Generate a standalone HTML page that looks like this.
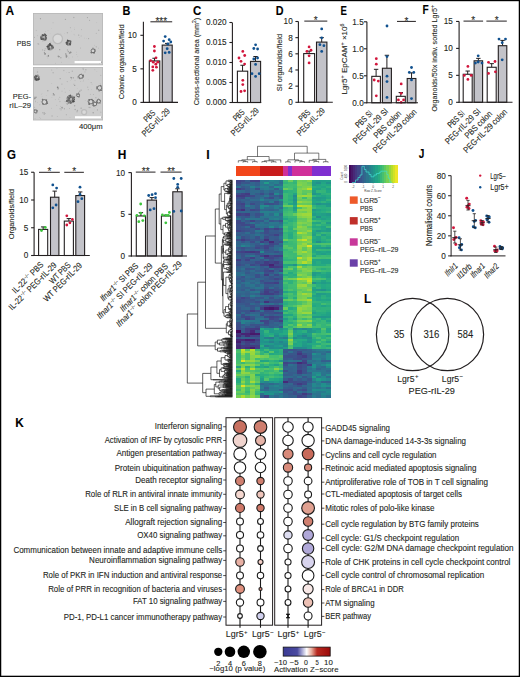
<!DOCTYPE html>
<html><head><meta charset="utf-8"><style>
html,body{margin:0;padding:0;background:#fff;width:520px;height:677px;overflow:hidden}
svg{display:block}
text{font-family:"Liberation Sans", sans-serif; stroke:#231f20; stroke-width:0.1px; paint-order:stroke}
</style></head><body>
<svg width="520" height="677" viewBox="0 0 520 677" font-family='"Liberation Sans", sans-serif'>
<rect x="0.00" y="0.00" width="520.00" height="677.00" fill="#fff"/>
<text x="5.60" y="14.60" font-size="12.3" fill="#000" font-weight="bold" textLength="8.60" lengthAdjust="spacingAndGlyphs">A</text>
<defs><filter id="bl" x="-10%" y="-10%" width="120%" height="120%"><feGaussianBlur stdDeviation="0.7"/></filter><clipPath id="ca1"><rect x="33.5" y="13.5" width="69" height="51.2"/></clipPath><clipPath id="ca2"><rect x="33.5" y="67.5" width="69" height="52.3"/></clipPath></defs>
<rect x="33.00" y="13.00" width="70.00" height="52.20" fill="#cdcdcd"/>
<g clip-path="url(#ca1)" filter="url(#bl)">
<circle cx="45.22" cy="48.63" r="0.54" fill="#b2b2b2"/>
<circle cx="48.69" cy="53.79" r="0.39" fill="#c0c0c0"/>
<circle cx="69.87" cy="53.58" r="0.49" fill="#a0a0a0"/>
<circle cx="73.80" cy="17.48" r="0.76" fill="#aeaeae"/>
<circle cx="81.19" cy="35.93" r="0.61" fill="#bababa"/>
<circle cx="36.32" cy="30.51" r="0.65" fill="#bfbfbf"/>
<circle cx="78.12" cy="61.08" r="0.38" fill="#a1a1a1"/>
<circle cx="89.59" cy="20.27" r="0.53" fill="#a1a1a1"/>
<circle cx="71.54" cy="31.21" r="0.38" fill="#bfbfbf"/>
<circle cx="79.23" cy="37.59" r="0.34" fill="#afafaf"/>
<circle cx="47.42" cy="47.82" r="0.36" fill="#a4a4a4"/>
<circle cx="66.39" cy="55.52" r="0.47" fill="#acacac"/>
<circle cx="43.94" cy="40.90" r="0.48" fill="#b2b2b2"/>
<circle cx="64.69" cy="33.37" r="0.49" fill="#bfbfbf"/>
<circle cx="35.82" cy="18.68" r="0.30" fill="#bfbfbf"/>
<circle cx="38.77" cy="44.09" r="0.59" fill="#aeaeae"/>
<circle cx="55.67" cy="63.20" r="0.39" fill="#a7a7a7"/>
<circle cx="45.57" cy="31.48" r="0.47" fill="#b5b5b5"/>
<circle cx="74.61" cy="29.39" r="0.38" fill="#a6a6a6"/>
<circle cx="96.77" cy="22.74" r="0.49" fill="#bbbbbb"/>
<circle cx="80.47" cy="47.93" r="0.50" fill="#afafaf"/>
<circle cx="101.26" cy="62.26" r="0.74" fill="#a0a0a0"/>
<circle cx="67.38" cy="32.85" r="0.77" fill="#afafaf"/>
<circle cx="50.72" cy="42.20" r="0.70" fill="#bcbcbc"/>
<circle cx="86.63" cy="38.26" r="0.33" fill="#b2b2b2"/>
<circle cx="51.54" cy="28.55" r="0.42" fill="#bababa"/>
<circle cx="60.83" cy="57.69" r="0.79" fill="#a9a9a9"/>
<circle cx="84.72" cy="38.04" r="0.37" fill="#b0b0b0"/>
<circle cx="78.22" cy="59.75" r="0.31" fill="#bebebe"/>
<circle cx="48.42" cy="56.08" r="0.74" fill="#a9a9a9"/>
<circle cx="74.89" cy="35.39" r="0.45" fill="#bebebe"/>
<circle cx="70.33" cy="27.85" r="0.49" fill="#a0a0a0"/>
<circle cx="42.56" cy="49.93" r="0.60" fill="#b0b0b0"/>
<circle cx="77.78" cy="56.75" r="0.43" fill="#bababa"/>
<circle cx="61.58" cy="62.13" r="0.37" fill="#a8a8a8"/>
<circle cx="40.45" cy="18.72" r="0.62" fill="#a1a1a1"/>
<circle cx="87.46" cy="17.61" r="0.63" fill="#a7a7a7"/>
<circle cx="42.60" cy="41.04" r="0.50" fill="#b4b4b4"/>
<circle cx="94.38" cy="45.18" r="0.39" fill="#ababab"/>
<circle cx="59.69" cy="49.64" r="0.60" fill="#a2a2a2"/>
<circle cx="68.33" cy="51.43" r="0.70" fill="#a3a3a3"/>
<circle cx="34.53" cy="37.29" r="0.50" fill="#a4a4a4"/>
<circle cx="72.55" cy="56.89" r="0.43" fill="#aeaeae"/>
<circle cx="81.38" cy="29.74" r="0.42" fill="#a2a2a2"/>
<circle cx="44.62" cy="50.45" r="0.71" fill="#b2b2b2"/>
<circle cx="88.61" cy="38.60" r="0.57" fill="#a6a6a6"/>
<circle cx="38.08" cy="43.86" r="0.78" fill="#b4b4b4"/>
<circle cx="55.09" cy="49.11" r="0.33" fill="#acacac"/>
<circle cx="89.40" cy="63.04" r="0.33" fill="#b6b6b6"/>
<circle cx="78.74" cy="35.10" r="0.63" fill="#a4a4a4"/>
<circle cx="76.61" cy="54.55" r="0.55" fill="#bcbcbc"/>
<circle cx="98.40" cy="48.13" r="0.54" fill="#bcbcbc"/>
<circle cx="68.88" cy="57.96" r="0.41" fill="#a4a4a4"/>
<circle cx="37.32" cy="35.78" r="0.44" fill="#afafaf"/>
<circle cx="74.08" cy="34.31" r="0.53" fill="#bbbbbb"/>
<circle cx="50.08" cy="33.35" r="0.41" fill="#bfbfbf"/>
<circle cx="96.20" cy="46.85" r="0.54" fill="#a2a2a2"/>
<circle cx="67.45" cy="50.00" r="0.69" fill="#adadad"/>
<circle cx="76.62" cy="52.08" r="0.42" fill="#b0b0b0"/>
<circle cx="96.33" cy="33.37" r="0.71" fill="#b8b8b8"/>
<circle cx="99.53" cy="63.66" r="0.38" fill="#a0a0a0"/>
<circle cx="47.74" cy="57.96" r="0.35" fill="#a9a9a9"/>
<circle cx="45.92" cy="40.22" r="0.67" fill="#b8b8b8"/>
<circle cx="65.44" cy="19.43" r="0.65" fill="#aaaaaa"/>
<circle cx="48.00" cy="30.83" r="0.43" fill="#acacac"/>
<circle cx="98.68" cy="30.17" r="0.77" fill="#b0b0b0"/>
<circle cx="99.77" cy="59.17" r="0.40" fill="#c0c0c0"/>
<circle cx="74.66" cy="27.93" r="0.38" fill="#b8b8b8"/>
<circle cx="60.70" cy="34.16" r="0.61" fill="#bdbdbd"/>
<circle cx="53.08" cy="22.75" r="0.61" fill="#b8b8b8"/>
<circle cx="43.60" cy="37.20" r="3.13" fill="#9a9a9a"/>
<circle cx="46.24" cy="39.09" r="0.52" fill="#555555"/>
<circle cx="44.77" cy="34.26" r="0.68" fill="#757575"/>
<circle cx="45.74" cy="38.29" r="0.80" fill="#616161"/>
<circle cx="43.09" cy="35.61" r="0.97" fill="#484848"/>
<circle cx="45.54" cy="39.80" r="0.73" fill="#545454"/>
<circle cx="45.14" cy="36.00" r="0.79" fill="#505050"/>
<circle cx="45.37" cy="36.11" r="0.65" fill="#4b4b4b"/>
<circle cx="40.96" cy="38.72" r="0.61" fill="#575757"/>
<circle cx="44.56" cy="34.39" r="0.94" fill="#656565"/>
<circle cx="45.99" cy="37.47" r="0.72" fill="#4d4d4d"/>
<circle cx="45.23" cy="34.36" r="0.59" fill="#727272"/>
<circle cx="46.30" cy="38.26" r="0.77" fill="#6e6e6e"/>
<circle cx="40.99" cy="37.34" r="0.67" fill="#737373"/>
<circle cx="43.36" cy="39.10" r="0.82" fill="#5b5b5b"/>
<circle cx="46.48" cy="37.37" r="0.53" fill="#727272"/>
<circle cx="41.00" cy="37.01" r="0.68" fill="#545454"/>
<circle cx="42.70" cy="38.40" r="0.75" fill="#6d6d6d"/>
<circle cx="42.52" cy="34.88" r="0.52" fill="#525252"/>
<circle cx="43.81" cy="39.11" r="0.70" fill="#585858"/>
<circle cx="42.61" cy="34.67" r="0.71" fill="#696969"/>
<circle cx="42.87" cy="38.65" r="0.52" fill="#686868"/>
<circle cx="42.22" cy="39.04" r="0.82" fill="#707070"/>
<circle cx="45.53" cy="37.46" r="0.58" fill="#666666"/>
<circle cx="45.31" cy="34.88" r="0.84" fill="#595959"/>
<circle cx="44.18" cy="39.96" r="0.77" fill="#6f6f6f"/>
<circle cx="46.32" cy="35.44" r="0.61" fill="#606060"/>
<circle cx="41.02" cy="37.79" r="0.51" fill="#5f5f5f"/>
<circle cx="42.12" cy="39.18" r="0.51" fill="#6e6e6e"/>
<circle cx="41.63" cy="39.14" r="0.97" fill="#535353"/>
<circle cx="44.00" cy="36.90" r="0.82" fill="#c0c0c0"/>
<circle cx="50.00" cy="47.20" r="3.23" fill="#9a9a9a"/>
<circle cx="46.94" cy="46.49" r="0.61" fill="#555555"/>
<circle cx="48.19" cy="47.03" r="0.87" fill="#646464"/>
<circle cx="51.47" cy="45.86" r="0.62" fill="#4d4d4d"/>
<circle cx="48.40" cy="46.05" r="0.91" fill="#727272"/>
<circle cx="49.04" cy="48.33" r="0.96" fill="#494949"/>
<circle cx="52.74" cy="46.40" r="0.87" fill="#727272"/>
<circle cx="49.91" cy="45.54" r="0.76" fill="#6a6a6a"/>
<circle cx="51.84" cy="45.78" r="0.58" fill="#4f4f4f"/>
<circle cx="48.67" cy="45.03" r="0.89" fill="#656565"/>
<circle cx="50.02" cy="44.57" r="0.59" fill="#585858"/>
<circle cx="50.78" cy="45.71" r="0.63" fill="#666666"/>
<circle cx="47.86" cy="46.68" r="0.89" fill="#4a4a4a"/>
<circle cx="48.89" cy="49.05" r="0.87" fill="#5b5b5b"/>
<circle cx="49.59" cy="43.84" r="0.57" fill="#606060"/>
<circle cx="52.85" cy="47.79" r="0.65" fill="#6d6d6d"/>
<circle cx="51.09" cy="45.29" r="0.61" fill="#676767"/>
<circle cx="49.70" cy="44.23" r="0.84" fill="#666666"/>
<circle cx="53.17" cy="47.74" r="0.75" fill="#505050"/>
<circle cx="48.01" cy="47.69" r="0.72" fill="#707070"/>
<circle cx="49.74" cy="45.88" r="0.88" fill="#585858"/>
<circle cx="48.77" cy="48.43" r="0.90" fill="#656565"/>
<circle cx="51.47" cy="46.49" r="0.95" fill="#5d5d5d"/>
<circle cx="51.65" cy="48.07" r="0.56" fill="#707070"/>
<circle cx="50.03" cy="43.94" r="0.84" fill="#4e4e4e"/>
<circle cx="49.53" cy="48.80" r="0.57" fill="#555555"/>
<circle cx="50.30" cy="44.94" r="0.84" fill="#4a4a4a"/>
<circle cx="48.66" cy="49.46" r="0.50" fill="#5f5f5f"/>
<circle cx="51.00" cy="45.68" r="0.85" fill="#585858"/>
<circle cx="48.75" cy="47.96" r="0.83" fill="#6e6e6e"/>
<circle cx="52.77" cy="47.57" r="0.85" fill="#6e6e6e"/>
<circle cx="50.40" cy="46.90" r="0.85" fill="#c0c0c0"/>
<circle cx="57.7" cy="38.8" r="4.8" fill="#d9d9d9" stroke="#bcbcbc" stroke-width="1.3"/>
<circle cx="68.80" cy="42.60" r="2.66" fill="#9a9a9a"/>
<circle cx="66.85" cy="42.75" r="0.69" fill="#6b6b6b"/>
<circle cx="67.40" cy="40.99" r="0.57" fill="#5f5f5f"/>
<circle cx="67.34" cy="43.63" r="0.73" fill="#717171"/>
<circle cx="67.42" cy="42.48" r="0.51" fill="#565656"/>
<circle cx="67.68" cy="41.18" r="0.89" fill="#565656"/>
<circle cx="70.71" cy="41.25" r="0.75" fill="#5e5e5e"/>
<circle cx="70.04" cy="44.70" r="0.85" fill="#5c5c5c"/>
<circle cx="67.97" cy="45.21" r="0.59" fill="#656565"/>
<circle cx="70.03" cy="44.32" r="0.61" fill="#515151"/>
<circle cx="70.29" cy="43.86" r="0.81" fill="#4f4f4f"/>
<circle cx="69.67" cy="43.44" r="0.85" fill="#747474"/>
<circle cx="67.70" cy="42.33" r="0.61" fill="#575757"/>
<circle cx="67.50" cy="42.01" r="0.79" fill="#636363"/>
<circle cx="69.60" cy="40.85" r="0.91" fill="#727272"/>
<circle cx="66.60" cy="44.21" r="0.68" fill="#737373"/>
<circle cx="69.03" cy="41.58" r="0.52" fill="#676767"/>
<circle cx="66.78" cy="43.99" r="0.59" fill="#666666"/>
<circle cx="69.81" cy="42.10" r="0.89" fill="#585858"/>
<circle cx="68.43" cy="40.69" r="0.64" fill="#525252"/>
<circle cx="67.51" cy="43.96" r="0.69" fill="#585858"/>
<circle cx="69.14" cy="41.58" r="0.79" fill="#5a5a5a"/>
<circle cx="66.34" cy="42.81" r="0.88" fill="#505050"/>
<circle cx="69.71" cy="43.84" r="0.63" fill="#4f4f4f"/>
<circle cx="67.64" cy="40.24" r="0.69" fill="#4b4b4b"/>
<circle cx="69.96" cy="41.29" r="0.55" fill="#747474"/>
<circle cx="70.16" cy="42.36" r="0.86" fill="#5f5f5f"/>
<circle cx="69.20" cy="42.30" r="0.70" fill="#c0c0c0"/>
<circle cx="93.0" cy="50.8" r="1.9" fill="#d4d4d4" stroke="#666" stroke-width="0.9"/>
<circle cx="95.27" cy="51.49" r="0.53" fill="#868686"/>
<circle cx="94.00" cy="53.18" r="0.60" fill="#7b7b7b"/>
<circle cx="94.08" cy="52.57" r="0.75" fill="#6a6a6a"/>
<circle cx="91.75" cy="52.85" r="0.74" fill="#6e6e6e"/>
<circle cx="95.05" cy="50.33" r="0.61" fill="#767676"/>
<circle cx="91.50" cy="52.30" r="0.76" fill="#868686"/>
<circle cx="93.91" cy="52.79" r="0.53" fill="#696969"/>
<circle cx="94.96" cy="49.20" r="0.52" fill="#696969"/>
<circle cx="93.00" cy="48.38" r="0.79" fill="#8f8f8f"/>
<circle cx="94.52" cy="49.35" r="0.53" fill="#737373"/>
<circle cx="91.09" cy="52.60" r="0.69" fill="#6a6a6a"/>
<circle cx="44.33" cy="52.41" r="0.53" fill="#818181"/>
<circle cx="44.69" cy="52.30" r="0.46" fill="#a7a7a7"/>
<circle cx="45.02" cy="53.84" r="0.89" fill="#818181"/>
<circle cx="44.39" cy="53.43" r="0.51" fill="#9f9f9f"/>
<circle cx="48.31" cy="55.86" r="0.73" fill="#8a8a8a"/>
<circle cx="48.54" cy="56.04" r="0.42" fill="#929292"/>
<circle cx="48.51" cy="55.33" r="0.46" fill="#808080"/>
<circle cx="47.10" cy="56.27" r="0.46" fill="#9e9e9e"/>
<circle cx="66.77" cy="55.99" r="0.84" fill="#a0a0a0"/>
<circle cx="66.22" cy="55.15" r="0.76" fill="#929292"/>
<circle cx="65.79" cy="53.92" r="0.60" fill="#878787"/>
<circle cx="66.38" cy="56.80" r="0.84" fill="#909090"/>
<circle cx="70.69" cy="52.27" r="0.57" fill="#909090"/>
<circle cx="69.70" cy="53.26" r="0.81" fill="#a8a8a8"/>
<circle cx="70.59" cy="52.32" r="0.88" fill="#919191"/>
<circle cx="69.33" cy="52.69" r="0.51" fill="#828282"/>
<circle cx="58.18" cy="56.15" r="0.56" fill="#818181"/>
<circle cx="58.52" cy="56.33" r="0.56" fill="#a3a3a3"/>
<circle cx="59.19" cy="56.46" r="0.49" fill="#8a8a8a"/>
<circle cx="58.84" cy="56.69" r="0.76" fill="#939393"/>
</g>
<rect x="33.40" y="13.40" width="69.20" height="51.40" fill="none" stroke="#b8b8b8" stroke-width="0.8"/>
<rect x="33.00" y="67.00" width="70.00" height="53.30" fill="#cdcdcd"/>
<g clip-path="url(#ca2)" filter="url(#bl)">
<circle cx="60.11" cy="108.78" r="0.67" fill="#b2b2b2"/>
<circle cx="83.59" cy="80.52" r="0.41" fill="#b4b4b4"/>
<circle cx="89.85" cy="107.49" r="0.80" fill="#acacac"/>
<circle cx="39.70" cy="117.48" r="0.53" fill="#bdbdbd"/>
<circle cx="81.11" cy="108.24" r="0.66" fill="#ababab"/>
<circle cx="63.80" cy="70.57" r="0.76" fill="#b8b8b8"/>
<circle cx="39.76" cy="104.66" r="0.75" fill="#bfbfbf"/>
<circle cx="97.43" cy="109.92" r="0.61" fill="#a7a7a7"/>
<circle cx="34.60" cy="107.32" r="0.56" fill="#b3b3b3"/>
<circle cx="83.08" cy="68.10" r="0.74" fill="#a4a4a4"/>
<circle cx="101.06" cy="117.22" r="0.59" fill="#a5a5a5"/>
<circle cx="58.71" cy="99.10" r="0.69" fill="#b9b9b9"/>
<circle cx="67.22" cy="81.61" r="0.62" fill="#b3b3b3"/>
<circle cx="100.11" cy="83.48" r="0.38" fill="#a9a9a9"/>
<circle cx="61.95" cy="84.08" r="0.68" fill="#b0b0b0"/>
<circle cx="60.68" cy="106.20" r="0.57" fill="#b7b7b7"/>
<circle cx="37.47" cy="72.05" r="0.74" fill="#acacac"/>
<circle cx="65.29" cy="92.25" r="0.72" fill="#c0c0c0"/>
<circle cx="78.74" cy="92.27" r="0.64" fill="#acacac"/>
<circle cx="55.45" cy="99.60" r="0.57" fill="#bebebe"/>
<circle cx="85.17" cy="100.46" r="0.40" fill="#b0b0b0"/>
<circle cx="46.22" cy="95.74" r="0.35" fill="#aaaaaa"/>
<circle cx="83.20" cy="81.61" r="0.51" fill="#bebebe"/>
<circle cx="70.38" cy="80.75" r="0.34" fill="#b0b0b0"/>
<circle cx="75.14" cy="109.54" r="0.72" fill="#a7a7a7"/>
<circle cx="72.29" cy="71.21" r="0.65" fill="#aaaaaa"/>
<circle cx="68.71" cy="96.43" r="0.62" fill="#afafaf"/>
<circle cx="81.50" cy="119.12" r="0.43" fill="#b9b9b9"/>
<circle cx="81.08" cy="90.12" r="0.66" fill="#a0a0a0"/>
<circle cx="99.86" cy="89.44" r="0.77" fill="#b0b0b0"/>
<circle cx="76.81" cy="111.98" r="0.44" fill="#bfbfbf"/>
<circle cx="83.81" cy="79.85" r="0.43" fill="#b7b7b7"/>
<circle cx="99.33" cy="95.17" r="0.33" fill="#c0c0c0"/>
<circle cx="80.18" cy="117.08" r="0.73" fill="#aeaeae"/>
<circle cx="41.02" cy="101.61" r="0.39" fill="#aeaeae"/>
<circle cx="73.52" cy="84.17" r="0.32" fill="#a5a5a5"/>
<circle cx="37.49" cy="102.54" r="0.38" fill="#ababab"/>
<circle cx="60.99" cy="110.10" r="0.69" fill="#bdbdbd"/>
<circle cx="100.74" cy="75.49" r="0.62" fill="#b8b8b8"/>
<circle cx="64.45" cy="88.71" r="0.47" fill="#b8b8b8"/>
<circle cx="79.70" cy="78.49" r="0.71" fill="#c0c0c0"/>
<circle cx="40.75" cy="118.29" r="0.36" fill="#a2a2a2"/>
<circle cx="59.92" cy="101.49" r="0.70" fill="#b9b9b9"/>
<circle cx="66.46" cy="72.31" r="0.33" fill="#b9b9b9"/>
<circle cx="86.09" cy="114.89" r="0.37" fill="#b0b0b0"/>
<circle cx="69.12" cy="72.55" r="0.53" fill="#a6a6a6"/>
<circle cx="62.01" cy="91.17" r="0.68" fill="#bebebe"/>
<circle cx="94.12" cy="109.11" r="0.42" fill="#bababa"/>
<circle cx="95.81" cy="107.58" r="0.42" fill="#b0b0b0"/>
<circle cx="51.93" cy="97.46" r="0.42" fill="#bbbbbb"/>
<circle cx="97.87" cy="105.81" r="0.49" fill="#bbbbbb"/>
<circle cx="57.28" cy="116.52" r="0.46" fill="#acacac"/>
<circle cx="91.19" cy="82.58" r="0.64" fill="#b2b2b2"/>
<circle cx="35.78" cy="100.35" r="0.33" fill="#b1b1b1"/>
<circle cx="41.99" cy="93.55" r="0.46" fill="#bebebe"/>
<circle cx="91.37" cy="89.72" r="0.41" fill="#b8b8b8"/>
<circle cx="51.65" cy="108.14" r="0.39" fill="#a8a8a8"/>
<circle cx="84.99" cy="71.96" r="0.61" fill="#b7b7b7"/>
<circle cx="70.03" cy="117.57" r="0.50" fill="#c0c0c0"/>
<circle cx="41.23" cy="94.48" r="0.34" fill="#a9a9a9"/>
<circle cx="76.01" cy="116.58" r="0.40" fill="#bfbfbf"/>
<circle cx="88.16" cy="79.72" r="0.31" fill="#adadad"/>
<circle cx="78.10" cy="78.40" r="0.60" fill="#b5b5b5"/>
<circle cx="74.65" cy="105.73" r="0.76" fill="#a7a7a7"/>
<circle cx="53.13" cy="72.78" r="0.74" fill="#b1b1b1"/>
<circle cx="85.84" cy="69.86" r="0.76" fill="#afafaf"/>
<circle cx="88.21" cy="89.70" r="0.49" fill="#a3a3a3"/>
<circle cx="66.49" cy="101.55" r="0.31" fill="#a1a1a1"/>
<circle cx="94.83" cy="69.69" r="0.58" fill="#bfbfbf"/>
<circle cx="74.06" cy="84.16" r="0.66" fill="#bdbdbd"/>
<circle cx="95.89" cy="97.79" r="0.71" fill="#b1b1b1"/>
<circle cx="80.68" cy="81.44" r="0.45" fill="#b4b4b4"/>
<circle cx="82.92" cy="74.77" r="0.58" fill="#aaaaaa"/>
<circle cx="90.30" cy="94.25" r="0.49" fill="#aaaaaa"/>
<circle cx="69.55" cy="108.54" r="0.43" fill="#a5a5a5"/>
<circle cx="81.20" cy="108.11" r="0.49" fill="#b6b6b6"/>
<circle cx="66.31" cy="114.72" r="0.54" fill="#a4a4a4"/>
<circle cx="77.08" cy="111.67" r="0.57" fill="#afafaf"/>
<circle cx="56.91" cy="68.03" r="0.65" fill="#bebebe"/>
<circle cx="77.17" cy="88.26" r="0.30" fill="#aaaaaa"/>
<circle cx="35.02" cy="118.26" r="0.37" fill="#a4a4a4"/>
<circle cx="51.72" cy="70.07" r="0.54" fill="#aeaeae"/>
<circle cx="77.42" cy="110.61" r="0.77" fill="#acacac"/>
<circle cx="92.03" cy="84.10" r="0.37" fill="#a9a9a9"/>
<circle cx="57.66" cy="89.49" r="0.45" fill="#b1b1b1"/>
<circle cx="60.23" cy="78.63" r="0.74" fill="#ababab"/>
<circle cx="93.18" cy="112.75" r="0.74" fill="#a2a2a2"/>
<circle cx="52.13" cy="95.12" r="0.41" fill="#bababa"/>
<circle cx="74.69" cy="85.39" r="0.67" fill="#a0a0a0"/>
<circle cx="37.29" cy="69.90" r="0.38" fill="#bdbdbd"/>
<circle cx="79.75" cy="91.26" r="0.72" fill="#a9a9a9"/>
<circle cx="69.30" cy="90.35" r="0.37" fill="#aeaeae"/>
<circle cx="93.35" cy="94.54" r="0.47" fill="#a2a2a2"/>
<circle cx="42.10" cy="96.65" r="0.51" fill="#c0c0c0"/>
<circle cx="52.05" cy="116.04" r="0.75" fill="#b2b2b2"/>
<circle cx="51.81" cy="83.66" r="0.33" fill="#ababab"/>
<circle cx="56.73" cy="105.33" r="0.52" fill="#b6b6b6"/>
<circle cx="100.85" cy="112.13" r="0.65" fill="#b6b6b6"/>
<circle cx="66.93" cy="109.68" r="0.39" fill="#c0c0c0"/>
<circle cx="75.02" cy="80.52" r="0.73" fill="#bfbfbf"/>
<circle cx="39.40" cy="76.80" r="0.74" fill="#b6b6b6"/>
<circle cx="88.90" cy="107.35" r="0.58" fill="#b2b2b2"/>
<circle cx="101.63" cy="92.28" r="0.34" fill="#b4b4b4"/>
<circle cx="59.73" cy="97.30" r="0.56" fill="#aeaeae"/>
<circle cx="87.74" cy="87.17" r="0.60" fill="#b4b4b4"/>
<circle cx="35.42" cy="101.70" r="0.49" fill="#a0a0a0"/>
<circle cx="64.38" cy="108.74" r="0.64" fill="#aaaaaa"/>
<circle cx="83.22" cy="69.60" r="0.65" fill="#afafaf"/>
<circle cx="96.87" cy="71.67" r="0.38" fill="#b9b9b9"/>
<circle cx="47.84" cy="90.74" r="0.69" fill="#a5a5a5"/>
<circle cx="37.00" cy="77.80" r="2.85" fill="#9a9a9a"/>
<circle cx="36.20" cy="76.14" r="0.57" fill="#4a4a4a"/>
<circle cx="35.90" cy="75.22" r="0.57" fill="#545454"/>
<circle cx="36.38" cy="76.95" r="0.78" fill="#4b4b4b"/>
<circle cx="35.94" cy="76.44" r="0.66" fill="#545454"/>
<circle cx="35.38" cy="76.21" r="0.55" fill="#686868"/>
<circle cx="37.77" cy="79.37" r="0.53" fill="#616161"/>
<circle cx="34.86" cy="76.42" r="0.73" fill="#6a6a6a"/>
<circle cx="36.22" cy="79.97" r="0.61" fill="#636363"/>
<circle cx="38.56" cy="78.32" r="0.82" fill="#666666"/>
<circle cx="35.84" cy="78.11" r="0.86" fill="#717171"/>
<circle cx="35.25" cy="77.40" r="0.77" fill="#707070"/>
<circle cx="39.30" cy="79.26" r="0.61" fill="#5b5b5b"/>
<circle cx="36.84" cy="79.67" r="0.93" fill="#4e4e4e"/>
<circle cx="35.18" cy="79.80" r="0.67" fill="#515151"/>
<circle cx="38.06" cy="77.57" r="0.85" fill="#767676"/>
<circle cx="38.04" cy="79.09" r="0.72" fill="#4f4f4f"/>
<circle cx="38.38" cy="78.84" r="0.57" fill="#545454"/>
<circle cx="37.78" cy="79.58" r="0.80" fill="#707070"/>
<circle cx="35.79" cy="78.23" r="0.78" fill="#646464"/>
<circle cx="37.60" cy="78.75" r="0.54" fill="#5f5f5f"/>
<circle cx="39.27" cy="79.05" r="0.64" fill="#717171"/>
<circle cx="37.72" cy="76.86" r="0.62" fill="#5f5f5f"/>
<circle cx="34.13" cy="77.79" r="0.74" fill="#535353"/>
<circle cx="38.52" cy="78.43" r="0.94" fill="#636363"/>
<circle cx="38.30" cy="79.62" r="0.83" fill="#494949"/>
<circle cx="36.65" cy="79.89" r="0.69" fill="#545454"/>
<circle cx="35.58" cy="79.06" r="0.94" fill="#525252"/>
<circle cx="37.83" cy="74.94" r="0.54" fill="#565656"/>
<circle cx="37.40" cy="77.50" r="0.75" fill="#c0c0c0"/>
<circle cx="80.8" cy="76.4" r="2.0" fill="#d4d4d4" stroke="#666" stroke-width="0.9"/>
<circle cx="81.50" cy="74.17" r="0.58" fill="#8e8e8e"/>
<circle cx="83.19" cy="75.11" r="0.65" fill="#737373"/>
<circle cx="80.55" cy="78.53" r="0.68" fill="#898989"/>
<circle cx="82.63" cy="77.20" r="0.54" fill="#878787"/>
<circle cx="83.07" cy="77.01" r="0.62" fill="#666666"/>
<circle cx="79.65" cy="78.49" r="0.77" fill="#808080"/>
<circle cx="82.33" cy="77.93" r="0.72" fill="#868686"/>
<circle cx="83.34" cy="76.46" r="0.78" fill="#888888"/>
<circle cx="83.35" cy="75.55" r="0.57" fill="#686868"/>
<circle cx="83.49" cy="76.28" r="0.61" fill="#808080"/>
<circle cx="78.12" cy="76.94" r="0.72" fill="#7c7c7c"/>
<circle cx="99.6" cy="87.9" r="2.2" fill="#d4d4d4" stroke="#666" stroke-width="0.9"/>
<circle cx="99.13" cy="90.87" r="0.73" fill="#686868"/>
<circle cx="101.55" cy="90.25" r="0.72" fill="#777777"/>
<circle cx="100.63" cy="90.25" r="0.60" fill="#808080"/>
<circle cx="102.26" cy="88.40" r="0.56" fill="#6f6f6f"/>
<circle cx="100.81" cy="85.58" r="0.47" fill="#767676"/>
<circle cx="96.70" cy="88.72" r="0.78" fill="#858585"/>
<circle cx="97.17" cy="86.34" r="0.45" fill="#6b6b6b"/>
<circle cx="101.81" cy="88.46" r="0.40" fill="#888888"/>
<circle cx="101.19" cy="86.17" r="0.72" fill="#8a8a8a"/>
<circle cx="100.72" cy="90.50" r="0.53" fill="#727272"/>
<circle cx="96.64" cy="87.10" r="0.68" fill="#696969"/>
<circle cx="100.51" cy="85.36" r="0.67" fill="#747474"/>
<circle cx="70.70" cy="99.30" r="4.08" fill="#9a9a9a"/>
<circle cx="70.43" cy="97.82" r="0.80" fill="#494949"/>
<circle cx="69.18" cy="95.63" r="0.73" fill="#626262"/>
<circle cx="73.10" cy="101.07" r="0.99" fill="#4f4f4f"/>
<circle cx="68.89" cy="102.93" r="0.73" fill="#656565"/>
<circle cx="70.24" cy="101.37" r="0.62" fill="#4c4c4c"/>
<circle cx="74.46" cy="99.54" r="0.52" fill="#4c4c4c"/>
<circle cx="70.12" cy="96.58" r="0.97" fill="#6d6d6d"/>
<circle cx="72.97" cy="97.99" r="0.70" fill="#626262"/>
<circle cx="67.00" cy="101.00" r="0.57" fill="#525252"/>
<circle cx="72.41" cy="98.72" r="0.77" fill="#545454"/>
<circle cx="69.22" cy="98.35" r="0.75" fill="#575757"/>
<circle cx="70.83" cy="102.80" r="0.86" fill="#4a4a4a"/>
<circle cx="67.55" cy="101.00" r="0.51" fill="#616161"/>
<circle cx="72.20" cy="97.41" r="0.71" fill="#737373"/>
<circle cx="71.18" cy="97.49" r="0.53" fill="#6a6a6a"/>
<circle cx="66.79" cy="101.01" r="0.77" fill="#484848"/>
<circle cx="72.48" cy="99.13" r="0.98" fill="#676767"/>
<circle cx="69.06" cy="99.85" r="0.52" fill="#676767"/>
<circle cx="68.55" cy="100.03" r="0.89" fill="#525252"/>
<circle cx="73.09" cy="101.42" r="0.96" fill="#515151"/>
<circle cx="70.33" cy="95.44" r="0.83" fill="#5b5b5b"/>
<circle cx="68.58" cy="98.94" r="0.50" fill="#4c4c4c"/>
<circle cx="71.43" cy="97.13" r="0.80" fill="#757575"/>
<circle cx="68.66" cy="99.84" r="0.93" fill="#717171"/>
<circle cx="73.76" cy="98.53" r="0.91" fill="#727272"/>
<circle cx="70.36" cy="102.11" r="0.91" fill="#707070"/>
<circle cx="66.99" cy="98.02" r="0.57" fill="#787878"/>
<circle cx="68.20" cy="97.63" r="0.65" fill="#5d5d5d"/>
<circle cx="68.26" cy="100.97" r="0.56" fill="#6a6a6a"/>
<circle cx="74.25" cy="97.28" r="0.82" fill="#575757"/>
<circle cx="68.15" cy="99.39" r="0.51" fill="#6d6d6d"/>
<circle cx="73.96" cy="101.26" r="0.87" fill="#494949"/>
<circle cx="69.36" cy="100.41" r="0.74" fill="#707070"/>
<circle cx="67.70" cy="96.95" r="0.59" fill="#626262"/>
<circle cx="72.43" cy="99.96" r="0.65" fill="#696969"/>
<circle cx="71.10" cy="99.00" r="1.07" fill="#c0c0c0"/>
<circle cx="44.4" cy="102.0" r="2.4" fill="#d4d4d4" stroke="#666" stroke-width="0.9"/>
<circle cx="46.60" cy="99.68" r="0.54" fill="#6e6e6e"/>
<circle cx="43.03" cy="104.08" r="0.73" fill="#636363"/>
<circle cx="46.83" cy="102.85" r="0.80" fill="#878787"/>
<circle cx="46.77" cy="103.13" r="0.68" fill="#717171"/>
<circle cx="45.96" cy="100.09" r="0.68" fill="#7d7d7d"/>
<circle cx="46.46" cy="100.51" r="0.51" fill="#646464"/>
<circle cx="45.56" cy="104.48" r="0.46" fill="#8f8f8f"/>
<circle cx="42.52" cy="99.56" r="0.77" fill="#7c7c7c"/>
<circle cx="46.54" cy="104.50" r="0.43" fill="#727272"/>
<circle cx="47.44" cy="103.13" r="0.68" fill="#666666"/>
<circle cx="46.92" cy="101.69" r="0.65" fill="#787878"/>
<circle cx="42.81" cy="99.36" r="0.61" fill="#747474"/>
<circle cx="47.54" cy="101.90" r="0.41" fill="#717171"/>
<circle cx="90.9" cy="101.7" r="2.2" fill="#d4d4d4" stroke="#666" stroke-width="0.9"/>
<circle cx="93.39" cy="102.65" r="0.42" fill="#606060"/>
<circle cx="88.47" cy="102.71" r="0.57" fill="#6a6a6a"/>
<circle cx="91.13" cy="99.34" r="0.47" fill="#7c7c7c"/>
<circle cx="88.06" cy="101.23" r="0.74" fill="#909090"/>
<circle cx="89.02" cy="104.04" r="0.76" fill="#747474"/>
<circle cx="89.32" cy="99.94" r="0.78" fill="#878787"/>
<circle cx="89.10" cy="99.84" r="0.79" fill="#676767"/>
<circle cx="91.96" cy="99.52" r="0.69" fill="#656565"/>
<circle cx="89.23" cy="104.03" r="0.62" fill="#898989"/>
<circle cx="93.22" cy="100.85" r="0.78" fill="#787878"/>
<circle cx="93.05" cy="100.87" r="0.74" fill="#686868"/>
<circle cx="89.28" cy="104.10" r="0.78" fill="#6b6b6b"/>
<circle cx="94.9" cy="104.0" r="1.8" fill="#d4d4d4" stroke="#666" stroke-width="0.9"/>
<circle cx="93.97" cy="105.93" r="0.65" fill="#6a6a6a"/>
<circle cx="95.60" cy="102.35" r="0.46" fill="#868686"/>
<circle cx="96.72" cy="102.63" r="0.64" fill="#777777"/>
<circle cx="93.70" cy="105.81" r="0.58" fill="#7b7b7b"/>
<circle cx="92.59" cy="103.78" r="0.48" fill="#616161"/>
<circle cx="92.88" cy="103.02" r="0.49" fill="#909090"/>
<circle cx="94.45" cy="101.81" r="0.47" fill="#6a6a6a"/>
<circle cx="92.94" cy="105.17" r="0.77" fill="#7c7c7c"/>
<circle cx="93.67" cy="105.48" r="0.58" fill="#797979"/>
<circle cx="93.54" cy="105.25" r="0.65" fill="#797979"/>
<circle cx="98.7" cy="101.3" r="1.8" fill="#d4d4d4" stroke="#666" stroke-width="0.9"/>
<circle cx="100.12" cy="102.92" r="0.54" fill="#666666"/>
<circle cx="96.45" cy="101.64" r="0.57" fill="#858585"/>
<circle cx="96.94" cy="101.85" r="0.69" fill="#828282"/>
<circle cx="97.22" cy="100.27" r="0.43" fill="#6f6f6f"/>
<circle cx="96.71" cy="101.89" r="0.67" fill="#6e6e6e"/>
<circle cx="100.35" cy="100.37" r="0.70" fill="#7c7c7c"/>
<circle cx="98.59" cy="99.15" r="0.65" fill="#888888"/>
<circle cx="100.57" cy="101.62" r="0.46" fill="#7c7c7c"/>
<circle cx="97.38" cy="99.75" r="0.50" fill="#787878"/>
<circle cx="97.71" cy="102.78" r="0.62" fill="#6e6e6e"/>
<circle cx="78.1" cy="95.3" r="1.4" fill="#d4d4d4" stroke="#666" stroke-width="0.9"/>
<circle cx="79.40" cy="96.27" r="0.51" fill="#7a7a7a"/>
<circle cx="76.79" cy="94.47" r="0.75" fill="#8e8e8e"/>
<circle cx="78.16" cy="93.78" r="0.44" fill="#7c7c7c"/>
<circle cx="78.60" cy="93.62" r="0.77" fill="#818181"/>
<circle cx="78.94" cy="96.95" r="0.68" fill="#7a7a7a"/>
<circle cx="76.82" cy="93.89" r="0.63" fill="#828282"/>
<circle cx="76.61" cy="94.78" r="0.46" fill="#8e8e8e"/>
<circle cx="76.26" cy="95.76" r="0.51" fill="#848484"/>
<circle cx="79.58" cy="94.42" r="0.48" fill="#757575"/>
<circle cx="35.4" cy="111.4" r="1.4" fill="#d4d4d4" stroke="#666" stroke-width="0.9"/>
<circle cx="34.74" cy="109.61" r="0.68" fill="#848484"/>
<circle cx="37.12" cy="110.87" r="0.66" fill="#6f6f6f"/>
<circle cx="36.33" cy="109.71" r="0.52" fill="#909090"/>
<circle cx="35.31" cy="112.84" r="0.42" fill="#7f7f7f"/>
<circle cx="36.13" cy="112.67" r="0.72" fill="#8e8e8e"/>
<circle cx="36.95" cy="110.37" r="0.71" fill="#7d7d7d"/>
<circle cx="33.78" cy="110.96" r="0.56" fill="#757575"/>
<circle cx="36.92" cy="111.93" r="0.62" fill="#818181"/>
<circle cx="36.72" cy="112.87" r="0.58" fill="#8e8e8e"/>
<circle cx="44.24" cy="114.01" r="0.76" fill="#a1a1a1"/>
<circle cx="45.29" cy="113.40" r="0.42" fill="#999999"/>
<circle cx="42.93" cy="112.63" r="0.50" fill="#8a8a8a"/>
<circle cx="44.39" cy="112.76" r="0.48" fill="#979797"/>
<circle cx="84.1" cy="112.1" r="2.5" fill="#d9d9d9" stroke="#bcbcbc" stroke-width="1.3"/>
<circle cx="54.49" cy="95.12" r="0.47" fill="#989898"/>
<circle cx="53.98" cy="94.70" r="0.72" fill="#939393"/>
<circle cx="53.14" cy="95.14" r="0.48" fill="#a7a7a7"/>
<circle cx="53.38" cy="93.80" r="0.71" fill="#949494"/>
<circle cx="71.51" cy="78.91" r="0.43" fill="#9c9c9c"/>
<circle cx="73.29" cy="77.87" r="0.64" fill="#959595"/>
<circle cx="71.36" cy="77.76" r="0.76" fill="#989898"/>
<circle cx="70.93" cy="77.51" r="0.67" fill="#9e9e9e"/>
<circle cx="65.11" cy="101.76" r="0.43" fill="#898989"/>
<circle cx="66.36" cy="103.83" r="0.44" fill="#929292"/>
<circle cx="67.37" cy="104.00" r="0.66" fill="#9d9d9d"/>
<circle cx="67.29" cy="102.72" r="0.45" fill="#8e8e8e"/>
<circle cx="34.65" cy="98.67" r="0.72" fill="#a0a0a0"/>
<circle cx="36.04" cy="97.29" r="0.76" fill="#9a9a9a"/>
<circle cx="34.98" cy="98.12" r="0.77" fill="#878787"/>
<circle cx="34.79" cy="97.10" r="0.58" fill="#a4a4a4"/>
<circle cx="57.72" cy="88.01" r="0.52" fill="#878787"/>
<circle cx="58.52" cy="88.70" r="0.53" fill="#8b8b8b"/>
<circle cx="57.79" cy="87.64" r="0.43" fill="#929292"/>
<circle cx="57.64" cy="87.28" r="0.84" fill="#818181"/>
<circle cx="62.19" cy="107.45" r="0.72" fill="#9d9d9d"/>
<circle cx="61.73" cy="107.68" r="0.47" fill="#919191"/>
<circle cx="61.22" cy="108.97" r="0.44" fill="#9e9e9e"/>
<circle cx="62.38" cy="108.48" r="0.46" fill="#a8a8a8"/>
</g>
<rect x="33.40" y="67.40" width="69.20" height="52.50" fill="none" stroke="#b8b8b8" stroke-width="0.8"/>
<rect x="74.60" y="61.00" width="26.40" height="2.20" fill="#fff"/>
<rect x="75.00" y="116.20" width="26.00" height="2.20" fill="#fff"/>
<text x="31.00" y="46.20" font-size="7.9" fill="#231f20" text-anchor="end" textLength="14.20" lengthAdjust="spacingAndGlyphs">PBS</text>
<text x="31.00" y="99.30" font-size="7.9" fill="#231f20" text-anchor="end" textLength="18.20" lengthAdjust="spacingAndGlyphs">PEG-</text>
<text x="31.00" y="108.30" font-size="7.9" fill="#231f20" text-anchor="end" textLength="21.80" lengthAdjust="spacingAndGlyphs">rIL–29</text>
<text x="79.00" y="128.50" font-size="7.9" fill="#231f20" textLength="23.60" lengthAdjust="spacingAndGlyphs">400μm</text>
<text x="122.40" y="14.70" font-size="12.3" fill="#000" font-weight="bold" textLength="7.90" lengthAdjust="spacingAndGlyphs">B</text>
<line x1="154.55" y1="60.93" x2="154.55" y2="58.25" stroke="#231f20" stroke-width="1.0"/>
<line x1="152.35" y1="58.25" x2="156.75" y2="58.25" stroke="#231f20" stroke-width="1.0"/>
<rect x="149.30" y="60.93" width="10.50" height="41.47" fill="#fff" stroke="#231f20" stroke-width="1.1"/>
<line x1="167.20" y1="45.10" x2="167.20" y2="43.42" stroke="#231f20" stroke-width="1.0"/>
<line x1="165.00" y1="43.42" x2="169.40" y2="43.42" stroke="#231f20" stroke-width="1.0"/>
<rect x="162.20" y="45.10" width="10.00" height="57.30" fill="#c3c3c9" stroke="#231f20" stroke-width="1.1"/>
<circle cx="154.40" cy="46.50" r="1.40" fill="#d2163c"/>
<circle cx="154.40" cy="51.00" r="1.40" fill="#d2163c"/>
<circle cx="156.00" cy="57.80" r="1.40" fill="#d2163c"/>
<circle cx="150.60" cy="60.60" r="1.40" fill="#d2163c"/>
<circle cx="153.30" cy="62.20" r="1.40" fill="#d2163c"/>
<circle cx="157.80" cy="62.20" r="1.40" fill="#d2163c"/>
<circle cx="155.80" cy="64.20" r="1.40" fill="#d2163c"/>
<circle cx="152.80" cy="66.90" r="1.40" fill="#d2163c"/>
<circle cx="156.40" cy="67.20" r="1.40" fill="#d2163c"/>
<circle cx="152.80" cy="70.30" r="1.40" fill="#d2163c"/>
<circle cx="165.20" cy="36.60" r="1.40" fill="#10518f"/>
<circle cx="163.60" cy="41.10" r="1.40" fill="#10518f"/>
<circle cx="169.20" cy="39.70" r="1.40" fill="#10518f"/>
<circle cx="170.80" cy="42.00" r="1.40" fill="#10518f"/>
<circle cx="167.90" cy="44.00" r="1.40" fill="#10518f"/>
<circle cx="167.20" cy="48.70" r="1.40" fill="#10518f"/>
<circle cx="165.20" cy="52.80" r="1.40" fill="#10518f"/>
<circle cx="169.20" cy="52.40" r="1.40" fill="#10518f"/>
<line x1="143.40" y1="21.80" x2="143.40" y2="102.90" stroke="#231f20" stroke-width="1.1"/>
<line x1="142.90" y1="102.40" x2="178.00" y2="102.40" stroke="#231f20" stroke-width="1.1"/>
<line x1="140.40" y1="102.40" x2="143.40" y2="102.40" stroke="#231f20" stroke-width="1.1"/>
<text x="136.90" y="105.30" font-size="8.2" fill="#231f20" text-anchor="end">0</text>
<line x1="140.40" y1="68.85" x2="143.40" y2="68.85" stroke="#231f20" stroke-width="1.1"/>
<text x="136.90" y="71.75" font-size="8.2" fill="#231f20" text-anchor="end">5</text>
<line x1="140.40" y1="35.30" x2="143.40" y2="35.30" stroke="#231f20" stroke-width="1.1"/>
<text x="136.90" y="38.20" font-size="8.2" fill="#231f20" text-anchor="end">10</text>
<line x1="150.40" y1="21.80" x2="172.20" y2="21.80" stroke="#231f20" stroke-width="1.0"/>
<text x="161.30" y="24.90" font-size="10" fill="#231f20" text-anchor="middle">***</text>
<text transform="translate(123.90,61.90) rotate(-90)" font-size="8.0" fill="#231f20" text-anchor="middle" textLength="74.8" lengthAdjust="spacingAndGlyphs">Colonic organoids/field</text>
<text transform="translate(155.80,113.70) rotate(-45)" font-size="8.7" fill="#231f20" text-anchor="end" textLength="12.3" lengthAdjust="spacingAndGlyphs">PBS</text>
<text transform="translate(170.50,111.60) rotate(-45)" font-size="8.7" fill="#231f20" text-anchor="end" textLength="35.8" lengthAdjust="spacingAndGlyphs">PEG-rIL-29</text>
<text x="192.90" y="14.60" font-size="12.3" fill="#000" font-weight="bold" textLength="8.30" lengthAdjust="spacingAndGlyphs">C</text>
<line x1="242.55" y1="71.18" x2="242.55" y2="65.28" stroke="#231f20" stroke-width="1.0"/>
<line x1="240.35" y1="65.28" x2="244.75" y2="65.28" stroke="#231f20" stroke-width="1.0"/>
<rect x="237.40" y="71.18" width="10.30" height="31.32" fill="#fff" stroke="#231f20" stroke-width="1.1"/>
<line x1="255.55" y1="61.38" x2="255.55" y2="56.50" stroke="#231f20" stroke-width="1.0"/>
<line x1="253.35" y1="56.50" x2="257.75" y2="56.50" stroke="#231f20" stroke-width="1.0"/>
<rect x="250.50" y="61.38" width="10.10" height="41.12" fill="#c3c3c9" stroke="#231f20" stroke-width="1.1"/>
<circle cx="242.80" cy="51.40" r="1.40" fill="#d2163c"/>
<circle cx="244.70" cy="55.50" r="1.40" fill="#d2163c"/>
<circle cx="239.00" cy="58.00" r="1.40" fill="#d2163c"/>
<circle cx="241.00" cy="61.30" r="1.40" fill="#d2163c"/>
<circle cx="244.60" cy="64.10" r="1.40" fill="#d2163c"/>
<circle cx="242.80" cy="80.30" r="1.40" fill="#d2163c"/>
<circle cx="242.80" cy="84.60" r="1.40" fill="#d2163c"/>
<circle cx="241.00" cy="91.50" r="1.40" fill="#d2163c"/>
<circle cx="244.60" cy="90.80" r="1.40" fill="#d2163c"/>
<circle cx="255.60" cy="44.80" r="1.40" fill="#10518f"/>
<circle cx="253.80" cy="48.50" r="1.40" fill="#10518f"/>
<circle cx="257.60" cy="49.00" r="1.40" fill="#10518f"/>
<circle cx="253.80" cy="59.00" r="1.40" fill="#10518f"/>
<circle cx="257.60" cy="58.00" r="1.40" fill="#10518f"/>
<circle cx="255.60" cy="64.40" r="1.40" fill="#10518f"/>
<circle cx="252.00" cy="73.70" r="1.40" fill="#10518f"/>
<circle cx="259.20" cy="73.70" r="1.40" fill="#10518f"/>
<circle cx="255.60" cy="76.40" r="1.40" fill="#10518f"/>
<line x1="232.40" y1="22.70" x2="232.40" y2="103.00" stroke="#231f20" stroke-width="1.1"/>
<line x1="231.90" y1="102.50" x2="261.20" y2="102.50" stroke="#231f20" stroke-width="1.1"/>
<line x1="229.40" y1="102.50" x2="232.40" y2="102.50" stroke="#231f20" stroke-width="1.1"/>
<text x="226.50" y="105.40" font-size="8.2" fill="#231f20" text-anchor="end">0.000</text>
<line x1="229.40" y1="82.50" x2="232.40" y2="82.50" stroke="#231f20" stroke-width="1.1"/>
<text x="226.50" y="85.40" font-size="8.2" fill="#231f20" text-anchor="end">0.005</text>
<line x1="229.40" y1="62.50" x2="232.40" y2="62.50" stroke="#231f20" stroke-width="1.1"/>
<text x="226.50" y="65.40" font-size="8.2" fill="#231f20" text-anchor="end">0.010</text>
<line x1="229.40" y1="42.50" x2="232.40" y2="42.50" stroke="#231f20" stroke-width="1.1"/>
<text x="226.50" y="45.40" font-size="8.2" fill="#231f20" text-anchor="end">0.015</text>
<line x1="229.40" y1="22.50" x2="232.40" y2="22.50" stroke="#231f20" stroke-width="1.1"/>
<text x="226.50" y="25.40" font-size="8.2" fill="#231f20" text-anchor="end">0.020</text>
<text transform="translate(198.90,61.50) rotate(-90)" font-size="8.0" fill="#231f20" text-anchor="middle" textLength="87.5" lengthAdjust="spacingAndGlyphs">Cross-sectional area (mm<tspan font-size="5.5" dy="-3">2</tspan><tspan dy="3">)</tspan></text>
<text transform="translate(245.10,112.90) rotate(-45)" font-size="8.7" fill="#231f20" text-anchor="end" textLength="12.3" lengthAdjust="spacingAndGlyphs">PBS</text>
<text transform="translate(259.60,111.10) rotate(-45)" font-size="8.7" fill="#231f20" text-anchor="end" textLength="35.8" lengthAdjust="spacingAndGlyphs">PEG-rIL-29</text>
<text x="275.70" y="14.60" font-size="12.3" fill="#000" font-weight="bold" textLength="7.80" lengthAdjust="spacingAndGlyphs">D</text>
<line x1="309.15" y1="53.58" x2="309.15" y2="51.15" stroke="#231f20" stroke-width="1.0"/>
<line x1="306.95" y1="51.15" x2="311.35" y2="51.15" stroke="#231f20" stroke-width="1.0"/>
<rect x="303.70" y="53.58" width="10.90" height="48.72" fill="#fff" stroke="#231f20" stroke-width="1.1"/>
<line x1="321.70" y1="42.10" x2="321.70" y2="37.66" stroke="#231f20" stroke-width="1.0"/>
<line x1="319.50" y1="37.66" x2="323.90" y2="37.66" stroke="#231f20" stroke-width="1.0"/>
<rect x="316.50" y="42.10" width="10.40" height="60.20" fill="#c3c3c9" stroke="#231f20" stroke-width="1.1"/>
<circle cx="309.10" cy="46.90" r="1.40" fill="#d2163c"/>
<circle cx="306.90" cy="51.40" r="1.40" fill="#d2163c"/>
<circle cx="311.00" cy="50.20" r="1.40" fill="#d2163c"/>
<circle cx="309.10" cy="55.80" r="1.40" fill="#d2163c"/>
<circle cx="309.10" cy="62.90" r="1.40" fill="#d2163c"/>
<circle cx="321.70" cy="28.90" r="1.40" fill="#10518f"/>
<circle cx="321.70" cy="37.80" r="1.40" fill="#10518f"/>
<circle cx="319.90" cy="44.70" r="1.40" fill="#10518f"/>
<circle cx="323.90" cy="45.70" r="1.40" fill="#10518f"/>
<circle cx="321.70" cy="51.40" r="1.40" fill="#10518f"/>
<line x1="298.40" y1="21.50" x2="298.40" y2="102.80" stroke="#231f20" stroke-width="1.1"/>
<line x1="297.90" y1="102.30" x2="332.80" y2="102.30" stroke="#231f20" stroke-width="1.1"/>
<line x1="295.40" y1="102.30" x2="298.40" y2="102.30" stroke="#231f20" stroke-width="1.1"/>
<text x="292.70" y="105.20" font-size="8.2" fill="#231f20" text-anchor="end">0</text>
<line x1="295.40" y1="86.14" x2="298.40" y2="86.14" stroke="#231f20" stroke-width="1.1"/>
<text x="292.70" y="89.04" font-size="8.2" fill="#231f20" text-anchor="end">2</text>
<line x1="295.40" y1="69.98" x2="298.40" y2="69.98" stroke="#231f20" stroke-width="1.1"/>
<text x="292.70" y="72.88" font-size="8.2" fill="#231f20" text-anchor="end">4</text>
<line x1="295.40" y1="53.82" x2="298.40" y2="53.82" stroke="#231f20" stroke-width="1.1"/>
<text x="292.70" y="56.72" font-size="8.2" fill="#231f20" text-anchor="end">6</text>
<line x1="295.40" y1="37.66" x2="298.40" y2="37.66" stroke="#231f20" stroke-width="1.1"/>
<text x="292.70" y="40.56" font-size="8.2" fill="#231f20" text-anchor="end">8</text>
<line x1="295.40" y1="21.50" x2="298.40" y2="21.50" stroke="#231f20" stroke-width="1.1"/>
<text x="292.70" y="24.40" font-size="8.2" fill="#231f20" text-anchor="end">10</text>
<line x1="304.30" y1="21.10" x2="327.30" y2="21.10" stroke="#231f20" stroke-width="1.0"/>
<text x="315.80" y="24.20" font-size="10" fill="#231f20" text-anchor="middle">*</text>
<text transform="translate(281.90,62.60) rotate(-90)" font-size="8.0" fill="#231f20" text-anchor="middle" textLength="57.3" lengthAdjust="spacingAndGlyphs">SI organoids/field</text>
<text transform="translate(310.80,113.00) rotate(-45)" font-size="8.7" fill="#231f20" text-anchor="end" textLength="12.3" lengthAdjust="spacingAndGlyphs">PBS</text>
<text transform="translate(325.50,111.10) rotate(-45)" font-size="8.7" fill="#231f20" text-anchor="end" textLength="35.8" lengthAdjust="spacingAndGlyphs">PEG-rIL-29</text>
<text x="340.60" y="14.80" font-size="12.3" fill="#000" font-weight="bold" textLength="6.40" lengthAdjust="spacingAndGlyphs">E</text>
<line x1="376.10" y1="76.34" x2="376.10" y2="69.32" stroke="#231f20" stroke-width="1.0"/>
<line x1="373.90" y1="69.32" x2="378.30" y2="69.32" stroke="#231f20" stroke-width="1.0"/>
<rect x="371.80" y="76.34" width="8.60" height="26.46" fill="#fff" stroke="#231f20" stroke-width="1.1"/>
<line x1="386.90" y1="68.24" x2="386.90" y2="55.28" stroke="#231f20" stroke-width="1.0"/>
<line x1="384.70" y1="55.28" x2="389.10" y2="55.28" stroke="#231f20" stroke-width="1.0"/>
<rect x="382.40" y="68.24" width="9.00" height="34.56" fill="#c3c3c9" stroke="#231f20" stroke-width="1.1"/>
<line x1="400.80" y1="96.32" x2="400.80" y2="92.54" stroke="#231f20" stroke-width="1.0"/>
<line x1="398.60" y1="92.54" x2="403.00" y2="92.54" stroke="#231f20" stroke-width="1.0"/>
<rect x="396.30" y="96.32" width="9.00" height="6.48" fill="#fff" stroke="#231f20" stroke-width="1.1"/>
<line x1="411.55" y1="78.50" x2="411.55" y2="72.83" stroke="#231f20" stroke-width="1.0"/>
<line x1="409.35" y1="72.83" x2="413.75" y2="72.83" stroke="#231f20" stroke-width="1.0"/>
<rect x="407.20" y="78.50" width="8.70" height="24.30" fill="#c3c3c9" stroke="#231f20" stroke-width="1.1"/>
<circle cx="376.30" cy="58.70" r="1.40" fill="#d2163c"/>
<circle cx="376.30" cy="64.20" r="1.40" fill="#d2163c"/>
<circle cx="374.20" cy="80.00" r="1.40" fill="#d2163c"/>
<circle cx="378.30" cy="81.10" r="1.40" fill="#d2163c"/>
<circle cx="376.30" cy="95.80" r="1.40" fill="#d2163c"/>
<circle cx="387.00" cy="26.00" r="1.40" fill="#10518f"/>
<circle cx="387.00" cy="56.60" r="1.40" fill="#10518f"/>
<circle cx="387.00" cy="76.20" r="1.40" fill="#10518f"/>
<circle cx="387.00" cy="81.60" r="1.40" fill="#10518f"/>
<circle cx="387.00" cy="97.40" r="1.40" fill="#10518f"/>
<circle cx="401.20" cy="83.90" r="1.40" fill="#d2163c"/>
<circle cx="401.20" cy="93.30" r="1.40" fill="#d2163c"/>
<circle cx="398.40" cy="99.90" r="1.40" fill="#d2163c"/>
<circle cx="403.60" cy="99.90" r="1.40" fill="#d2163c"/>
<circle cx="401.20" cy="102.30" r="1.40" fill="#d2163c"/>
<circle cx="411.50" cy="67.50" r="1.40" fill="#10518f"/>
<circle cx="409.30" cy="72.40" r="1.40" fill="#10518f"/>
<circle cx="413.80" cy="72.40" r="1.40" fill="#10518f"/>
<circle cx="411.50" cy="79.90" r="1.40" fill="#10518f"/>
<circle cx="411.50" cy="98.60" r="1.40" fill="#10518f"/>
<line x1="366.90" y1="21.80" x2="366.90" y2="103.30" stroke="#231f20" stroke-width="1.1"/>
<line x1="366.40" y1="102.80" x2="418.00" y2="102.80" stroke="#231f20" stroke-width="1.1"/>
<line x1="363.90" y1="102.80" x2="366.90" y2="102.80" stroke="#231f20" stroke-width="1.1"/>
<text x="363.70" y="105.70" font-size="8.2" fill="#231f20" text-anchor="end">0.0</text>
<line x1="363.90" y1="75.80" x2="366.90" y2="75.80" stroke="#231f20" stroke-width="1.1"/>
<text x="363.70" y="78.70" font-size="8.2" fill="#231f20" text-anchor="end">0.5</text>
<line x1="363.90" y1="48.80" x2="366.90" y2="48.80" stroke="#231f20" stroke-width="1.1"/>
<text x="363.70" y="51.70" font-size="8.2" fill="#231f20" text-anchor="end">1.0</text>
<line x1="363.90" y1="21.80" x2="366.90" y2="21.80" stroke="#231f20" stroke-width="1.1"/>
<text x="363.70" y="24.70" font-size="8.2" fill="#231f20" text-anchor="end">1.5</text>
<line x1="397.00" y1="21.40" x2="415.90" y2="21.40" stroke="#231f20" stroke-width="1.0"/>
<text x="406.45" y="24.50" font-size="10" fill="#231f20" text-anchor="middle">*</text>
<text transform="translate(346.90,59.00) rotate(-90)" font-size="8.0" fill="#231f20" text-anchor="middle" textLength="71.2" lengthAdjust="spacingAndGlyphs">Lgr5<tspan font-size="5.5" dy="-3">+</tspan><tspan dy="3"> EpCAM</tspan><tspan font-size="5.5" dy="-3">+</tspan><tspan dy="3"> ×10</tspan><tspan font-size="5.5" dy="-3">6</tspan></text>
<text transform="translate(373.10,114.00) rotate(-45)" font-size="8.7" fill="#231f20" text-anchor="end" textLength="20.3" lengthAdjust="spacingAndGlyphs">PBS SI</text>
<text transform="translate(388.80,111.80) rotate(-45)" font-size="8.7" fill="#231f20" text-anchor="end" textLength="46.0" lengthAdjust="spacingAndGlyphs">PEG-rIL-29 SI</text>
<text transform="translate(401.80,114.00) rotate(-45)" font-size="8.7" fill="#231f20" text-anchor="end" textLength="35.0" lengthAdjust="spacingAndGlyphs">PBS colon</text>
<text transform="translate(417.30,112.50) rotate(-45)" font-size="8.7" fill="#231f20" text-anchor="end" textLength="58.0" lengthAdjust="spacingAndGlyphs">PEG-rIL-29 colon</text>
<text x="422.40" y="13.90" font-size="12.3" fill="#000" font-weight="bold" textLength="6.20" lengthAdjust="spacingAndGlyphs">F</text>
<line x1="467.70" y1="74.27" x2="467.70" y2="71.04" stroke="#231f20" stroke-width="1.0"/>
<line x1="465.50" y1="71.04" x2="469.90" y2="71.04" stroke="#231f20" stroke-width="1.0"/>
<rect x="463.20" y="74.27" width="9.00" height="28.03" fill="#fff" stroke="#231f20" stroke-width="1.1"/>
<line x1="478.35" y1="60.80" x2="478.35" y2="58.37" stroke="#231f20" stroke-width="1.0"/>
<line x1="476.15" y1="58.37" x2="480.55" y2="58.37" stroke="#231f20" stroke-width="1.0"/>
<rect x="474.10" y="60.80" width="8.50" height="41.50" fill="#c3c3c9" stroke="#231f20" stroke-width="1.1"/>
<line x1="491.70" y1="67.27" x2="491.70" y2="63.65" stroke="#231f20" stroke-width="1.0"/>
<line x1="489.50" y1="63.65" x2="493.90" y2="63.65" stroke="#231f20" stroke-width="1.0"/>
<rect x="487.20" y="67.27" width="9.00" height="35.03" fill="#fff" stroke="#231f20" stroke-width="1.1"/>
<line x1="502.55" y1="45.70" x2="502.55" y2="40.42" stroke="#231f20" stroke-width="1.0"/>
<line x1="500.35" y1="40.42" x2="504.75" y2="40.42" stroke="#231f20" stroke-width="1.0"/>
<rect x="498.30" y="45.70" width="8.50" height="56.59" fill="#c3c3c9" stroke="#231f20" stroke-width="1.1"/>
<circle cx="467.90" cy="66.40" r="1.40" fill="#d2163c"/>
<circle cx="464.30" cy="75.40" r="1.40" fill="#d2163c"/>
<circle cx="471.20" cy="75.40" r="1.40" fill="#d2163c"/>
<circle cx="467.90" cy="79.40" r="1.40" fill="#d2163c"/>
<circle cx="478.20" cy="55.80" r="1.40" fill="#10518f"/>
<circle cx="475.40" cy="63.10" r="1.40" fill="#10518f"/>
<circle cx="482.00" cy="63.10" r="1.40" fill="#10518f"/>
<circle cx="478.20" cy="62.00" r="1.40" fill="#10518f"/>
<circle cx="488.50" cy="62.30" r="1.40" fill="#d2163c"/>
<circle cx="495.00" cy="61.50" r="1.40" fill="#d2163c"/>
<circle cx="488.50" cy="73.40" r="1.40" fill="#d2163c"/>
<circle cx="495.40" cy="71.80" r="1.40" fill="#d2163c"/>
<circle cx="499.00" cy="39.10" r="1.40" fill="#10518f"/>
<circle cx="505.50" cy="39.10" r="1.40" fill="#10518f"/>
<circle cx="502.20" cy="42.70" r="1.40" fill="#10518f"/>
<circle cx="502.20" cy="59.80" r="1.40" fill="#10518f"/>
<line x1="459.10" y1="21.40" x2="459.10" y2="102.80" stroke="#231f20" stroke-width="1.1"/>
<line x1="458.60" y1="102.30" x2="512.50" y2="102.30" stroke="#231f20" stroke-width="1.1"/>
<line x1="456.10" y1="102.30" x2="459.10" y2="102.30" stroke="#231f20" stroke-width="1.1"/>
<text x="452.90" y="105.20" font-size="8.2" fill="#231f20" text-anchor="end">0</text>
<line x1="456.10" y1="75.35" x2="459.10" y2="75.35" stroke="#231f20" stroke-width="1.1"/>
<text x="452.90" y="78.25" font-size="8.2" fill="#231f20" text-anchor="end">5</text>
<line x1="456.10" y1="48.40" x2="459.10" y2="48.40" stroke="#231f20" stroke-width="1.1"/>
<text x="452.90" y="51.30" font-size="8.2" fill="#231f20" text-anchor="end">10</text>
<line x1="456.10" y1="21.45" x2="459.10" y2="21.45" stroke="#231f20" stroke-width="1.1"/>
<text x="452.90" y="24.35" font-size="8.2" fill="#231f20" text-anchor="end">15</text>
<line x1="463.50" y1="21.10" x2="483.10" y2="21.10" stroke="#231f20" stroke-width="1.0"/>
<text x="473.30" y="24.20" font-size="10" fill="#231f20" text-anchor="middle">*</text>
<line x1="486.40" y1="21.10" x2="506.80" y2="21.10" stroke="#231f20" stroke-width="1.0"/>
<text x="496.60" y="24.20" font-size="10" fill="#231f20" text-anchor="middle">*</text>
<text transform="translate(436.80,58.30) rotate(-90)" font-size="8.0" fill="#231f20" text-anchor="middle" textLength="106.4" lengthAdjust="spacingAndGlyphs">Organoids/50x indiv. sorted Lgr5<tspan font-size="5.5" dy="-3">+</tspan></text>
<text transform="translate(465.30,114.00) rotate(-45)" font-size="8.7" fill="#231f20" text-anchor="end" textLength="20.3" lengthAdjust="spacingAndGlyphs">PBS SI</text>
<text transform="translate(481.10,112.10) rotate(-45)" font-size="8.7" fill="#231f20" text-anchor="end" textLength="46.0" lengthAdjust="spacingAndGlyphs">PEG-rIL-29 SI</text>
<text transform="translate(492.70,114.30) rotate(-45)" font-size="8.7" fill="#231f20" text-anchor="end" textLength="35.0" lengthAdjust="spacingAndGlyphs">PBS colon</text>
<text transform="translate(507.80,112.60) rotate(-45)" font-size="8.7" fill="#231f20" text-anchor="end" textLength="58.0" lengthAdjust="spacingAndGlyphs">PEG-rIL-29 colon</text>
<text x="6.90" y="158.80" font-size="12.3" fill="#000" font-weight="bold" textLength="9.00" lengthAdjust="spacingAndGlyphs">G</text>
<line x1="43.15" y1="229.41" x2="43.15" y2="226.92" stroke="#231f20" stroke-width="1.0"/>
<line x1="40.95" y1="226.92" x2="45.35" y2="226.92" stroke="#231f20" stroke-width="1.0"/>
<rect x="38.60" y="229.41" width="9.10" height="26.09" fill="#fff" stroke="#231f20" stroke-width="1.1"/>
<line x1="54.70" y1="197.22" x2="54.70" y2="191.12" stroke="#231f20" stroke-width="1.0"/>
<line x1="52.50" y1="191.12" x2="56.90" y2="191.12" stroke="#231f20" stroke-width="1.0"/>
<rect x="50.50" y="197.22" width="8.40" height="58.28" fill="#c3c3c9" stroke="#231f20" stroke-width="1.1"/>
<line x1="68.85" y1="221.09" x2="68.85" y2="218.59" stroke="#231f20" stroke-width="1.0"/>
<line x1="66.65" y1="218.59" x2="71.05" y2="218.59" stroke="#231f20" stroke-width="1.0"/>
<rect x="64.30" y="221.09" width="9.10" height="34.41" fill="#fff" stroke="#231f20" stroke-width="1.1"/>
<line x1="80.20" y1="195.56" x2="80.20" y2="191.95" stroke="#231f20" stroke-width="1.0"/>
<line x1="78.00" y1="191.95" x2="82.40" y2="191.95" stroke="#231f20" stroke-width="1.0"/>
<rect x="75.80" y="195.56" width="8.80" height="59.94" fill="#c3c3c9" stroke="#231f20" stroke-width="1.1"/>
<circle cx="41.50" cy="230.60" r="1.40" fill="#3cc43c"/>
<circle cx="45.30" cy="227.40" r="1.40" fill="#3cc43c"/>
<circle cx="52.80" cy="184.90" r="1.40" fill="#10518f"/>
<circle cx="56.60" cy="188.10" r="1.40" fill="#10518f"/>
<circle cx="52.80" cy="207.80" r="1.40" fill="#10518f"/>
<circle cx="56.10" cy="205.00" r="1.40" fill="#10518f"/>
<circle cx="66.80" cy="215.80" r="1.40" fill="#d2163c"/>
<circle cx="72.40" cy="219.40" r="1.40" fill="#d2163c"/>
<circle cx="69.90" cy="222.80" r="1.40" fill="#d2163c"/>
<circle cx="66.80" cy="225.00" r="1.40" fill="#d2163c"/>
<circle cx="80.00" cy="187.20" r="1.40" fill="#10518f"/>
<circle cx="80.00" cy="194.50" r="1.40" fill="#10518f"/>
<circle cx="78.00" cy="201.70" r="1.40" fill="#10518f"/>
<circle cx="81.80" cy="198.70" r="1.40" fill="#10518f"/>
<line x1="34.10" y1="172.30" x2="34.10" y2="256.00" stroke="#231f20" stroke-width="1.1"/>
<line x1="33.60" y1="255.50" x2="89.80" y2="255.50" stroke="#231f20" stroke-width="1.1"/>
<line x1="31.10" y1="255.50" x2="34.10" y2="255.50" stroke="#231f20" stroke-width="1.1"/>
<text x="28.30" y="258.40" font-size="8.2" fill="#231f20" text-anchor="end">0</text>
<line x1="31.10" y1="227.75" x2="34.10" y2="227.75" stroke="#231f20" stroke-width="1.1"/>
<text x="28.30" y="230.65" font-size="8.2" fill="#231f20" text-anchor="end">5</text>
<line x1="31.10" y1="200.00" x2="34.10" y2="200.00" stroke="#231f20" stroke-width="1.1"/>
<text x="28.30" y="202.90" font-size="8.2" fill="#231f20" text-anchor="end">10</text>
<line x1="31.10" y1="172.25" x2="34.10" y2="172.25" stroke="#231f20" stroke-width="1.1"/>
<text x="28.30" y="175.15" font-size="8.2" fill="#231f20" text-anchor="end">15</text>
<line x1="39.00" y1="172.30" x2="59.80" y2="172.30" stroke="#231f20" stroke-width="1.0"/>
<text x="49.40" y="175.40" font-size="10" fill="#231f20" text-anchor="middle">*</text>
<line x1="64.30" y1="172.30" x2="83.90" y2="172.30" stroke="#231f20" stroke-width="1.0"/>
<text x="74.10" y="175.40" font-size="10" fill="#231f20" text-anchor="middle">*</text>
<text transform="translate(14.20,214.20) rotate(-90)" font-size="8.0" fill="#231f20" text-anchor="middle" textLength="50.2" lengthAdjust="spacingAndGlyphs">Organoids/field</text>
<text transform="translate(44.10,265.30) rotate(-45)" font-size="8.7" fill="#231f20" text-anchor="end" textLength="40.5" lengthAdjust="spacingAndGlyphs">IL-22<tspan font-size="5" dy="-3">−/−</tspan><tspan dy="3"> PBS</tspan></text>
<text transform="translate(57.10,265.80) rotate(-45)" font-size="8.7" fill="#231f20" text-anchor="end" textLength="63.7" lengthAdjust="spacingAndGlyphs">IL-22<tspan font-size="5" dy="-3">−/−</tspan><tspan dy="3"> PEG-rIL-29</tspan></text>
<text transform="translate(71.30,265.80) rotate(-45)" font-size="8.7" fill="#231f20" text-anchor="end" textLength="26.4" lengthAdjust="spacingAndGlyphs">WT PBS</text>
<text transform="translate(82.70,266.10) rotate(-45)" font-size="8.7" fill="#231f20" text-anchor="end" textLength="51.0" lengthAdjust="spacingAndGlyphs">WT PEG-rIL-29</text>
<text x="117.80" y="158.90" font-size="12.3" fill="#000" font-weight="bold" textLength="8.60" lengthAdjust="spacingAndGlyphs">H</text>
<line x1="140.90" y1="215.97" x2="140.90" y2="212.63" stroke="#231f20" stroke-width="1.0"/>
<line x1="138.70" y1="212.63" x2="143.10" y2="212.63" stroke="#231f20" stroke-width="1.0"/>
<rect x="136.30" y="215.97" width="9.20" height="40.03" fill="#fff" stroke="#231f20" stroke-width="1.1"/>
<line x1="151.85" y1="200.12" x2="151.85" y2="197.62" stroke="#231f20" stroke-width="1.0"/>
<line x1="149.65" y1="197.62" x2="154.05" y2="197.62" stroke="#231f20" stroke-width="1.0"/>
<rect x="147.20" y="200.12" width="9.30" height="55.88" fill="#c3c3c9" stroke="#231f20" stroke-width="1.1"/>
<line x1="166.00" y1="215.97" x2="166.00" y2="215.13" stroke="#231f20" stroke-width="1.0"/>
<line x1="163.80" y1="215.13" x2="168.20" y2="215.13" stroke="#231f20" stroke-width="1.0"/>
<rect x="161.40" y="215.97" width="9.20" height="40.03" fill="#fff" stroke="#231f20" stroke-width="1.1"/>
<line x1="177.45" y1="191.78" x2="177.45" y2="188.78" stroke="#231f20" stroke-width="1.0"/>
<line x1="175.25" y1="188.78" x2="179.65" y2="188.78" stroke="#231f20" stroke-width="1.0"/>
<rect x="172.80" y="191.78" width="9.30" height="64.22" fill="#c3c3c9" stroke="#231f20" stroke-width="1.1"/>
<circle cx="140.70" cy="204.00" r="1.40" fill="#3cc43c"/>
<circle cx="136.90" cy="215.40" r="1.40" fill="#3cc43c"/>
<circle cx="140.70" cy="213.20" r="1.40" fill="#3cc43c"/>
<circle cx="144.30" cy="215.80" r="1.40" fill="#3cc43c"/>
<circle cx="138.80" cy="221.70" r="1.40" fill="#3cc43c"/>
<circle cx="142.80" cy="220.60" r="1.40" fill="#3cc43c"/>
<circle cx="148.70" cy="195.50" r="1.40" fill="#10518f"/>
<circle cx="152.10" cy="194.70" r="1.40" fill="#10518f"/>
<circle cx="155.50" cy="193.70" r="1.40" fill="#10518f"/>
<circle cx="155.50" cy="197.70" r="1.40" fill="#10518f"/>
<circle cx="150.20" cy="209.90" r="1.40" fill="#10518f"/>
<circle cx="154.00" cy="208.70" r="1.40" fill="#10518f"/>
<circle cx="162.40" cy="214.90" r="1.40" fill="#3cc43c"/>
<circle cx="165.80" cy="215.40" r="1.40" fill="#3cc43c"/>
<circle cx="169.40" cy="212.40" r="1.40" fill="#3cc43c"/>
<circle cx="168.30" cy="215.40" r="1.40" fill="#3cc43c"/>
<circle cx="165.80" cy="222.80" r="1.40" fill="#3cc43c"/>
<circle cx="173.80" cy="178.50" r="1.40" fill="#10518f"/>
<circle cx="181.20" cy="178.50" r="1.40" fill="#10518f"/>
<circle cx="177.70" cy="184.40" r="1.40" fill="#10518f"/>
<circle cx="177.70" cy="187.30" r="1.40" fill="#10518f"/>
<circle cx="173.80" cy="211.40" r="1.40" fill="#10518f"/>
<circle cx="181.20" cy="211.00" r="1.40" fill="#10518f"/>
<line x1="131.40" y1="172.60" x2="131.40" y2="256.50" stroke="#231f20" stroke-width="1.1"/>
<line x1="130.90" y1="256.00" x2="187.00" y2="256.00" stroke="#231f20" stroke-width="1.1"/>
<line x1="128.40" y1="256.00" x2="131.40" y2="256.00" stroke="#231f20" stroke-width="1.1"/>
<text x="125.10" y="258.90" font-size="8.2" fill="#231f20" text-anchor="end">0</text>
<line x1="128.40" y1="214.30" x2="131.40" y2="214.30" stroke="#231f20" stroke-width="1.1"/>
<text x="125.10" y="217.20" font-size="8.2" fill="#231f20" text-anchor="end">5</text>
<line x1="128.40" y1="172.60" x2="131.40" y2="172.60" stroke="#231f20" stroke-width="1.1"/>
<text x="125.10" y="175.50" font-size="8.2" fill="#231f20" text-anchor="end">10</text>
<line x1="135.80" y1="172.10" x2="155.50" y2="172.10" stroke="#231f20" stroke-width="1.0"/>
<text x="145.65" y="175.20" font-size="10" fill="#231f20" text-anchor="middle">**</text>
<line x1="160.50" y1="172.10" x2="181.60" y2="172.10" stroke="#231f20" stroke-width="1.0"/>
<text x="171.05" y="175.20" font-size="10" fill="#231f20" text-anchor="middle">**</text>
<text transform="translate(138.80,266.50) rotate(-45)" font-size="8.7" fill="#231f20" text-anchor="end" textLength="50.0" lengthAdjust="spacingAndGlyphs"><tspan font-style="italic">Ifnar1</tspan><tspan font-size="5" dy="-3">−/−</tspan><tspan dy="3"> SI PBS</tspan></text>
<text transform="translate(153.10,266.50) rotate(-45)" font-size="8.7" fill="#231f20" text-anchor="end" textLength="74.8" lengthAdjust="spacingAndGlyphs"><tspan font-style="italic">Ifnar1</tspan><tspan font-size="5" dy="-3">−/−</tspan><tspan dy="3"> SI PEG-rIL-29</tspan></text>
<text transform="translate(168.50,266.90) rotate(-45)" font-size="8.7" fill="#231f20" text-anchor="end" textLength="64.0" lengthAdjust="spacingAndGlyphs"><tspan font-style="italic">Ifnar1</tspan><tspan font-size="5" dy="-3">−/−</tspan><tspan dy="3"> colon PBS</tspan></text>
<text transform="translate(182.50,264.50) rotate(-45)" font-size="8.7" fill="#231f20" text-anchor="end" textLength="89.0" lengthAdjust="spacingAndGlyphs"><tspan font-style="italic">Ifnar1</tspan><tspan font-size="5" dy="-3">−/−</tspan><tspan dy="3"> colon PEG-rIL-29</tspan></text>
<text x="206.30" y="158.50" font-size="12.3" fill="#000" font-weight="bold" textLength="3.40" lengthAdjust="spacingAndGlyphs">I</text>
<path d="M243.0 161.6L243.0 162.6M247.7 161.6L247.7 162.6M243.0 161.6L247.7 161.6M238.3 160.7L238.3 162.6M245.4 160.7L245.4 161.6M238.3 160.7L245.4 160.7M252.5 161.6L252.5 162.6M257.2 161.6L257.2 162.6M252.5 161.6L257.2 161.6M241.8 159.8L241.8 160.7M254.8 159.8L254.8 161.6M241.8 159.8L254.8 159.8M261.9 161.6L261.9 162.6M266.6 161.6L266.6 162.6M261.9 161.6L266.6 161.6M271.4 161.8L271.4 162.6M276.1 161.8L276.1 162.6M271.4 161.8L276.1 161.8M264.3 160.8L264.3 161.6M273.7 160.8L273.7 161.8M264.3 160.8L273.7 160.8M269.0 159.9L269.0 160.8M280.8 159.9L280.8 162.6M269.0 159.9L280.8 159.9M299.8 161.6L299.8 162.6M304.5 161.6L304.5 162.6M299.8 161.6L304.5 161.6M295.0 160.7L295.0 162.6M302.1 160.7L302.1 161.6M295.0 160.7L302.1 160.7M285.6 161.8L285.6 162.6M290.3 161.8L290.3 162.6M285.6 161.8L290.3 161.8M287.9 159.8L287.9 161.8M298.6 159.8L298.6 160.7M287.9 159.8L298.6 159.8M313.9 161.4L313.9 162.6M318.7 161.4L318.7 162.6M313.9 161.4L318.7 161.4M323.4 161.7L323.4 162.6M328.1 161.7L328.1 162.6M323.4 161.7L328.1 161.7M309.2 160.3L309.2 162.6M316.3 160.3L316.3 161.4M309.2 160.3L316.3 160.3M312.8 159.4L312.8 160.3M325.8 159.4L325.8 161.7M312.8 159.4L325.8 159.4M247.3 156.5L247.3 159.8M269.1 156.5L269.1 159.9M247.3 156.5L269.1 156.5M294.5 153.1L294.5 159.8M318.8 153.1L318.8 159.4M294.5 153.1L318.8 153.1M257.5 146.3L257.5 156.5M307.2 146.3L307.2 153.1M257.5 146.3L307.2 146.3" fill="none" stroke="#222" stroke-width="0.6"/>
<g shape-rendering="crispEdges">
<rect x="235.90" y="165.80" width="23.90" height="9.80" fill="#f2461a"/>
<rect x="259.60" y="165.80" width="23.50" height="9.80" fill="#c81c1c"/>
<rect x="282.90" y="165.80" width="4.80" height="9.80" fill="#d0309a"/>
<rect x="287.50" y="165.80" width="5.10" height="9.80" fill="#7f30d0"/>
<rect x="292.40" y="165.80" width="19.80" height="9.80" fill="#d0309a"/>
<rect x="312.00" y="165.80" width="18.70" height="9.80" fill="#7f30d0"/>
</g>
<g shape-rendering="crispEdges">
<rect x="235.9" y="180.0" width="5.0" height="2.4" fill="#414387"/>
<rect x="240.6" y="180.0" width="5.0" height="2.4" fill="#3e4a88"/>
<rect x="245.4" y="180.0" width="5.0" height="2.4" fill="#355f8d"/>
<rect x="250.1" y="180.0" width="5.0" height="2.4" fill="#414386"/>
<rect x="254.8" y="180.0" width="5.0" height="2.4" fill="#414286"/>
<rect x="259.6" y="180.0" width="5.0" height="2.4" fill="#297a8e"/>
<rect x="264.3" y="180.0" width="5.0" height="2.4" fill="#2a778e"/>
<rect x="269.0" y="180.0" width="5.0" height="2.4" fill="#26838d"/>
<rect x="273.7" y="180.0" width="5.0" height="2.4" fill="#287d8e"/>
<rect x="278.5" y="180.0" width="5.0" height="2.4" fill="#2d718e"/>
<rect x="283.2" y="180.0" width="5.0" height="2.4" fill="#3bb976"/>
<rect x="287.9" y="180.0" width="5.0" height="2.4" fill="#6bcc5a"/>
<rect x="292.7" y="180.0" width="5.0" height="2.4" fill="#3ab876"/>
<rect x="297.4" y="180.0" width="5.0" height="2.4" fill="#72ce56"/>
<rect x="302.1" y="180.0" width="5.0" height="2.4" fill="#6bcc5a"/>
<rect x="306.9" y="180.0" width="5.0" height="2.4" fill="#84d34a"/>
<rect x="311.6" y="180.0" width="5.0" height="2.4" fill="#22a187"/>
<rect x="316.3" y="180.0" width="5.0" height="2.4" fill="#229d88"/>
<rect x="321.0" y="180.0" width="5.0" height="2.4" fill="#229f87"/>
<rect x="325.8" y="180.0" width="5.0" height="2.4" fill="#22a286"/>
<rect x="235.9" y="182.1" width="5.0" height="2.4" fill="#3f4888"/>
<rect x="240.6" y="182.1" width="5.0" height="2.4" fill="#39578b"/>
<rect x="245.4" y="182.1" width="5.0" height="2.4" fill="#3a558b"/>
<rect x="250.1" y="182.1" width="5.0" height="2.4" fill="#32668d"/>
<rect x="254.8" y="182.1" width="5.0" height="2.4" fill="#365d8d"/>
<rect x="259.6" y="182.1" width="5.0" height="2.4" fill="#297b8e"/>
<rect x="264.3" y="182.1" width="5.0" height="2.4" fill="#229d88"/>
<rect x="269.0" y="182.1" width="5.0" height="2.4" fill="#2a788e"/>
<rect x="273.7" y="182.1" width="5.0" height="2.4" fill="#26828d"/>
<rect x="278.5" y="182.1" width="5.0" height="2.4" fill="#306a8d"/>
<rect x="283.2" y="182.1" width="5.0" height="2.4" fill="#32b37b"/>
<rect x="287.9" y="182.1" width="5.0" height="2.4" fill="#3dba74"/>
<rect x="292.7" y="182.1" width="5.0" height="2.4" fill="#34b479"/>
<rect x="297.4" y="182.1" width="5.0" height="2.4" fill="#7ad151"/>
<rect x="302.1" y="182.1" width="5.0" height="2.4" fill="#75cf54"/>
<rect x="306.9" y="182.1" width="5.0" height="2.4" fill="#60c860"/>
<rect x="311.6" y="182.1" width="5.0" height="2.4" fill="#219b89"/>
<rect x="316.3" y="182.1" width="5.0" height="2.4" fill="#22908c"/>
<rect x="321.0" y="182.1" width="5.0" height="2.4" fill="#22a585"/>
<rect x="325.8" y="182.1" width="5.0" height="2.4" fill="#21928c"/>
<rect x="235.9" y="184.2" width="5.0" height="2.4" fill="#38578b"/>
<rect x="240.6" y="184.2" width="5.0" height="2.4" fill="#31688d"/>
<rect x="245.4" y="184.2" width="5.0" height="2.4" fill="#2f6d8e"/>
<rect x="250.1" y="184.2" width="5.0" height="2.4" fill="#31678d"/>
<rect x="254.8" y="184.2" width="5.0" height="2.4" fill="#365d8d"/>
<rect x="259.6" y="184.2" width="5.0" height="2.4" fill="#2b778e"/>
<rect x="264.3" y="184.2" width="5.0" height="2.4" fill="#2c738e"/>
<rect x="269.0" y="184.2" width="5.0" height="2.4" fill="#27808d"/>
<rect x="273.7" y="184.2" width="5.0" height="2.4" fill="#306a8d"/>
<rect x="278.5" y="184.2" width="5.0" height="2.4" fill="#2c748e"/>
<rect x="283.2" y="184.2" width="5.0" height="2.4" fill="#43bf70"/>
<rect x="287.9" y="184.2" width="5.0" height="2.4" fill="#41bd72"/>
<rect x="292.7" y="184.2" width="5.0" height="2.4" fill="#40bc72"/>
<rect x="297.4" y="184.2" width="5.0" height="2.4" fill="#85d34a"/>
<rect x="302.1" y="184.2" width="5.0" height="2.4" fill="#74cf54"/>
<rect x="306.9" y="184.2" width="5.0" height="2.4" fill="#6ccc59"/>
<rect x="311.6" y="184.2" width="5.0" height="2.4" fill="#219c88"/>
<rect x="316.3" y="184.2" width="5.0" height="2.4" fill="#22a485"/>
<rect x="321.0" y="184.2" width="5.0" height="2.4" fill="#27ab81"/>
<rect x="325.8" y="184.2" width="5.0" height="2.4" fill="#22a784"/>
<rect x="235.9" y="186.3" width="5.0" height="2.4" fill="#2d718e"/>
<rect x="240.6" y="186.3" width="5.0" height="2.4" fill="#38598c"/>
<rect x="245.4" y="186.3" width="5.0" height="2.4" fill="#34628d"/>
<rect x="250.1" y="186.3" width="5.0" height="2.4" fill="#27808d"/>
<rect x="254.8" y="186.3" width="5.0" height="2.4" fill="#2f6c8e"/>
<rect x="259.6" y="186.3" width="5.0" height="2.4" fill="#27818d"/>
<rect x="264.3" y="186.3" width="5.0" height="2.4" fill="#27808d"/>
<rect x="269.0" y="186.3" width="5.0" height="2.4" fill="#31698d"/>
<rect x="273.7" y="186.3" width="5.0" height="2.4" fill="#21918c"/>
<rect x="278.5" y="186.3" width="5.0" height="2.4" fill="#248a8d"/>
<rect x="283.2" y="186.3" width="5.0" height="2.4" fill="#3dba74"/>
<rect x="287.9" y="186.3" width="5.0" height="2.4" fill="#44bf70"/>
<rect x="292.7" y="186.3" width="5.0" height="2.4" fill="#3cba75"/>
<rect x="297.4" y="186.3" width="5.0" height="2.4" fill="#6bcc5a"/>
<rect x="302.1" y="186.3" width="5.0" height="2.4" fill="#79d151"/>
<rect x="306.9" y="186.3" width="5.0" height="2.4" fill="#84d34a"/>
<rect x="311.6" y="186.3" width="5.0" height="2.4" fill="#2aae7f"/>
<rect x="316.3" y="186.3" width="5.0" height="2.4" fill="#26aa82"/>
<rect x="321.0" y="186.3" width="5.0" height="2.4" fill="#22a585"/>
<rect x="325.8" y="186.3" width="5.0" height="2.4" fill="#2db07d"/>
<rect x="235.9" y="188.4" width="5.0" height="2.4" fill="#423d83"/>
<rect x="240.6" y="188.4" width="5.0" height="2.4" fill="#3d4c89"/>
<rect x="245.4" y="188.4" width="5.0" height="2.4" fill="#365d8d"/>
<rect x="250.1" y="188.4" width="5.0" height="2.4" fill="#31698d"/>
<rect x="254.8" y="188.4" width="5.0" height="2.4" fill="#3e4b88"/>
<rect x="259.6" y="188.4" width="5.0" height="2.4" fill="#2b768e"/>
<rect x="264.3" y="188.4" width="5.0" height="2.4" fill="#287d8e"/>
<rect x="269.0" y="188.4" width="5.0" height="2.4" fill="#2c748e"/>
<rect x="273.7" y="188.4" width="5.0" height="2.4" fill="#375b8c"/>
<rect x="278.5" y="188.4" width="5.0" height="2.4" fill="#277f8d"/>
<rect x="283.2" y="188.4" width="5.0" height="2.4" fill="#68cb5b"/>
<rect x="287.9" y="188.4" width="5.0" height="2.4" fill="#4fc36a"/>
<rect x="292.7" y="188.4" width="5.0" height="2.4" fill="#34b479"/>
<rect x="297.4" y="188.4" width="5.0" height="2.4" fill="#7bd151"/>
<rect x="302.1" y="188.4" width="5.0" height="2.4" fill="#8ad447"/>
<rect x="306.9" y="188.4" width="5.0" height="2.4" fill="#bfdf26"/>
<rect x="311.6" y="188.4" width="5.0" height="2.4" fill="#22a685"/>
<rect x="316.3" y="188.4" width="5.0" height="2.4" fill="#22a286"/>
<rect x="321.0" y="188.4" width="5.0" height="2.4" fill="#2bae7f"/>
<rect x="325.8" y="188.4" width="5.0" height="2.4" fill="#22a187"/>
<rect x="235.9" y="190.4" width="5.0" height="2.4" fill="#2f6c8e"/>
<rect x="240.6" y="190.4" width="5.0" height="2.4" fill="#31698d"/>
<rect x="245.4" y="190.4" width="5.0" height="2.4" fill="#365d8d"/>
<rect x="250.1" y="190.4" width="5.0" height="2.4" fill="#306a8d"/>
<rect x="254.8" y="190.4" width="5.0" height="2.4" fill="#306b8d"/>
<rect x="259.6" y="190.4" width="5.0" height="2.4" fill="#34618d"/>
<rect x="264.3" y="190.4" width="5.0" height="2.4" fill="#2f6e8e"/>
<rect x="269.0" y="190.4" width="5.0" height="2.4" fill="#33638d"/>
<rect x="273.7" y="190.4" width="5.0" height="2.4" fill="#2e708e"/>
<rect x="278.5" y="190.4" width="5.0" height="2.4" fill="#31688d"/>
<rect x="283.2" y="190.4" width="5.0" height="2.4" fill="#2aad7f"/>
<rect x="287.9" y="190.4" width="5.0" height="2.4" fill="#2fb17c"/>
<rect x="292.7" y="190.4" width="5.0" height="2.4" fill="#33b37a"/>
<rect x="297.4" y="190.4" width="5.0" height="2.4" fill="#77d053"/>
<rect x="302.1" y="190.4" width="5.0" height="2.4" fill="#5ec861"/>
<rect x="306.9" y="190.4" width="5.0" height="2.4" fill="#63c95e"/>
<rect x="311.6" y="190.4" width="5.0" height="2.4" fill="#229e88"/>
<rect x="316.3" y="190.4" width="5.0" height="2.4" fill="#36b678"/>
<rect x="321.0" y="190.4" width="5.0" height="2.4" fill="#34b479"/>
<rect x="325.8" y="190.4" width="5.0" height="2.4" fill="#22a784"/>
<rect x="235.9" y="192.5" width="5.0" height="2.4" fill="#3c4f8a"/>
<rect x="240.6" y="192.5" width="5.0" height="2.4" fill="#414386"/>
<rect x="245.4" y="192.5" width="5.0" height="2.4" fill="#433b82"/>
<rect x="250.1" y="192.5" width="5.0" height="2.4" fill="#306a8d"/>
<rect x="254.8" y="192.5" width="5.0" height="2.4" fill="#365c8c"/>
<rect x="259.6" y="192.5" width="5.0" height="2.4" fill="#3c4e89"/>
<rect x="264.3" y="192.5" width="5.0" height="2.4" fill="#33648d"/>
<rect x="269.0" y="192.5" width="5.0" height="2.4" fill="#3c4e89"/>
<rect x="273.7" y="192.5" width="5.0" height="2.4" fill="#24898d"/>
<rect x="278.5" y="192.5" width="5.0" height="2.4" fill="#2e6e8e"/>
<rect x="283.2" y="192.5" width="5.0" height="2.4" fill="#3cb975"/>
<rect x="287.9" y="192.5" width="5.0" height="2.4" fill="#33b37a"/>
<rect x="292.7" y="192.5" width="5.0" height="2.4" fill="#22a486"/>
<rect x="297.4" y="192.5" width="5.0" height="2.4" fill="#70ce57"/>
<rect x="302.1" y="192.5" width="5.0" height="2.4" fill="#55c566"/>
<rect x="306.9" y="192.5" width="5.0" height="2.4" fill="#7ed24e"/>
<rect x="311.6" y="192.5" width="5.0" height="2.4" fill="#21948b"/>
<rect x="316.3" y="192.5" width="5.0" height="2.4" fill="#229e88"/>
<rect x="321.0" y="192.5" width="5.0" height="2.4" fill="#2caf7e"/>
<rect x="325.8" y="192.5" width="5.0" height="2.4" fill="#31b27b"/>
<rect x="235.9" y="194.6" width="5.0" height="2.4" fill="#433b82"/>
<rect x="240.6" y="194.6" width="5.0" height="2.4" fill="#433b82"/>
<rect x="245.4" y="194.6" width="5.0" height="2.4" fill="#414487"/>
<rect x="250.1" y="194.6" width="5.0" height="2.4" fill="#3e4a88"/>
<rect x="254.8" y="194.6" width="5.0" height="2.4" fill="#34618d"/>
<rect x="259.6" y="194.6" width="5.0" height="2.4" fill="#32668d"/>
<rect x="264.3" y="194.6" width="5.0" height="2.4" fill="#2b768e"/>
<rect x="269.0" y="194.6" width="5.0" height="2.4" fill="#365e8d"/>
<rect x="273.7" y="194.6" width="5.0" height="2.4" fill="#365d8d"/>
<rect x="278.5" y="194.6" width="5.0" height="2.4" fill="#3a538a"/>
<rect x="283.2" y="194.6" width="5.0" height="2.4" fill="#3bb975"/>
<rect x="287.9" y="194.6" width="5.0" height="2.4" fill="#2daf7e"/>
<rect x="292.7" y="194.6" width="5.0" height="2.4" fill="#238b8c"/>
<rect x="297.4" y="194.6" width="5.0" height="2.4" fill="#90d643"/>
<rect x="302.1" y="194.6" width="5.0" height="2.4" fill="#a1d938"/>
<rect x="306.9" y="194.6" width="5.0" height="2.4" fill="#93d641"/>
<rect x="311.6" y="194.6" width="5.0" height="2.4" fill="#34b479"/>
<rect x="316.3" y="194.6" width="5.0" height="2.4" fill="#27ac81"/>
<rect x="321.0" y="194.6" width="5.0" height="2.4" fill="#22a485"/>
<rect x="325.8" y="194.6" width="5.0" height="2.4" fill="#26aa82"/>
<rect x="235.9" y="196.7" width="5.0" height="2.4" fill="#3c4f8a"/>
<rect x="240.6" y="196.7" width="5.0" height="2.4" fill="#3f4888"/>
<rect x="245.4" y="196.7" width="5.0" height="2.4" fill="#306b8d"/>
<rect x="250.1" y="196.7" width="5.0" height="2.4" fill="#365d8d"/>
<rect x="254.8" y="196.7" width="5.0" height="2.4" fill="#34628d"/>
<rect x="259.6" y="196.7" width="5.0" height="2.4" fill="#2d718e"/>
<rect x="264.3" y="196.7" width="5.0" height="2.4" fill="#38598c"/>
<rect x="269.0" y="196.7" width="5.0" height="2.4" fill="#3e4b89"/>
<rect x="273.7" y="196.7" width="5.0" height="2.4" fill="#306b8d"/>
<rect x="278.5" y="196.7" width="5.0" height="2.4" fill="#375b8c"/>
<rect x="283.2" y="196.7" width="5.0" height="2.4" fill="#3ab876"/>
<rect x="287.9" y="196.7" width="5.0" height="2.4" fill="#2fb17c"/>
<rect x="292.7" y="196.7" width="5.0" height="2.4" fill="#21968a"/>
<rect x="297.4" y="196.7" width="5.0" height="2.4" fill="#71ce56"/>
<rect x="302.1" y="196.7" width="5.0" height="2.4" fill="#3ebb73"/>
<rect x="306.9" y="196.7" width="5.0" height="2.4" fill="#70ce57"/>
<rect x="311.6" y="196.7" width="5.0" height="2.4" fill="#219a89"/>
<rect x="316.3" y="196.7" width="5.0" height="2.4" fill="#219989"/>
<rect x="321.0" y="196.7" width="5.0" height="2.4" fill="#219c88"/>
<rect x="325.8" y="196.7" width="5.0" height="2.4" fill="#22a685"/>
<rect x="235.9" y="198.8" width="5.0" height="2.4" fill="#375a8c"/>
<rect x="240.6" y="198.8" width="5.0" height="2.4" fill="#34628d"/>
<rect x="245.4" y="198.8" width="5.0" height="2.4" fill="#355f8d"/>
<rect x="250.1" y="198.8" width="5.0" height="2.4" fill="#306b8d"/>
<rect x="254.8" y="198.8" width="5.0" height="2.4" fill="#306a8d"/>
<rect x="259.6" y="198.8" width="5.0" height="2.4" fill="#26838d"/>
<rect x="264.3" y="198.8" width="5.0" height="2.4" fill="#2e6f8e"/>
<rect x="269.0" y="198.8" width="5.0" height="2.4" fill="#2e6f8e"/>
<rect x="273.7" y="198.8" width="5.0" height="2.4" fill="#2e708e"/>
<rect x="278.5" y="198.8" width="5.0" height="2.4" fill="#238c8c"/>
<rect x="283.2" y="198.8" width="5.0" height="2.4" fill="#38b777"/>
<rect x="287.9" y="198.8" width="5.0" height="2.4" fill="#2aad7f"/>
<rect x="292.7" y="198.8" width="5.0" height="2.4" fill="#21908c"/>
<rect x="297.4" y="198.8" width="5.0" height="2.4" fill="#65ca5d"/>
<rect x="302.1" y="198.8" width="5.0" height="2.4" fill="#67cb5c"/>
<rect x="306.9" y="198.8" width="5.0" height="2.4" fill="#5fc861"/>
<rect x="311.6" y="198.8" width="5.0" height="2.4" fill="#22a386"/>
<rect x="316.3" y="198.8" width="5.0" height="2.4" fill="#219c88"/>
<rect x="321.0" y="198.8" width="5.0" height="2.4" fill="#22a187"/>
<rect x="325.8" y="198.8" width="5.0" height="2.4" fill="#33b37a"/>
<rect x="235.9" y="200.9" width="5.0" height="2.4" fill="#3c4f8a"/>
<rect x="240.6" y="200.9" width="5.0" height="2.4" fill="#375a8c"/>
<rect x="245.4" y="200.9" width="5.0" height="2.4" fill="#31678d"/>
<rect x="250.1" y="200.9" width="5.0" height="2.4" fill="#365c8c"/>
<rect x="254.8" y="200.9" width="5.0" height="2.4" fill="#375b8c"/>
<rect x="259.6" y="200.9" width="5.0" height="2.4" fill="#33638d"/>
<rect x="264.3" y="200.9" width="5.0" height="2.4" fill="#33638d"/>
<rect x="269.0" y="200.9" width="5.0" height="2.4" fill="#2a798e"/>
<rect x="273.7" y="200.9" width="5.0" height="2.4" fill="#3a538a"/>
<rect x="278.5" y="200.9" width="5.0" height="2.4" fill="#2f6c8e"/>
<rect x="283.2" y="200.9" width="5.0" height="2.4" fill="#34b47a"/>
<rect x="287.9" y="200.9" width="5.0" height="2.4" fill="#33b47a"/>
<rect x="292.7" y="200.9" width="5.0" height="2.4" fill="#219989"/>
<rect x="297.4" y="200.9" width="5.0" height="2.4" fill="#97d73f"/>
<rect x="302.1" y="200.9" width="5.0" height="2.4" fill="#7ed24f"/>
<rect x="306.9" y="200.9" width="5.0" height="2.4" fill="#79d152"/>
<rect x="311.6" y="200.9" width="5.0" height="2.4" fill="#22a685"/>
<rect x="316.3" y="200.9" width="5.0" height="2.4" fill="#25aa83"/>
<rect x="321.0" y="200.9" width="5.0" height="2.4" fill="#31b27b"/>
<rect x="325.8" y="200.9" width="5.0" height="2.4" fill="#22a884"/>
<rect x="235.9" y="203.0" width="5.0" height="2.4" fill="#3f4988"/>
<rect x="240.6" y="203.0" width="5.0" height="2.4" fill="#414286"/>
<rect x="245.4" y="203.0" width="5.0" height="2.4" fill="#33648d"/>
<rect x="250.1" y="203.0" width="5.0" height="2.4" fill="#3e4b88"/>
<rect x="254.8" y="203.0" width="5.0" height="2.4" fill="#365c8c"/>
<rect x="259.6" y="203.0" width="5.0" height="2.4" fill="#306a8d"/>
<rect x="264.3" y="203.0" width="5.0" height="2.4" fill="#3c4f89"/>
<rect x="269.0" y="203.0" width="5.0" height="2.4" fill="#3c4f89"/>
<rect x="273.7" y="203.0" width="5.0" height="2.4" fill="#39568b"/>
<rect x="278.5" y="203.0" width="5.0" height="2.4" fill="#2f6c8e"/>
<rect x="283.2" y="203.0" width="5.0" height="2.4" fill="#41bd72"/>
<rect x="287.9" y="203.0" width="5.0" height="2.4" fill="#23a884"/>
<rect x="292.7" y="203.0" width="5.0" height="2.4" fill="#219a89"/>
<rect x="297.4" y="203.0" width="5.0" height="2.4" fill="#65ca5d"/>
<rect x="302.1" y="203.0" width="5.0" height="2.4" fill="#65ca5d"/>
<rect x="306.9" y="203.0" width="5.0" height="2.4" fill="#62c95f"/>
<rect x="311.6" y="203.0" width="5.0" height="2.4" fill="#229d88"/>
<rect x="316.3" y="203.0" width="5.0" height="2.4" fill="#21918c"/>
<rect x="321.0" y="203.0" width="5.0" height="2.4" fill="#21988a"/>
<rect x="325.8" y="203.0" width="5.0" height="2.4" fill="#21968a"/>
<rect x="235.9" y="205.1" width="5.0" height="2.4" fill="#3b528a"/>
<rect x="240.6" y="205.1" width="5.0" height="2.4" fill="#3e4b89"/>
<rect x="245.4" y="205.1" width="5.0" height="2.4" fill="#297a8e"/>
<rect x="250.1" y="205.1" width="5.0" height="2.4" fill="#306a8d"/>
<rect x="254.8" y="205.1" width="5.0" height="2.4" fill="#375b8c"/>
<rect x="259.6" y="205.1" width="5.0" height="2.4" fill="#228d8c"/>
<rect x="264.3" y="205.1" width="5.0" height="2.4" fill="#24898d"/>
<rect x="269.0" y="205.1" width="5.0" height="2.4" fill="#2d718e"/>
<rect x="273.7" y="205.1" width="5.0" height="2.4" fill="#287d8e"/>
<rect x="278.5" y="205.1" width="5.0" height="2.4" fill="#27808d"/>
<rect x="283.2" y="205.1" width="5.0" height="2.4" fill="#69cb5b"/>
<rect x="287.9" y="205.1" width="5.0" height="2.4" fill="#6bcc5a"/>
<rect x="292.7" y="205.1" width="5.0" height="2.4" fill="#27ac81"/>
<rect x="297.4" y="205.1" width="5.0" height="2.4" fill="#c0df26"/>
<rect x="302.1" y="205.1" width="5.0" height="2.4" fill="#aedc30"/>
<rect x="306.9" y="205.1" width="5.0" height="2.4" fill="#a6da35"/>
<rect x="311.6" y="205.1" width="5.0" height="2.4" fill="#34b47a"/>
<rect x="316.3" y="205.1" width="5.0" height="2.4" fill="#26ab82"/>
<rect x="321.0" y="205.1" width="5.0" height="2.4" fill="#27ab81"/>
<rect x="325.8" y="205.1" width="5.0" height="2.4" fill="#219b89"/>
<rect x="235.9" y="207.2" width="5.0" height="2.4" fill="#3a558b"/>
<rect x="240.6" y="207.2" width="5.0" height="2.4" fill="#3d4e89"/>
<rect x="245.4" y="207.2" width="5.0" height="2.4" fill="#35608d"/>
<rect x="250.1" y="207.2" width="5.0" height="2.4" fill="#306b8d"/>
<rect x="254.8" y="207.2" width="5.0" height="2.4" fill="#38588c"/>
<rect x="259.6" y="207.2" width="5.0" height="2.4" fill="#24888d"/>
<rect x="264.3" y="207.2" width="5.0" height="2.4" fill="#2f6d8e"/>
<rect x="269.0" y="207.2" width="5.0" height="2.4" fill="#2f6c8e"/>
<rect x="273.7" y="207.2" width="5.0" height="2.4" fill="#287e8e"/>
<rect x="278.5" y="207.2" width="5.0" height="2.4" fill="#306a8d"/>
<rect x="283.2" y="207.2" width="5.0" height="2.4" fill="#2bae7f"/>
<rect x="287.9" y="207.2" width="5.0" height="2.4" fill="#3ab876"/>
<rect x="292.7" y="207.2" width="5.0" height="2.4" fill="#219a89"/>
<rect x="297.4" y="207.2" width="5.0" height="2.4" fill="#48c06e"/>
<rect x="302.1" y="207.2" width="5.0" height="2.4" fill="#73cf55"/>
<rect x="306.9" y="207.2" width="5.0" height="2.4" fill="#91d642"/>
<rect x="311.6" y="207.2" width="5.0" height="2.4" fill="#40bc73"/>
<rect x="316.3" y="207.2" width="5.0" height="2.4" fill="#2eb07d"/>
<rect x="321.0" y="207.2" width="5.0" height="2.4" fill="#2aae7f"/>
<rect x="325.8" y="207.2" width="5.0" height="2.4" fill="#2eb07d"/>
<rect x="235.9" y="209.2" width="5.0" height="2.4" fill="#414286"/>
<rect x="240.6" y="209.2" width="5.0" height="2.4" fill="#45307c"/>
<rect x="245.4" y="209.2" width="5.0" height="2.4" fill="#355f8d"/>
<rect x="250.1" y="209.2" width="5.0" height="2.4" fill="#404687"/>
<rect x="254.8" y="209.2" width="5.0" height="2.4" fill="#3d4d89"/>
<rect x="259.6" y="209.2" width="5.0" height="2.4" fill="#306a8d"/>
<rect x="264.3" y="209.2" width="5.0" height="2.4" fill="#31678d"/>
<rect x="269.0" y="209.2" width="5.0" height="2.4" fill="#35608d"/>
<rect x="273.7" y="209.2" width="5.0" height="2.4" fill="#31698d"/>
<rect x="278.5" y="209.2" width="5.0" height="2.4" fill="#26848d"/>
<rect x="283.2" y="209.2" width="5.0" height="2.4" fill="#34b479"/>
<rect x="287.9" y="209.2" width="5.0" height="2.4" fill="#3ab876"/>
<rect x="292.7" y="209.2" width="5.0" height="2.4" fill="#22a286"/>
<rect x="297.4" y="209.2" width="5.0" height="2.4" fill="#8ed544"/>
<rect x="302.1" y="209.2" width="5.0" height="2.4" fill="#8fd544"/>
<rect x="306.9" y="209.2" width="5.0" height="2.4" fill="#91d642"/>
<rect x="311.6" y="209.2" width="5.0" height="2.4" fill="#219989"/>
<rect x="316.3" y="209.2" width="5.0" height="2.4" fill="#22a286"/>
<rect x="321.0" y="209.2" width="5.0" height="2.4" fill="#25aa82"/>
<rect x="325.8" y="209.2" width="5.0" height="2.4" fill="#2aad7f"/>
<rect x="235.9" y="211.3" width="5.0" height="2.4" fill="#34628d"/>
<rect x="240.6" y="211.3" width="5.0" height="2.4" fill="#31678d"/>
<rect x="245.4" y="211.3" width="5.0" height="2.4" fill="#31688d"/>
<rect x="250.1" y="211.3" width="5.0" height="2.4" fill="#33638d"/>
<rect x="254.8" y="211.3" width="5.0" height="2.4" fill="#34628d"/>
<rect x="259.6" y="211.3" width="5.0" height="2.4" fill="#277f8d"/>
<rect x="264.3" y="211.3" width="5.0" height="2.4" fill="#27818d"/>
<rect x="269.0" y="211.3" width="5.0" height="2.4" fill="#287e8e"/>
<rect x="273.7" y="211.3" width="5.0" height="2.4" fill="#287c8e"/>
<rect x="278.5" y="211.3" width="5.0" height="2.4" fill="#297c8e"/>
<rect x="283.2" y="211.3" width="5.0" height="2.4" fill="#3bb976"/>
<rect x="287.9" y="211.3" width="5.0" height="2.4" fill="#43be71"/>
<rect x="292.7" y="211.3" width="5.0" height="2.4" fill="#2eb07d"/>
<rect x="297.4" y="211.3" width="5.0" height="2.4" fill="#77d052"/>
<rect x="302.1" y="211.3" width="5.0" height="2.4" fill="#6dcd58"/>
<rect x="306.9" y="211.3" width="5.0" height="2.4" fill="#8dd545"/>
<rect x="311.6" y="211.3" width="5.0" height="2.4" fill="#22a685"/>
<rect x="316.3" y="211.3" width="5.0" height="2.4" fill="#25aa83"/>
<rect x="321.0" y="211.3" width="5.0" height="2.4" fill="#2bae7f"/>
<rect x="325.8" y="211.3" width="5.0" height="2.4" fill="#36b578"/>
<rect x="235.9" y="213.4" width="5.0" height="2.4" fill="#424286"/>
<rect x="240.6" y="213.4" width="5.0" height="2.4" fill="#3f4888"/>
<rect x="245.4" y="213.4" width="5.0" height="2.4" fill="#424085"/>
<rect x="250.1" y="213.4" width="5.0" height="2.4" fill="#355f8d"/>
<rect x="254.8" y="213.4" width="5.0" height="2.4" fill="#3c508a"/>
<rect x="259.6" y="213.4" width="5.0" height="2.4" fill="#375a8c"/>
<rect x="264.3" y="213.4" width="5.0" height="2.4" fill="#297c8e"/>
<rect x="269.0" y="213.4" width="5.0" height="2.4" fill="#2f6d8e"/>
<rect x="273.7" y="213.4" width="5.0" height="2.4" fill="#238c8c"/>
<rect x="278.5" y="213.4" width="5.0" height="2.4" fill="#31698d"/>
<rect x="283.2" y="213.4" width="5.0" height="2.4" fill="#42be71"/>
<rect x="287.9" y="213.4" width="5.0" height="2.4" fill="#49c16d"/>
<rect x="292.7" y="213.4" width="5.0" height="2.4" fill="#66ca5d"/>
<rect x="297.4" y="213.4" width="5.0" height="2.4" fill="#92d642"/>
<rect x="302.1" y="213.4" width="5.0" height="2.4" fill="#9dd83b"/>
<rect x="306.9" y="213.4" width="5.0" height="2.4" fill="#9ed93a"/>
<rect x="311.6" y="213.4" width="5.0" height="2.4" fill="#219b89"/>
<rect x="316.3" y="213.4" width="5.0" height="2.4" fill="#22a386"/>
<rect x="321.0" y="213.4" width="5.0" height="2.4" fill="#229e87"/>
<rect x="325.8" y="213.4" width="5.0" height="2.4" fill="#21988a"/>
<rect x="235.9" y="215.5" width="5.0" height="2.4" fill="#34618d"/>
<rect x="240.6" y="215.5" width="5.0" height="2.4" fill="#375a8c"/>
<rect x="245.4" y="215.5" width="5.0" height="2.4" fill="#3a548b"/>
<rect x="250.1" y="215.5" width="5.0" height="2.4" fill="#31678d"/>
<rect x="254.8" y="215.5" width="5.0" height="2.4" fill="#39568b"/>
<rect x="259.6" y="215.5" width="5.0" height="2.4" fill="#2c748e"/>
<rect x="264.3" y="215.5" width="5.0" height="2.4" fill="#2b768e"/>
<rect x="269.0" y="215.5" width="5.0" height="2.4" fill="#2a798e"/>
<rect x="273.7" y="215.5" width="5.0" height="2.4" fill="#2a778e"/>
<rect x="278.5" y="215.5" width="5.0" height="2.4" fill="#2b778e"/>
<rect x="283.2" y="215.5" width="5.0" height="2.4" fill="#30b27c"/>
<rect x="287.9" y="215.5" width="5.0" height="2.4" fill="#39b876"/>
<rect x="292.7" y="215.5" width="5.0" height="2.4" fill="#38b777"/>
<rect x="297.4" y="215.5" width="5.0" height="2.4" fill="#7dd24f"/>
<rect x="302.1" y="215.5" width="5.0" height="2.4" fill="#89d448"/>
<rect x="306.9" y="215.5" width="5.0" height="2.4" fill="#91d642"/>
<rect x="311.6" y="215.5" width="5.0" height="2.4" fill="#2fb17c"/>
<rect x="316.3" y="215.5" width="5.0" height="2.4" fill="#228f8c"/>
<rect x="321.0" y="215.5" width="5.0" height="2.4" fill="#22a784"/>
<rect x="325.8" y="215.5" width="5.0" height="2.4" fill="#22a286"/>
<rect x="235.9" y="217.6" width="5.0" height="2.4" fill="#2c748e"/>
<rect x="240.6" y="217.6" width="5.0" height="2.4" fill="#365d8d"/>
<rect x="245.4" y="217.6" width="5.0" height="2.4" fill="#2b758e"/>
<rect x="250.1" y="217.6" width="5.0" height="2.4" fill="#2c748e"/>
<rect x="254.8" y="217.6" width="5.0" height="2.4" fill="#2b758e"/>
<rect x="259.6" y="217.6" width="5.0" height="2.4" fill="#2d718e"/>
<rect x="264.3" y="217.6" width="5.0" height="2.4" fill="#33638d"/>
<rect x="269.0" y="217.6" width="5.0" height="2.4" fill="#287d8e"/>
<rect x="273.7" y="217.6" width="5.0" height="2.4" fill="#26838d"/>
<rect x="278.5" y="217.6" width="5.0" height="2.4" fill="#2b778e"/>
<rect x="283.2" y="217.6" width="5.0" height="2.4" fill="#22a685"/>
<rect x="287.9" y="217.6" width="5.0" height="2.4" fill="#2eb07d"/>
<rect x="292.7" y="217.6" width="5.0" height="2.4" fill="#32b37b"/>
<rect x="297.4" y="217.6" width="5.0" height="2.4" fill="#60c860"/>
<rect x="302.1" y="217.6" width="5.0" height="2.4" fill="#63c95e"/>
<rect x="306.9" y="217.6" width="5.0" height="2.4" fill="#7ed24e"/>
<rect x="311.6" y="217.6" width="5.0" height="2.4" fill="#22a485"/>
<rect x="316.3" y="217.6" width="5.0" height="2.4" fill="#23a983"/>
<rect x="321.0" y="217.6" width="5.0" height="2.4" fill="#229e88"/>
<rect x="325.8" y="217.6" width="5.0" height="2.4" fill="#22a884"/>
<rect x="235.9" y="219.7" width="5.0" height="2.4" fill="#3f4888"/>
<rect x="240.6" y="219.7" width="5.0" height="2.4" fill="#33648d"/>
<rect x="245.4" y="219.7" width="5.0" height="2.4" fill="#39568b"/>
<rect x="250.1" y="219.7" width="5.0" height="2.4" fill="#424286"/>
<rect x="254.8" y="219.7" width="5.0" height="2.4" fill="#365c8c"/>
<rect x="259.6" y="219.7" width="5.0" height="2.4" fill="#37598c"/>
<rect x="264.3" y="219.7" width="5.0" height="2.4" fill="#2b778e"/>
<rect x="269.0" y="219.7" width="5.0" height="2.4" fill="#39568b"/>
<rect x="273.7" y="219.7" width="5.0" height="2.4" fill="#365e8d"/>
<rect x="278.5" y="219.7" width="5.0" height="2.4" fill="#3b518a"/>
<rect x="283.2" y="219.7" width="5.0" height="2.4" fill="#37b678"/>
<rect x="287.9" y="219.7" width="5.0" height="2.4" fill="#2aad80"/>
<rect x="292.7" y="219.7" width="5.0" height="2.4" fill="#35b579"/>
<rect x="297.4" y="219.7" width="5.0" height="2.4" fill="#6ccc59"/>
<rect x="302.1" y="219.7" width="5.0" height="2.4" fill="#68cb5b"/>
<rect x="306.9" y="219.7" width="5.0" height="2.4" fill="#88d448"/>
<rect x="311.6" y="219.7" width="5.0" height="2.4" fill="#44bf70"/>
<rect x="316.3" y="219.7" width="5.0" height="2.4" fill="#3ab876"/>
<rect x="321.0" y="219.7" width="5.0" height="2.4" fill="#2eb07d"/>
<rect x="325.8" y="219.7" width="5.0" height="2.4" fill="#2caf7e"/>
<rect x="235.9" y="221.8" width="5.0" height="2.4" fill="#404788"/>
<rect x="240.6" y="221.8" width="5.0" height="2.4" fill="#3f4988"/>
<rect x="245.4" y="221.8" width="5.0" height="2.4" fill="#355f8d"/>
<rect x="250.1" y="221.8" width="5.0" height="2.4" fill="#2d728e"/>
<rect x="254.8" y="221.8" width="5.0" height="2.4" fill="#34628d"/>
<rect x="259.6" y="221.8" width="5.0" height="2.4" fill="#2d718e"/>
<rect x="264.3" y="221.8" width="5.0" height="2.4" fill="#32658d"/>
<rect x="269.0" y="221.8" width="5.0" height="2.4" fill="#2a798e"/>
<rect x="273.7" y="221.8" width="5.0" height="2.4" fill="#2b778e"/>
<rect x="278.5" y="221.8" width="5.0" height="2.4" fill="#31698d"/>
<rect x="283.2" y="221.8" width="5.0" height="2.4" fill="#2bae7f"/>
<rect x="287.9" y="221.8" width="5.0" height="2.4" fill="#38b777"/>
<rect x="292.7" y="221.8" width="5.0" height="2.4" fill="#44bf70"/>
<rect x="297.4" y="221.8" width="5.0" height="2.4" fill="#86d34a"/>
<rect x="302.1" y="221.8" width="5.0" height="2.4" fill="#7cd150"/>
<rect x="306.9" y="221.8" width="5.0" height="2.4" fill="#71ce56"/>
<rect x="311.6" y="221.8" width="5.0" height="2.4" fill="#22a784"/>
<rect x="316.3" y="221.8" width="5.0" height="2.4" fill="#22a485"/>
<rect x="321.0" y="221.8" width="5.0" height="2.4" fill="#37b678"/>
<rect x="325.8" y="221.8" width="5.0" height="2.4" fill="#219b88"/>
<rect x="235.9" y="223.9" width="5.0" height="2.4" fill="#3c4f8a"/>
<rect x="240.6" y="223.9" width="5.0" height="2.4" fill="#3f4988"/>
<rect x="245.4" y="223.9" width="5.0" height="2.4" fill="#3e4a88"/>
<rect x="250.1" y="223.9" width="5.0" height="2.4" fill="#3c4f89"/>
<rect x="254.8" y="223.9" width="5.0" height="2.4" fill="#2c748e"/>
<rect x="259.6" y="223.9" width="5.0" height="2.4" fill="#2c738e"/>
<rect x="264.3" y="223.9" width="5.0" height="2.4" fill="#2c728e"/>
<rect x="269.0" y="223.9" width="5.0" height="2.4" fill="#2b768e"/>
<rect x="273.7" y="223.9" width="5.0" height="2.4" fill="#2d728e"/>
<rect x="278.5" y="223.9" width="5.0" height="2.4" fill="#2a778e"/>
<rect x="283.2" y="223.9" width="5.0" height="2.4" fill="#37b678"/>
<rect x="287.9" y="223.9" width="5.0" height="2.4" fill="#38b777"/>
<rect x="292.7" y="223.9" width="5.0" height="2.4" fill="#47c06e"/>
<rect x="297.4" y="223.9" width="5.0" height="2.4" fill="#74cf54"/>
<rect x="302.1" y="223.9" width="5.0" height="2.4" fill="#62c95f"/>
<rect x="306.9" y="223.9" width="5.0" height="2.4" fill="#77d053"/>
<rect x="311.6" y="223.9" width="5.0" height="2.4" fill="#2eb07d"/>
<rect x="316.3" y="223.9" width="5.0" height="2.4" fill="#3cba75"/>
<rect x="321.0" y="223.9" width="5.0" height="2.4" fill="#2caf7e"/>
<rect x="325.8" y="223.9" width="5.0" height="2.4" fill="#28ac80"/>
<rect x="235.9" y="225.9" width="5.0" height="2.4" fill="#3b528a"/>
<rect x="240.6" y="225.9" width="5.0" height="2.4" fill="#38598c"/>
<rect x="245.4" y="225.9" width="5.0" height="2.4" fill="#306b8d"/>
<rect x="250.1" y="225.9" width="5.0" height="2.4" fill="#3f4788"/>
<rect x="254.8" y="225.9" width="5.0" height="2.4" fill="#306b8d"/>
<rect x="259.6" y="225.9" width="5.0" height="2.4" fill="#2e6e8e"/>
<rect x="264.3" y="225.9" width="5.0" height="2.4" fill="#306b8d"/>
<rect x="269.0" y="225.9" width="5.0" height="2.4" fill="#248a8d"/>
<rect x="273.7" y="225.9" width="5.0" height="2.4" fill="#2f6d8e"/>
<rect x="278.5" y="225.9" width="5.0" height="2.4" fill="#26848d"/>
<rect x="283.2" y="225.9" width="5.0" height="2.4" fill="#4bc16c"/>
<rect x="287.9" y="225.9" width="5.0" height="2.4" fill="#30b27c"/>
<rect x="292.7" y="225.9" width="5.0" height="2.4" fill="#42be71"/>
<rect x="297.4" y="225.9" width="5.0" height="2.4" fill="#91d642"/>
<rect x="302.1" y="225.9" width="5.0" height="2.4" fill="#7dd24f"/>
<rect x="306.9" y="225.9" width="5.0" height="2.4" fill="#53c468"/>
<rect x="311.6" y="225.9" width="5.0" height="2.4" fill="#23a983"/>
<rect x="316.3" y="225.9" width="5.0" height="2.4" fill="#25aa82"/>
<rect x="321.0" y="225.9" width="5.0" height="2.4" fill="#22a386"/>
<rect x="325.8" y="225.9" width="5.0" height="2.4" fill="#3dba74"/>
<rect x="235.9" y="228.0" width="5.0" height="2.4" fill="#3c508a"/>
<rect x="240.6" y="228.0" width="5.0" height="2.4" fill="#3a538a"/>
<rect x="245.4" y="228.0" width="5.0" height="2.4" fill="#39568b"/>
<rect x="250.1" y="228.0" width="5.0" height="2.4" fill="#375b8c"/>
<rect x="254.8" y="228.0" width="5.0" height="2.4" fill="#3e4b89"/>
<rect x="259.6" y="228.0" width="5.0" height="2.4" fill="#34618d"/>
<rect x="264.3" y="228.0" width="5.0" height="2.4" fill="#414487"/>
<rect x="269.0" y="228.0" width="5.0" height="2.4" fill="#3c508a"/>
<rect x="273.7" y="228.0" width="5.0" height="2.4" fill="#414286"/>
<rect x="278.5" y="228.0" width="5.0" height="2.4" fill="#3a548b"/>
<rect x="283.2" y="228.0" width="5.0" height="2.4" fill="#3cba74"/>
<rect x="287.9" y="228.0" width="5.0" height="2.4" fill="#2cae7e"/>
<rect x="292.7" y="228.0" width="5.0" height="2.4" fill="#63c95e"/>
<rect x="297.4" y="228.0" width="5.0" height="2.4" fill="#7ad151"/>
<rect x="302.1" y="228.0" width="5.0" height="2.4" fill="#79d152"/>
<rect x="306.9" y="228.0" width="5.0" height="2.4" fill="#6ccc59"/>
<rect x="311.6" y="228.0" width="5.0" height="2.4" fill="#30b17c"/>
<rect x="316.3" y="228.0" width="5.0" height="2.4" fill="#2db07d"/>
<rect x="321.0" y="228.0" width="5.0" height="2.4" fill="#22a784"/>
<rect x="325.8" y="228.0" width="5.0" height="2.4" fill="#219a89"/>
<rect x="235.9" y="230.1" width="5.0" height="2.4" fill="#414286"/>
<rect x="240.6" y="230.1" width="5.0" height="2.4" fill="#3d4c89"/>
<rect x="245.4" y="230.1" width="5.0" height="2.4" fill="#3b528a"/>
<rect x="250.1" y="230.1" width="5.0" height="2.4" fill="#375a8c"/>
<rect x="254.8" y="230.1" width="5.0" height="2.4" fill="#2a798e"/>
<rect x="259.6" y="230.1" width="5.0" height="2.4" fill="#2a798e"/>
<rect x="264.3" y="230.1" width="5.0" height="2.4" fill="#3e4c89"/>
<rect x="269.0" y="230.1" width="5.0" height="2.4" fill="#365c8c"/>
<rect x="273.7" y="230.1" width="5.0" height="2.4" fill="#38598c"/>
<rect x="278.5" y="230.1" width="5.0" height="2.4" fill="#33648d"/>
<rect x="283.2" y="230.1" width="5.0" height="2.4" fill="#44bf70"/>
<rect x="287.9" y="230.1" width="5.0" height="2.4" fill="#34b47a"/>
<rect x="292.7" y="230.1" width="5.0" height="2.4" fill="#34b47a"/>
<rect x="297.4" y="230.1" width="5.0" height="2.4" fill="#6fcd57"/>
<rect x="302.1" y="230.1" width="5.0" height="2.4" fill="#75cf54"/>
<rect x="306.9" y="230.1" width="5.0" height="2.4" fill="#94d640"/>
<rect x="311.6" y="230.1" width="5.0" height="2.4" fill="#22a884"/>
<rect x="316.3" y="230.1" width="5.0" height="2.4" fill="#21978a"/>
<rect x="321.0" y="230.1" width="5.0" height="2.4" fill="#229e87"/>
<rect x="325.8" y="230.1" width="5.0" height="2.4" fill="#219b88"/>
<rect x="235.9" y="232.2" width="5.0" height="2.4" fill="#35608d"/>
<rect x="240.6" y="232.2" width="5.0" height="2.4" fill="#365d8d"/>
<rect x="245.4" y="232.2" width="5.0" height="2.4" fill="#2f6d8e"/>
<rect x="250.1" y="232.2" width="5.0" height="2.4" fill="#38588b"/>
<rect x="254.8" y="232.2" width="5.0" height="2.4" fill="#31688d"/>
<rect x="259.6" y="232.2" width="5.0" height="2.4" fill="#38598c"/>
<rect x="264.3" y="232.2" width="5.0" height="2.4" fill="#3e4c89"/>
<rect x="269.0" y="232.2" width="5.0" height="2.4" fill="#38588b"/>
<rect x="273.7" y="232.2" width="5.0" height="2.4" fill="#38588b"/>
<rect x="278.5" y="232.2" width="5.0" height="2.4" fill="#39578b"/>
<rect x="283.2" y="232.2" width="5.0" height="2.4" fill="#33b37a"/>
<rect x="287.9" y="232.2" width="5.0" height="2.4" fill="#29ad80"/>
<rect x="292.7" y="232.2" width="5.0" height="2.4" fill="#40bc72"/>
<rect x="297.4" y="232.2" width="5.0" height="2.4" fill="#aedc30"/>
<rect x="302.1" y="232.2" width="5.0" height="2.4" fill="#92d641"/>
<rect x="306.9" y="232.2" width="5.0" height="2.4" fill="#64ca5e"/>
<rect x="311.6" y="232.2" width="5.0" height="2.4" fill="#22a386"/>
<rect x="316.3" y="232.2" width="5.0" height="2.4" fill="#2aad7f"/>
<rect x="321.0" y="232.2" width="5.0" height="2.4" fill="#39b777"/>
<rect x="325.8" y="232.2" width="5.0" height="2.4" fill="#33b37a"/>
<rect x="235.9" y="234.3" width="5.0" height="2.4" fill="#375a8c"/>
<rect x="240.6" y="234.3" width="5.0" height="2.4" fill="#33638d"/>
<rect x="245.4" y="234.3" width="5.0" height="2.4" fill="#355e8d"/>
<rect x="250.1" y="234.3" width="5.0" height="2.4" fill="#32668d"/>
<rect x="254.8" y="234.3" width="5.0" height="2.4" fill="#2c738e"/>
<rect x="259.6" y="234.3" width="5.0" height="2.4" fill="#30698d"/>
<rect x="264.3" y="234.3" width="5.0" height="2.4" fill="#38598c"/>
<rect x="269.0" y="234.3" width="5.0" height="2.4" fill="#3b518a"/>
<rect x="273.7" y="234.3" width="5.0" height="2.4" fill="#424185"/>
<rect x="278.5" y="234.3" width="5.0" height="2.4" fill="#35608d"/>
<rect x="283.2" y="234.3" width="5.0" height="2.4" fill="#38b777"/>
<rect x="287.9" y="234.3" width="5.0" height="2.4" fill="#26aa82"/>
<rect x="292.7" y="234.3" width="5.0" height="2.4" fill="#41bd72"/>
<rect x="297.4" y="234.3" width="5.0" height="2.4" fill="#67cb5c"/>
<rect x="302.1" y="234.3" width="5.0" height="2.4" fill="#74cf54"/>
<rect x="306.9" y="234.3" width="5.0" height="2.4" fill="#67cb5c"/>
<rect x="311.6" y="234.3" width="5.0" height="2.4" fill="#229d88"/>
<rect x="316.3" y="234.3" width="5.0" height="2.4" fill="#39b876"/>
<rect x="321.0" y="234.3" width="5.0" height="2.4" fill="#229e88"/>
<rect x="325.8" y="234.3" width="5.0" height="2.4" fill="#2bae7e"/>
<rect x="235.9" y="236.4" width="5.0" height="2.4" fill="#2e6f8e"/>
<rect x="240.6" y="236.4" width="5.0" height="2.4" fill="#3c4f89"/>
<rect x="245.4" y="236.4" width="5.0" height="2.4" fill="#38598c"/>
<rect x="250.1" y="236.4" width="5.0" height="2.4" fill="#33648d"/>
<rect x="254.8" y="236.4" width="5.0" height="2.4" fill="#3b518a"/>
<rect x="259.6" y="236.4" width="5.0" height="2.4" fill="#306a8d"/>
<rect x="264.3" y="236.4" width="5.0" height="2.4" fill="#3e4b89"/>
<rect x="269.0" y="236.4" width="5.0" height="2.4" fill="#365c8c"/>
<rect x="273.7" y="236.4" width="5.0" height="2.4" fill="#375a8c"/>
<rect x="278.5" y="236.4" width="5.0" height="2.4" fill="#2e6f8e"/>
<rect x="283.2" y="236.4" width="5.0" height="2.4" fill="#39b777"/>
<rect x="287.9" y="236.4" width="5.0" height="2.4" fill="#26ab82"/>
<rect x="292.7" y="236.4" width="5.0" height="2.4" fill="#3cba75"/>
<rect x="297.4" y="236.4" width="5.0" height="2.4" fill="#5dc762"/>
<rect x="302.1" y="236.4" width="5.0" height="2.4" fill="#81d24c"/>
<rect x="306.9" y="236.4" width="5.0" height="2.4" fill="#93d641"/>
<rect x="311.6" y="236.4" width="5.0" height="2.4" fill="#28ac80"/>
<rect x="316.3" y="236.4" width="5.0" height="2.4" fill="#22a386"/>
<rect x="321.0" y="236.4" width="5.0" height="2.4" fill="#2fb17c"/>
<rect x="325.8" y="236.4" width="5.0" height="2.4" fill="#23a983"/>
<rect x="235.9" y="238.5" width="5.0" height="2.4" fill="#3d4d89"/>
<rect x="240.6" y="238.5" width="5.0" height="2.4" fill="#433c82"/>
<rect x="245.4" y="238.5" width="5.0" height="2.4" fill="#3e4b89"/>
<rect x="250.1" y="238.5" width="5.0" height="2.4" fill="#39568b"/>
<rect x="254.8" y="238.5" width="5.0" height="2.4" fill="#3a548b"/>
<rect x="259.6" y="238.5" width="5.0" height="2.4" fill="#38598c"/>
<rect x="264.3" y="238.5" width="5.0" height="2.4" fill="#45317c"/>
<rect x="269.0" y="238.5" width="5.0" height="2.4" fill="#365d8c"/>
<rect x="273.7" y="238.5" width="5.0" height="2.4" fill="#39568b"/>
<rect x="278.5" y="238.5" width="5.0" height="2.4" fill="#31678d"/>
<rect x="283.2" y="238.5" width="5.0" height="2.4" fill="#6acc5a"/>
<rect x="287.9" y="238.5" width="5.0" height="2.4" fill="#49c16d"/>
<rect x="292.7" y="238.5" width="5.0" height="2.4" fill="#46c06f"/>
<rect x="297.4" y="238.5" width="5.0" height="2.4" fill="#a6da34"/>
<rect x="302.1" y="238.5" width="5.0" height="2.4" fill="#c6e026"/>
<rect x="306.9" y="238.5" width="5.0" height="2.4" fill="#78d052"/>
<rect x="311.6" y="238.5" width="5.0" height="2.4" fill="#22a685"/>
<rect x="316.3" y="238.5" width="5.0" height="2.4" fill="#22a286"/>
<rect x="321.0" y="238.5" width="5.0" height="2.4" fill="#29ad80"/>
<rect x="325.8" y="238.5" width="5.0" height="2.4" fill="#34b47a"/>
<rect x="235.9" y="240.6" width="5.0" height="2.4" fill="#32668d"/>
<rect x="240.6" y="240.6" width="5.0" height="2.4" fill="#39558b"/>
<rect x="245.4" y="240.6" width="5.0" height="2.4" fill="#33648d"/>
<rect x="250.1" y="240.6" width="5.0" height="2.4" fill="#3e4c89"/>
<rect x="254.8" y="240.6" width="5.0" height="2.4" fill="#31688d"/>
<rect x="259.6" y="240.6" width="5.0" height="2.4" fill="#423f84"/>
<rect x="264.3" y="240.6" width="5.0" height="2.4" fill="#3b518a"/>
<rect x="269.0" y="240.6" width="5.0" height="2.4" fill="#472a78"/>
<rect x="273.7" y="240.6" width="5.0" height="2.4" fill="#3a558b"/>
<rect x="278.5" y="240.6" width="5.0" height="2.4" fill="#3d4d89"/>
<rect x="283.2" y="240.6" width="5.0" height="2.4" fill="#2bae7f"/>
<rect x="287.9" y="240.6" width="5.0" height="2.4" fill="#3bb975"/>
<rect x="292.7" y="240.6" width="5.0" height="2.4" fill="#42bd71"/>
<rect x="297.4" y="240.6" width="5.0" height="2.4" fill="#6ecd58"/>
<rect x="302.1" y="240.6" width="5.0" height="2.4" fill="#77d053"/>
<rect x="306.9" y="240.6" width="5.0" height="2.4" fill="#88d448"/>
<rect x="311.6" y="240.6" width="5.0" height="2.4" fill="#22a784"/>
<rect x="316.3" y="240.6" width="5.0" height="2.4" fill="#228f8c"/>
<rect x="321.0" y="240.6" width="5.0" height="2.4" fill="#22a585"/>
<rect x="325.8" y="240.6" width="5.0" height="2.4" fill="#27ac81"/>
<rect x="235.9" y="242.7" width="5.0" height="2.4" fill="#32658d"/>
<rect x="240.6" y="242.7" width="5.0" height="2.4" fill="#2e6e8e"/>
<rect x="245.4" y="242.7" width="5.0" height="2.4" fill="#2f6d8e"/>
<rect x="250.1" y="242.7" width="5.0" height="2.4" fill="#33638d"/>
<rect x="254.8" y="242.7" width="5.0" height="2.4" fill="#375b8c"/>
<rect x="259.6" y="242.7" width="5.0" height="2.4" fill="#2b758e"/>
<rect x="264.3" y="242.7" width="5.0" height="2.4" fill="#34618d"/>
<rect x="269.0" y="242.7" width="5.0" height="2.4" fill="#404587"/>
<rect x="273.7" y="242.7" width="5.0" height="2.4" fill="#3c4f89"/>
<rect x="278.5" y="242.7" width="5.0" height="2.4" fill="#2e6e8e"/>
<rect x="283.2" y="242.7" width="5.0" height="2.4" fill="#37b678"/>
<rect x="287.9" y="242.7" width="5.0" height="2.4" fill="#39b876"/>
<rect x="292.7" y="242.7" width="5.0" height="2.4" fill="#3dba74"/>
<rect x="297.4" y="242.7" width="5.0" height="2.4" fill="#76d053"/>
<rect x="302.1" y="242.7" width="5.0" height="2.4" fill="#97d73e"/>
<rect x="306.9" y="242.7" width="5.0" height="2.4" fill="#68cb5b"/>
<rect x="311.6" y="242.7" width="5.0" height="2.4" fill="#3cba74"/>
<rect x="316.3" y="242.7" width="5.0" height="2.4" fill="#46c06f"/>
<rect x="321.0" y="242.7" width="5.0" height="2.4" fill="#4ec26a"/>
<rect x="325.8" y="242.7" width="5.0" height="2.4" fill="#4ec26a"/>
<rect x="235.9" y="244.7" width="5.0" height="2.4" fill="#2f6c8e"/>
<rect x="240.6" y="244.7" width="5.0" height="2.4" fill="#25858d"/>
<rect x="245.4" y="244.7" width="5.0" height="2.4" fill="#2b778e"/>
<rect x="250.1" y="244.7" width="5.0" height="2.4" fill="#31698d"/>
<rect x="254.8" y="244.7" width="5.0" height="2.4" fill="#3b528a"/>
<rect x="259.6" y="244.7" width="5.0" height="2.4" fill="#3b518a"/>
<rect x="264.3" y="244.7" width="5.0" height="2.4" fill="#414487"/>
<rect x="269.0" y="244.7" width="5.0" height="2.4" fill="#3d4d89"/>
<rect x="273.7" y="244.7" width="5.0" height="2.4" fill="#31688d"/>
<rect x="278.5" y="244.7" width="5.0" height="2.4" fill="#33638d"/>
<rect x="283.2" y="244.7" width="5.0" height="2.4" fill="#53c467"/>
<rect x="287.9" y="244.7" width="5.0" height="2.4" fill="#3fbb73"/>
<rect x="292.7" y="244.7" width="5.0" height="2.4" fill="#3cb975"/>
<rect x="297.4" y="244.7" width="5.0" height="2.4" fill="#95d740"/>
<rect x="302.1" y="244.7" width="5.0" height="2.4" fill="#8fd544"/>
<rect x="306.9" y="244.7" width="5.0" height="2.4" fill="#dfe325"/>
<rect x="311.6" y="244.7" width="5.0" height="2.4" fill="#26aa82"/>
<rect x="316.3" y="244.7" width="5.0" height="2.4" fill="#23a983"/>
<rect x="321.0" y="244.7" width="5.0" height="2.4" fill="#38b777"/>
<rect x="325.8" y="244.7" width="5.0" height="2.4" fill="#2bae7e"/>
<rect x="235.9" y="246.8" width="5.0" height="2.4" fill="#38588b"/>
<rect x="240.6" y="246.8" width="5.0" height="2.4" fill="#3d4e89"/>
<rect x="245.4" y="246.8" width="5.0" height="2.4" fill="#375a8c"/>
<rect x="250.1" y="246.8" width="5.0" height="2.4" fill="#365c8c"/>
<rect x="254.8" y="246.8" width="5.0" height="2.4" fill="#404788"/>
<rect x="259.6" y="246.8" width="5.0" height="2.4" fill="#3a548b"/>
<rect x="264.3" y="246.8" width="5.0" height="2.4" fill="#414286"/>
<rect x="269.0" y="246.8" width="5.0" height="2.4" fill="#365e8d"/>
<rect x="273.7" y="246.8" width="5.0" height="2.4" fill="#2f6d8e"/>
<rect x="278.5" y="246.8" width="5.0" height="2.4" fill="#2a778e"/>
<rect x="283.2" y="246.8" width="5.0" height="2.4" fill="#4ec26a"/>
<rect x="287.9" y="246.8" width="5.0" height="2.4" fill="#57c565"/>
<rect x="292.7" y="246.8" width="5.0" height="2.4" fill="#3ab876"/>
<rect x="297.4" y="246.8" width="5.0" height="2.4" fill="#93d641"/>
<rect x="302.1" y="246.8" width="5.0" height="2.4" fill="#5dc762"/>
<rect x="306.9" y="246.8" width="5.0" height="2.4" fill="#8ad447"/>
<rect x="311.6" y="246.8" width="5.0" height="2.4" fill="#22a486"/>
<rect x="316.3" y="246.8" width="5.0" height="2.4" fill="#22a087"/>
<rect x="321.0" y="246.8" width="5.0" height="2.4" fill="#229d88"/>
<rect x="325.8" y="246.8" width="5.0" height="2.4" fill="#21988a"/>
<rect x="235.9" y="248.9" width="5.0" height="2.4" fill="#33638d"/>
<rect x="240.6" y="248.9" width="5.0" height="2.4" fill="#3a548b"/>
<rect x="245.4" y="248.9" width="5.0" height="2.4" fill="#33658d"/>
<rect x="250.1" y="248.9" width="5.0" height="2.4" fill="#365e8d"/>
<rect x="254.8" y="248.9" width="5.0" height="2.4" fill="#33648d"/>
<rect x="259.6" y="248.9" width="5.0" height="2.4" fill="#32658d"/>
<rect x="264.3" y="248.9" width="5.0" height="2.4" fill="#3b518a"/>
<rect x="269.0" y="248.9" width="5.0" height="2.4" fill="#375b8c"/>
<rect x="273.7" y="248.9" width="5.0" height="2.4" fill="#306b8d"/>
<rect x="278.5" y="248.9" width="5.0" height="2.4" fill="#287e8e"/>
<rect x="283.2" y="248.9" width="5.0" height="2.4" fill="#35b579"/>
<rect x="287.9" y="248.9" width="5.0" height="2.4" fill="#43be71"/>
<rect x="292.7" y="248.9" width="5.0" height="2.4" fill="#42be71"/>
<rect x="297.4" y="248.9" width="5.0" height="2.4" fill="#82d34c"/>
<rect x="302.1" y="248.9" width="5.0" height="2.4" fill="#5cc762"/>
<rect x="306.9" y="248.9" width="5.0" height="2.4" fill="#80d24d"/>
<rect x="311.6" y="248.9" width="5.0" height="2.4" fill="#22a685"/>
<rect x="316.3" y="248.9" width="5.0" height="2.4" fill="#39b876"/>
<rect x="321.0" y="248.9" width="5.0" height="2.4" fill="#35b579"/>
<rect x="325.8" y="248.9" width="5.0" height="2.4" fill="#33b37a"/>
<rect x="235.9" y="251.0" width="5.0" height="2.4" fill="#414587"/>
<rect x="240.6" y="251.0" width="5.0" height="2.4" fill="#424185"/>
<rect x="245.4" y="251.0" width="5.0" height="2.4" fill="#433981"/>
<rect x="250.1" y="251.0" width="5.0" height="2.4" fill="#44357e"/>
<rect x="254.8" y="251.0" width="5.0" height="2.4" fill="#423d83"/>
<rect x="259.6" y="251.0" width="5.0" height="2.4" fill="#24888d"/>
<rect x="264.3" y="251.0" width="5.0" height="2.4" fill="#375b8c"/>
<rect x="269.0" y="251.0" width="5.0" height="2.4" fill="#375b8c"/>
<rect x="273.7" y="251.0" width="5.0" height="2.4" fill="#3c508a"/>
<rect x="278.5" y="251.0" width="5.0" height="2.4" fill="#355e8d"/>
<rect x="283.2" y="251.0" width="5.0" height="2.4" fill="#3ebb73"/>
<rect x="287.9" y="251.0" width="5.0" height="2.4" fill="#3ab876"/>
<rect x="292.7" y="251.0" width="5.0" height="2.4" fill="#56c566"/>
<rect x="297.4" y="251.0" width="5.0" height="2.4" fill="#89d447"/>
<rect x="302.1" y="251.0" width="5.0" height="2.4" fill="#a4da36"/>
<rect x="306.9" y="251.0" width="5.0" height="2.4" fill="#76d053"/>
<rect x="311.6" y="251.0" width="5.0" height="2.4" fill="#23a884"/>
<rect x="316.3" y="251.0" width="5.0" height="2.4" fill="#22a187"/>
<rect x="321.0" y="251.0" width="5.0" height="2.4" fill="#22a685"/>
<rect x="325.8" y="251.0" width="5.0" height="2.4" fill="#22a087"/>
<rect x="235.9" y="253.1" width="5.0" height="2.4" fill="#38588b"/>
<rect x="240.6" y="253.1" width="5.0" height="2.4" fill="#3b518a"/>
<rect x="245.4" y="253.1" width="5.0" height="2.4" fill="#38598c"/>
<rect x="250.1" y="253.1" width="5.0" height="2.4" fill="#375a8c"/>
<rect x="254.8" y="253.1" width="5.0" height="2.4" fill="#3d4d89"/>
<rect x="259.6" y="253.1" width="5.0" height="2.4" fill="#375b8c"/>
<rect x="264.3" y="253.1" width="5.0" height="2.4" fill="#33638d"/>
<rect x="269.0" y="253.1" width="5.0" height="2.4" fill="#31698d"/>
<rect x="273.7" y="253.1" width="5.0" height="2.4" fill="#32668d"/>
<rect x="278.5" y="253.1" width="5.0" height="2.4" fill="#355e8d"/>
<rect x="283.2" y="253.1" width="5.0" height="2.4" fill="#40bc73"/>
<rect x="287.9" y="253.1" width="5.0" height="2.4" fill="#3dba74"/>
<rect x="292.7" y="253.1" width="5.0" height="2.4" fill="#3cb975"/>
<rect x="297.4" y="253.1" width="5.0" height="2.4" fill="#81d34c"/>
<rect x="302.1" y="253.1" width="5.0" height="2.4" fill="#72ce56"/>
<rect x="306.9" y="253.1" width="5.0" height="2.4" fill="#7cd24f"/>
<rect x="311.6" y="253.1" width="5.0" height="2.4" fill="#2fb17c"/>
<rect x="316.3" y="253.1" width="5.0" height="2.4" fill="#22a585"/>
<rect x="321.0" y="253.1" width="5.0" height="2.4" fill="#229e88"/>
<rect x="325.8" y="253.1" width="5.0" height="2.4" fill="#23a884"/>
<rect x="235.9" y="255.2" width="5.0" height="2.4" fill="#34628d"/>
<rect x="240.6" y="255.2" width="5.0" height="2.4" fill="#3b528a"/>
<rect x="245.4" y="255.2" width="5.0" height="2.4" fill="#306b8d"/>
<rect x="250.1" y="255.2" width="5.0" height="2.4" fill="#2b758e"/>
<rect x="254.8" y="255.2" width="5.0" height="2.4" fill="#355f8d"/>
<rect x="259.6" y="255.2" width="5.0" height="2.4" fill="#414286"/>
<rect x="264.3" y="255.2" width="5.0" height="2.4" fill="#462c79"/>
<rect x="269.0" y="255.2" width="5.0" height="2.4" fill="#3f4888"/>
<rect x="273.7" y="255.2" width="5.0" height="2.4" fill="#423e84"/>
<rect x="278.5" y="255.2" width="5.0" height="2.4" fill="#424185"/>
<rect x="283.2" y="255.2" width="5.0" height="2.4" fill="#44bf70"/>
<rect x="287.9" y="255.2" width="5.0" height="2.4" fill="#3fbc73"/>
<rect x="292.7" y="255.2" width="5.0" height="2.4" fill="#3dba74"/>
<rect x="297.4" y="255.2" width="5.0" height="2.4" fill="#52c468"/>
<rect x="302.1" y="255.2" width="5.0" height="2.4" fill="#72ce56"/>
<rect x="306.9" y="255.2" width="5.0" height="2.4" fill="#81d24d"/>
<rect x="311.6" y="255.2" width="5.0" height="2.4" fill="#22a585"/>
<rect x="316.3" y="255.2" width="5.0" height="2.4" fill="#37b678"/>
<rect x="321.0" y="255.2" width="5.0" height="2.4" fill="#3dba74"/>
<rect x="325.8" y="255.2" width="5.0" height="2.4" fill="#38b777"/>
<rect x="235.9" y="257.3" width="5.0" height="2.4" fill="#32658d"/>
<rect x="240.6" y="257.3" width="5.0" height="2.4" fill="#39568b"/>
<rect x="245.4" y="257.3" width="5.0" height="2.4" fill="#3b528a"/>
<rect x="250.1" y="257.3" width="5.0" height="2.4" fill="#424085"/>
<rect x="254.8" y="257.3" width="5.0" height="2.4" fill="#34618d"/>
<rect x="259.6" y="257.3" width="5.0" height="2.4" fill="#2d728e"/>
<rect x="264.3" y="257.3" width="5.0" height="2.4" fill="#414487"/>
<rect x="269.0" y="257.3" width="5.0" height="2.4" fill="#414487"/>
<rect x="273.7" y="257.3" width="5.0" height="2.4" fill="#3b528a"/>
<rect x="278.5" y="257.3" width="5.0" height="2.4" fill="#365c8c"/>
<rect x="283.2" y="257.3" width="5.0" height="2.4" fill="#37b678"/>
<rect x="287.9" y="257.3" width="5.0" height="2.4" fill="#3fbc73"/>
<rect x="292.7" y="257.3" width="5.0" height="2.4" fill="#3ab876"/>
<rect x="297.4" y="257.3" width="5.0" height="2.4" fill="#c4e026"/>
<rect x="302.1" y="257.3" width="5.0" height="2.4" fill="#84d34b"/>
<rect x="306.9" y="257.3" width="5.0" height="2.4" fill="#a9db33"/>
<rect x="311.6" y="257.3" width="5.0" height="2.4" fill="#49c16d"/>
<rect x="316.3" y="257.3" width="5.0" height="2.4" fill="#48c06d"/>
<rect x="321.0" y="257.3" width="5.0" height="2.4" fill="#41bd72"/>
<rect x="325.8" y="257.3" width="5.0" height="2.4" fill="#44bf70"/>
<rect x="235.9" y="259.4" width="5.0" height="2.4" fill="#433c83"/>
<rect x="240.6" y="259.4" width="5.0" height="2.4" fill="#38588c"/>
<rect x="245.4" y="259.4" width="5.0" height="2.4" fill="#414286"/>
<rect x="250.1" y="259.4" width="5.0" height="2.4" fill="#34628d"/>
<rect x="254.8" y="259.4" width="5.0" height="2.4" fill="#34618d"/>
<rect x="259.6" y="259.4" width="5.0" height="2.4" fill="#39558b"/>
<rect x="264.3" y="259.4" width="5.0" height="2.4" fill="#32668d"/>
<rect x="269.0" y="259.4" width="5.0" height="2.4" fill="#3c4f89"/>
<rect x="273.7" y="259.4" width="5.0" height="2.4" fill="#365e8d"/>
<rect x="278.5" y="259.4" width="5.0" height="2.4" fill="#355f8d"/>
<rect x="283.2" y="259.4" width="5.0" height="2.4" fill="#2fb17d"/>
<rect x="287.9" y="259.4" width="5.0" height="2.4" fill="#31b27b"/>
<rect x="292.7" y="259.4" width="5.0" height="2.4" fill="#34b479"/>
<rect x="297.4" y="259.4" width="5.0" height="2.4" fill="#80d24d"/>
<rect x="302.1" y="259.4" width="5.0" height="2.4" fill="#75cf54"/>
<rect x="306.9" y="259.4" width="5.0" height="2.4" fill="#a8db33"/>
<rect x="311.6" y="259.4" width="5.0" height="2.4" fill="#22a784"/>
<rect x="316.3" y="259.4" width="5.0" height="2.4" fill="#22a485"/>
<rect x="321.0" y="259.4" width="5.0" height="2.4" fill="#22a286"/>
<rect x="325.8" y="259.4" width="5.0" height="2.4" fill="#22a286"/>
<rect x="235.9" y="261.4" width="5.0" height="2.4" fill="#3a548a"/>
<rect x="240.6" y="261.4" width="5.0" height="2.4" fill="#365c8c"/>
<rect x="245.4" y="261.4" width="5.0" height="2.4" fill="#39578b"/>
<rect x="250.1" y="261.4" width="5.0" height="2.4" fill="#38598c"/>
<rect x="254.8" y="261.4" width="5.0" height="2.4" fill="#3f4988"/>
<rect x="259.6" y="261.4" width="5.0" height="2.4" fill="#3b518a"/>
<rect x="264.3" y="261.4" width="5.0" height="2.4" fill="#433c83"/>
<rect x="269.0" y="261.4" width="5.0" height="2.4" fill="#404687"/>
<rect x="273.7" y="261.4" width="5.0" height="2.4" fill="#433c82"/>
<rect x="278.5" y="261.4" width="5.0" height="2.4" fill="#3c508a"/>
<rect x="283.2" y="261.4" width="5.0" height="2.4" fill="#46c06f"/>
<rect x="287.9" y="261.4" width="5.0" height="2.4" fill="#45bf70"/>
<rect x="292.7" y="261.4" width="5.0" height="2.4" fill="#44bf70"/>
<rect x="297.4" y="261.4" width="5.0" height="2.4" fill="#89d448"/>
<rect x="302.1" y="261.4" width="5.0" height="2.4" fill="#b3dd2d"/>
<rect x="306.9" y="261.4" width="5.0" height="2.4" fill="#8cd545"/>
<rect x="311.6" y="261.4" width="5.0" height="2.4" fill="#22a386"/>
<rect x="316.3" y="261.4" width="5.0" height="2.4" fill="#28ac80"/>
<rect x="321.0" y="261.4" width="5.0" height="2.4" fill="#22a286"/>
<rect x="325.8" y="261.4" width="5.0" height="2.4" fill="#22a286"/>
<rect x="235.9" y="263.5" width="5.0" height="2.4" fill="#3e4c89"/>
<rect x="240.6" y="263.5" width="5.0" height="2.4" fill="#39558b"/>
<rect x="245.4" y="263.5" width="5.0" height="2.4" fill="#32668d"/>
<rect x="250.1" y="263.5" width="5.0" height="2.4" fill="#3f4888"/>
<rect x="254.8" y="263.5" width="5.0" height="2.4" fill="#39558b"/>
<rect x="259.6" y="263.5" width="5.0" height="2.4" fill="#423d83"/>
<rect x="264.3" y="263.5" width="5.0" height="2.4" fill="#433c82"/>
<rect x="269.0" y="263.5" width="5.0" height="2.4" fill="#482273"/>
<rect x="273.7" y="263.5" width="5.0" height="2.4" fill="#3e4a88"/>
<rect x="278.5" y="263.5" width="5.0" height="2.4" fill="#3e4b89"/>
<rect x="283.2" y="263.5" width="5.0" height="2.4" fill="#22a585"/>
<rect x="287.9" y="263.5" width="5.0" height="2.4" fill="#22a087"/>
<rect x="292.7" y="263.5" width="5.0" height="2.4" fill="#21928c"/>
<rect x="297.4" y="263.5" width="5.0" height="2.4" fill="#45bf6f"/>
<rect x="302.1" y="263.5" width="5.0" height="2.4" fill="#36b678"/>
<rect x="306.9" y="263.5" width="5.0" height="2.4" fill="#48c06e"/>
<rect x="311.6" y="263.5" width="5.0" height="2.4" fill="#22a685"/>
<rect x="316.3" y="263.5" width="5.0" height="2.4" fill="#25aa82"/>
<rect x="321.0" y="263.5" width="5.0" height="2.4" fill="#26ab82"/>
<rect x="325.8" y="263.5" width="5.0" height="2.4" fill="#32b37b"/>
<rect x="235.9" y="265.6" width="5.0" height="2.4" fill="#355e8d"/>
<rect x="240.6" y="265.6" width="5.0" height="2.4" fill="#32658d"/>
<rect x="245.4" y="265.6" width="5.0" height="2.4" fill="#33638d"/>
<rect x="250.1" y="265.6" width="5.0" height="2.4" fill="#2d718e"/>
<rect x="254.8" y="265.6" width="5.0" height="2.4" fill="#31678d"/>
<rect x="259.6" y="265.6" width="5.0" height="2.4" fill="#38598c"/>
<rect x="264.3" y="265.6" width="5.0" height="2.4" fill="#34618d"/>
<rect x="269.0" y="265.6" width="5.0" height="2.4" fill="#45337e"/>
<rect x="273.7" y="265.6" width="5.0" height="2.4" fill="#443981"/>
<rect x="278.5" y="265.6" width="5.0" height="2.4" fill="#423e84"/>
<rect x="283.2" y="265.6" width="5.0" height="2.4" fill="#2aad7f"/>
<rect x="287.9" y="265.6" width="5.0" height="2.4" fill="#49c16d"/>
<rect x="292.7" y="265.6" width="5.0" height="2.4" fill="#40bd72"/>
<rect x="297.4" y="265.6" width="5.0" height="2.4" fill="#a7da34"/>
<rect x="302.1" y="265.6" width="5.0" height="2.4" fill="#5ac663"/>
<rect x="306.9" y="265.6" width="5.0" height="2.4" fill="#6ecd58"/>
<rect x="311.6" y="265.6" width="5.0" height="2.4" fill="#48c06e"/>
<rect x="316.3" y="265.6" width="5.0" height="2.4" fill="#42bd71"/>
<rect x="321.0" y="265.6" width="5.0" height="2.4" fill="#40bc72"/>
<rect x="325.8" y="265.6" width="5.0" height="2.4" fill="#40bc73"/>
<rect x="235.9" y="267.7" width="5.0" height="2.4" fill="#33638d"/>
<rect x="240.6" y="267.7" width="5.0" height="2.4" fill="#2e708e"/>
<rect x="245.4" y="267.7" width="5.0" height="2.4" fill="#3b528a"/>
<rect x="250.1" y="267.7" width="5.0" height="2.4" fill="#39568b"/>
<rect x="254.8" y="267.7" width="5.0" height="2.4" fill="#32668d"/>
<rect x="259.6" y="267.7" width="5.0" height="2.4" fill="#365c8c"/>
<rect x="264.3" y="267.7" width="5.0" height="2.4" fill="#3c4f8a"/>
<rect x="269.0" y="267.7" width="5.0" height="2.4" fill="#306a8d"/>
<rect x="273.7" y="267.7" width="5.0" height="2.4" fill="#39568b"/>
<rect x="278.5" y="267.7" width="5.0" height="2.4" fill="#375a8c"/>
<rect x="283.2" y="267.7" width="5.0" height="2.4" fill="#4fc36a"/>
<rect x="287.9" y="267.7" width="5.0" height="2.4" fill="#69cb5b"/>
<rect x="292.7" y="267.7" width="5.0" height="2.4" fill="#30b27c"/>
<rect x="297.4" y="267.7" width="5.0" height="2.4" fill="#73cf55"/>
<rect x="302.1" y="267.7" width="5.0" height="2.4" fill="#84d34b"/>
<rect x="306.9" y="267.7" width="5.0" height="2.4" fill="#74cf54"/>
<rect x="311.6" y="267.7" width="5.0" height="2.4" fill="#4bc16c"/>
<rect x="316.3" y="267.7" width="5.0" height="2.4" fill="#35b579"/>
<rect x="321.0" y="267.7" width="5.0" height="2.4" fill="#2aad7f"/>
<rect x="325.8" y="267.7" width="5.0" height="2.4" fill="#34b479"/>
<rect x="235.9" y="269.8" width="5.0" height="2.4" fill="#375c8c"/>
<rect x="240.6" y="269.8" width="5.0" height="2.4" fill="#32668d"/>
<rect x="245.4" y="269.8" width="5.0" height="2.4" fill="#355f8d"/>
<rect x="250.1" y="269.8" width="5.0" height="2.4" fill="#2f6d8e"/>
<rect x="254.8" y="269.8" width="5.0" height="2.4" fill="#365c8c"/>
<rect x="259.6" y="269.8" width="5.0" height="2.4" fill="#375a8c"/>
<rect x="264.3" y="269.8" width="5.0" height="2.4" fill="#3f4988"/>
<rect x="269.0" y="269.8" width="5.0" height="2.4" fill="#424085"/>
<rect x="273.7" y="269.8" width="5.0" height="2.4" fill="#355f8d"/>
<rect x="278.5" y="269.8" width="5.0" height="2.4" fill="#3e4a88"/>
<rect x="283.2" y="269.8" width="5.0" height="2.4" fill="#3dba74"/>
<rect x="287.9" y="269.8" width="5.0" height="2.4" fill="#38b777"/>
<rect x="292.7" y="269.8" width="5.0" height="2.4" fill="#35b579"/>
<rect x="297.4" y="269.8" width="5.0" height="2.4" fill="#57c565"/>
<rect x="302.1" y="269.8" width="5.0" height="2.4" fill="#7ad151"/>
<rect x="306.9" y="269.8" width="5.0" height="2.4" fill="#86d449"/>
<rect x="311.6" y="269.8" width="5.0" height="2.4" fill="#41bd72"/>
<rect x="316.3" y="269.8" width="5.0" height="2.4" fill="#4dc26b"/>
<rect x="321.0" y="269.8" width="5.0" height="2.4" fill="#3dbb74"/>
<rect x="325.8" y="269.8" width="5.0" height="2.4" fill="#38b777"/>
<rect x="235.9" y="271.9" width="5.0" height="2.4" fill="#2e6e8e"/>
<rect x="240.6" y="271.9" width="5.0" height="2.4" fill="#2f6d8e"/>
<rect x="245.4" y="271.9" width="5.0" height="2.4" fill="#38588b"/>
<rect x="250.1" y="271.9" width="5.0" height="2.4" fill="#33638d"/>
<rect x="254.8" y="271.9" width="5.0" height="2.4" fill="#2f6c8e"/>
<rect x="259.6" y="271.9" width="5.0" height="2.4" fill="#2b758e"/>
<rect x="264.3" y="271.9" width="5.0" height="2.4" fill="#3b518a"/>
<rect x="269.0" y="271.9" width="5.0" height="2.4" fill="#39568b"/>
<rect x="273.7" y="271.9" width="5.0" height="2.4" fill="#31698d"/>
<rect x="278.5" y="271.9" width="5.0" height="2.4" fill="#27818d"/>
<rect x="283.2" y="271.9" width="5.0" height="2.4" fill="#46c06f"/>
<rect x="287.9" y="271.9" width="5.0" height="2.4" fill="#26ab82"/>
<rect x="292.7" y="271.9" width="5.0" height="2.4" fill="#39b777"/>
<rect x="297.4" y="271.9" width="5.0" height="2.4" fill="#6acc5a"/>
<rect x="302.1" y="271.9" width="5.0" height="2.4" fill="#6fcd58"/>
<rect x="306.9" y="271.9" width="5.0" height="2.4" fill="#63c95e"/>
<rect x="311.6" y="271.9" width="5.0" height="2.4" fill="#219b88"/>
<rect x="316.3" y="271.9" width="5.0" height="2.4" fill="#229f87"/>
<rect x="321.0" y="271.9" width="5.0" height="2.4" fill="#2aae7f"/>
<rect x="325.8" y="271.9" width="5.0" height="2.4" fill="#22a585"/>
<rect x="235.9" y="274.0" width="5.0" height="2.4" fill="#2f6d8e"/>
<rect x="240.6" y="274.0" width="5.0" height="2.4" fill="#2a798e"/>
<rect x="245.4" y="274.0" width="5.0" height="2.4" fill="#32668d"/>
<rect x="250.1" y="274.0" width="5.0" height="2.4" fill="#33638d"/>
<rect x="254.8" y="274.0" width="5.0" height="2.4" fill="#3c508a"/>
<rect x="259.6" y="274.0" width="5.0" height="2.4" fill="#33648d"/>
<rect x="264.3" y="274.0" width="5.0" height="2.4" fill="#433c82"/>
<rect x="269.0" y="274.0" width="5.0" height="2.4" fill="#33648d"/>
<rect x="273.7" y="274.0" width="5.0" height="2.4" fill="#3e4a88"/>
<rect x="278.5" y="274.0" width="5.0" height="2.4" fill="#355f8d"/>
<rect x="283.2" y="274.0" width="5.0" height="2.4" fill="#25aa82"/>
<rect x="287.9" y="274.0" width="5.0" height="2.4" fill="#2fb17c"/>
<rect x="292.7" y="274.0" width="5.0" height="2.4" fill="#2aad7f"/>
<rect x="297.4" y="274.0" width="5.0" height="2.4" fill="#8bd546"/>
<rect x="302.1" y="274.0" width="5.0" height="2.4" fill="#77d053"/>
<rect x="306.9" y="274.0" width="5.0" height="2.4" fill="#5cc762"/>
<rect x="311.6" y="274.0" width="5.0" height="2.4" fill="#219989"/>
<rect x="316.3" y="274.0" width="5.0" height="2.4" fill="#22a884"/>
<rect x="321.0" y="274.0" width="5.0" height="2.4" fill="#22a585"/>
<rect x="325.8" y="274.0" width="5.0" height="2.4" fill="#22a087"/>
<rect x="235.9" y="276.1" width="5.0" height="2.4" fill="#35608d"/>
<rect x="240.6" y="276.1" width="5.0" height="2.4" fill="#3b528a"/>
<rect x="245.4" y="276.1" width="5.0" height="2.4" fill="#2f6c8e"/>
<rect x="250.1" y="276.1" width="5.0" height="2.4" fill="#30698d"/>
<rect x="254.8" y="276.1" width="5.0" height="2.4" fill="#3b508a"/>
<rect x="259.6" y="276.1" width="5.0" height="2.4" fill="#355e8d"/>
<rect x="264.3" y="276.1" width="5.0" height="2.4" fill="#365e8d"/>
<rect x="269.0" y="276.1" width="5.0" height="2.4" fill="#3b528a"/>
<rect x="273.7" y="276.1" width="5.0" height="2.4" fill="#355f8d"/>
<rect x="278.5" y="276.1" width="5.0" height="2.4" fill="#375a8c"/>
<rect x="283.2" y="276.1" width="5.0" height="2.4" fill="#3ebb73"/>
<rect x="287.9" y="276.1" width="5.0" height="2.4" fill="#2fb17c"/>
<rect x="292.7" y="276.1" width="5.0" height="2.4" fill="#34b47a"/>
<rect x="297.4" y="276.1" width="5.0" height="2.4" fill="#5fc861"/>
<rect x="302.1" y="276.1" width="5.0" height="2.4" fill="#70ce57"/>
<rect x="306.9" y="276.1" width="5.0" height="2.4" fill="#89d447"/>
<rect x="311.6" y="276.1" width="5.0" height="2.4" fill="#25aa82"/>
<rect x="316.3" y="276.1" width="5.0" height="2.4" fill="#2daf7e"/>
<rect x="321.0" y="276.1" width="5.0" height="2.4" fill="#22a784"/>
<rect x="325.8" y="276.1" width="5.0" height="2.4" fill="#229e87"/>
<rect x="235.9" y="278.2" width="5.0" height="2.4" fill="#39568b"/>
<rect x="240.6" y="278.2" width="5.0" height="2.4" fill="#365d8d"/>
<rect x="245.4" y="278.2" width="5.0" height="2.4" fill="#32658d"/>
<rect x="250.1" y="278.2" width="5.0" height="2.4" fill="#375b8c"/>
<rect x="254.8" y="278.2" width="5.0" height="2.4" fill="#31698d"/>
<rect x="259.6" y="278.2" width="5.0" height="2.4" fill="#32658d"/>
<rect x="264.3" y="278.2" width="5.0" height="2.4" fill="#375a8c"/>
<rect x="269.0" y="278.2" width="5.0" height="2.4" fill="#3a538a"/>
<rect x="273.7" y="278.2" width="5.0" height="2.4" fill="#404587"/>
<rect x="278.5" y="278.2" width="5.0" height="2.4" fill="#3a538a"/>
<rect x="283.2" y="278.2" width="5.0" height="2.4" fill="#56c566"/>
<rect x="287.9" y="278.2" width="5.0" height="2.4" fill="#71ce56"/>
<rect x="292.7" y="278.2" width="5.0" height="2.4" fill="#76d053"/>
<rect x="297.4" y="278.2" width="5.0" height="2.4" fill="#bedf26"/>
<rect x="302.1" y="278.2" width="5.0" height="2.4" fill="#afdc2f"/>
<rect x="306.9" y="278.2" width="5.0" height="2.4" fill="#b7de2a"/>
<rect x="311.6" y="278.2" width="5.0" height="2.4" fill="#45bf70"/>
<rect x="316.3" y="278.2" width="5.0" height="2.4" fill="#4ec26a"/>
<rect x="321.0" y="278.2" width="5.0" height="2.4" fill="#45bf6f"/>
<rect x="325.8" y="278.2" width="5.0" height="2.4" fill="#28ac80"/>
<rect x="235.9" y="280.2" width="5.0" height="2.4" fill="#31688d"/>
<rect x="240.6" y="280.2" width="5.0" height="2.4" fill="#3a558b"/>
<rect x="245.4" y="280.2" width="5.0" height="2.4" fill="#306a8d"/>
<rect x="250.1" y="280.2" width="5.0" height="2.4" fill="#2e6f8e"/>
<rect x="254.8" y="280.2" width="5.0" height="2.4" fill="#31688d"/>
<rect x="259.6" y="280.2" width="5.0" height="2.4" fill="#3c508a"/>
<rect x="264.3" y="280.2" width="5.0" height="2.4" fill="#375b8c"/>
<rect x="269.0" y="280.2" width="5.0" height="2.4" fill="#355e8d"/>
<rect x="273.7" y="280.2" width="5.0" height="2.4" fill="#38588b"/>
<rect x="278.5" y="280.2" width="5.0" height="2.4" fill="#31688d"/>
<rect x="283.2" y="280.2" width="5.0" height="2.4" fill="#34b479"/>
<rect x="287.9" y="280.2" width="5.0" height="2.4" fill="#30b27c"/>
<rect x="292.7" y="280.2" width="5.0" height="2.4" fill="#3ebb73"/>
<rect x="297.4" y="280.2" width="5.0" height="2.4" fill="#71ce56"/>
<rect x="302.1" y="280.2" width="5.0" height="2.4" fill="#7bd150"/>
<rect x="306.9" y="280.2" width="5.0" height="2.4" fill="#c3e026"/>
<rect x="311.6" y="280.2" width="5.0" height="2.4" fill="#34b47a"/>
<rect x="316.3" y="280.2" width="5.0" height="2.4" fill="#2daf7e"/>
<rect x="321.0" y="280.2" width="5.0" height="2.4" fill="#22a186"/>
<rect x="325.8" y="280.2" width="5.0" height="2.4" fill="#2caf7e"/>
<rect x="235.9" y="282.3" width="5.0" height="2.4" fill="#35608d"/>
<rect x="240.6" y="282.3" width="5.0" height="2.4" fill="#2e6e8e"/>
<rect x="245.4" y="282.3" width="5.0" height="2.4" fill="#2b768e"/>
<rect x="250.1" y="282.3" width="5.0" height="2.4" fill="#32658d"/>
<rect x="254.8" y="282.3" width="5.0" height="2.4" fill="#2d728e"/>
<rect x="259.6" y="282.3" width="5.0" height="2.4" fill="#375a8c"/>
<rect x="264.3" y="282.3" width="5.0" height="2.4" fill="#3f4788"/>
<rect x="269.0" y="282.3" width="5.0" height="2.4" fill="#404688"/>
<rect x="273.7" y="282.3" width="5.0" height="2.4" fill="#423f84"/>
<rect x="278.5" y="282.3" width="5.0" height="2.4" fill="#32668d"/>
<rect x="283.2" y="282.3" width="5.0" height="2.4" fill="#46c06f"/>
<rect x="287.9" y="282.3" width="5.0" height="2.4" fill="#2fb17d"/>
<rect x="292.7" y="282.3" width="5.0" height="2.4" fill="#45bf6f"/>
<rect x="297.4" y="282.3" width="5.0" height="2.4" fill="#6dcd58"/>
<rect x="302.1" y="282.3" width="5.0" height="2.4" fill="#5fc861"/>
<rect x="306.9" y="282.3" width="5.0" height="2.4" fill="#98d73e"/>
<rect x="311.6" y="282.3" width="5.0" height="2.4" fill="#228f8c"/>
<rect x="316.3" y="282.3" width="5.0" height="2.4" fill="#22a386"/>
<rect x="321.0" y="282.3" width="5.0" height="2.4" fill="#219b88"/>
<rect x="325.8" y="282.3" width="5.0" height="2.4" fill="#22a186"/>
<rect x="235.9" y="284.4" width="5.0" height="2.4" fill="#2d708e"/>
<rect x="240.6" y="284.4" width="5.0" height="2.4" fill="#35608d"/>
<rect x="245.4" y="284.4" width="5.0" height="2.4" fill="#2e708e"/>
<rect x="250.1" y="284.4" width="5.0" height="2.4" fill="#2b758e"/>
<rect x="254.8" y="284.4" width="5.0" height="2.4" fill="#33638d"/>
<rect x="259.6" y="284.4" width="5.0" height="2.4" fill="#2e6f8e"/>
<rect x="264.3" y="284.4" width="5.0" height="2.4" fill="#38588b"/>
<rect x="269.0" y="284.4" width="5.0" height="2.4" fill="#375a8c"/>
<rect x="273.7" y="284.4" width="5.0" height="2.4" fill="#34618d"/>
<rect x="278.5" y="284.4" width="5.0" height="2.4" fill="#32678d"/>
<rect x="283.2" y="284.4" width="5.0" height="2.4" fill="#36b678"/>
<rect x="287.9" y="284.4" width="5.0" height="2.4" fill="#41bd72"/>
<rect x="292.7" y="284.4" width="5.0" height="2.4" fill="#43be70"/>
<rect x="297.4" y="284.4" width="5.0" height="2.4" fill="#90d643"/>
<rect x="302.1" y="284.4" width="5.0" height="2.4" fill="#99d73d"/>
<rect x="306.9" y="284.4" width="5.0" height="2.4" fill="#64ca5e"/>
<rect x="311.6" y="284.4" width="5.0" height="2.4" fill="#3dba74"/>
<rect x="316.3" y="284.4" width="5.0" height="2.4" fill="#2aad7f"/>
<rect x="321.0" y="284.4" width="5.0" height="2.4" fill="#23a884"/>
<rect x="325.8" y="284.4" width="5.0" height="2.4" fill="#27ac81"/>
<rect x="235.9" y="286.5" width="5.0" height="2.4" fill="#32658d"/>
<rect x="240.6" y="286.5" width="5.0" height="2.4" fill="#34628d"/>
<rect x="245.4" y="286.5" width="5.0" height="2.4" fill="#355f8d"/>
<rect x="250.1" y="286.5" width="5.0" height="2.4" fill="#2f6d8e"/>
<rect x="254.8" y="286.5" width="5.0" height="2.4" fill="#2a788e"/>
<rect x="259.6" y="286.5" width="5.0" height="2.4" fill="#2c738e"/>
<rect x="264.3" y="286.5" width="5.0" height="2.4" fill="#3b518a"/>
<rect x="269.0" y="286.5" width="5.0" height="2.4" fill="#2f6c8e"/>
<rect x="273.7" y="286.5" width="5.0" height="2.4" fill="#39578b"/>
<rect x="278.5" y="286.5" width="5.0" height="2.4" fill="#31678d"/>
<rect x="283.2" y="286.5" width="5.0" height="2.4" fill="#32b37a"/>
<rect x="287.9" y="286.5" width="5.0" height="2.4" fill="#3fbb73"/>
<rect x="292.7" y="286.5" width="5.0" height="2.4" fill="#40bc72"/>
<rect x="297.4" y="286.5" width="5.0" height="2.4" fill="#7cd150"/>
<rect x="302.1" y="286.5" width="5.0" height="2.4" fill="#75cf54"/>
<rect x="306.9" y="286.5" width="5.0" height="2.4" fill="#76d053"/>
<rect x="311.6" y="286.5" width="5.0" height="2.4" fill="#22a884"/>
<rect x="316.3" y="286.5" width="5.0" height="2.4" fill="#33b37a"/>
<rect x="321.0" y="286.5" width="5.0" height="2.4" fill="#22a784"/>
<rect x="325.8" y="286.5" width="5.0" height="2.4" fill="#25aa82"/>
<rect x="235.9" y="288.6" width="5.0" height="2.4" fill="#33638d"/>
<rect x="240.6" y="288.6" width="5.0" height="2.4" fill="#38598c"/>
<rect x="245.4" y="288.6" width="5.0" height="2.4" fill="#2e6e8e"/>
<rect x="250.1" y="288.6" width="5.0" height="2.4" fill="#3a538a"/>
<rect x="254.8" y="288.6" width="5.0" height="2.4" fill="#33638d"/>
<rect x="259.6" y="288.6" width="5.0" height="2.4" fill="#365d8c"/>
<rect x="264.3" y="288.6" width="5.0" height="2.4" fill="#414386"/>
<rect x="269.0" y="288.6" width="5.0" height="2.4" fill="#404788"/>
<rect x="273.7" y="288.6" width="5.0" height="2.4" fill="#3a548b"/>
<rect x="278.5" y="288.6" width="5.0" height="2.4" fill="#38588b"/>
<rect x="283.2" y="288.6" width="5.0" height="2.4" fill="#3ebb73"/>
<rect x="287.9" y="288.6" width="5.0" height="2.4" fill="#50c369"/>
<rect x="292.7" y="288.6" width="5.0" height="2.4" fill="#3dba74"/>
<rect x="297.4" y="288.6" width="5.0" height="2.4" fill="#5cc762"/>
<rect x="302.1" y="288.6" width="5.0" height="2.4" fill="#6ecd58"/>
<rect x="306.9" y="288.6" width="5.0" height="2.4" fill="#8fd543"/>
<rect x="311.6" y="288.6" width="5.0" height="2.4" fill="#229e87"/>
<rect x="316.3" y="288.6" width="5.0" height="2.4" fill="#21978a"/>
<rect x="321.0" y="288.6" width="5.0" height="2.4" fill="#22908c"/>
<rect x="325.8" y="288.6" width="5.0" height="2.4" fill="#22a286"/>
<rect x="235.9" y="290.7" width="5.0" height="2.4" fill="#306b8d"/>
<rect x="240.6" y="290.7" width="5.0" height="2.4" fill="#306a8d"/>
<rect x="245.4" y="290.7" width="5.0" height="2.4" fill="#33648d"/>
<rect x="250.1" y="290.7" width="5.0" height="2.4" fill="#2c738e"/>
<rect x="254.8" y="290.7" width="5.0" height="2.4" fill="#2a788e"/>
<rect x="259.6" y="290.7" width="5.0" height="2.4" fill="#39568b"/>
<rect x="264.3" y="290.7" width="5.0" height="2.4" fill="#433c83"/>
<rect x="269.0" y="290.7" width="5.0" height="2.4" fill="#3b518a"/>
<rect x="273.7" y="290.7" width="5.0" height="2.4" fill="#414286"/>
<rect x="278.5" y="290.7" width="5.0" height="2.4" fill="#38598c"/>
<rect x="283.2" y="290.7" width="5.0" height="2.4" fill="#22a386"/>
<rect x="287.9" y="290.7" width="5.0" height="2.4" fill="#2eb07d"/>
<rect x="292.7" y="290.7" width="5.0" height="2.4" fill="#2fb07d"/>
<rect x="297.4" y="290.7" width="5.0" height="2.4" fill="#72ce55"/>
<rect x="302.1" y="290.7" width="5.0" height="2.4" fill="#5bc763"/>
<rect x="306.9" y="290.7" width="5.0" height="2.4" fill="#62c95f"/>
<rect x="311.6" y="290.7" width="5.0" height="2.4" fill="#24a983"/>
<rect x="316.3" y="290.7" width="5.0" height="2.4" fill="#35b579"/>
<rect x="321.0" y="290.7" width="5.0" height="2.4" fill="#34b479"/>
<rect x="325.8" y="290.7" width="5.0" height="2.4" fill="#38b777"/>
<rect x="235.9" y="292.8" width="5.0" height="2.4" fill="#34628d"/>
<rect x="240.6" y="292.8" width="5.0" height="2.4" fill="#32668d"/>
<rect x="245.4" y="292.8" width="5.0" height="2.4" fill="#35608d"/>
<rect x="250.1" y="292.8" width="5.0" height="2.4" fill="#31688d"/>
<rect x="254.8" y="292.8" width="5.0" height="2.4" fill="#35608d"/>
<rect x="259.6" y="292.8" width="5.0" height="2.4" fill="#404687"/>
<rect x="264.3" y="292.8" width="5.0" height="2.4" fill="#433c83"/>
<rect x="269.0" y="292.8" width="5.0" height="2.4" fill="#423f84"/>
<rect x="273.7" y="292.8" width="5.0" height="2.4" fill="#3d4d89"/>
<rect x="278.5" y="292.8" width="5.0" height="2.4" fill="#365d8d"/>
<rect x="283.2" y="292.8" width="5.0" height="2.4" fill="#3ebb73"/>
<rect x="287.9" y="292.8" width="5.0" height="2.4" fill="#4bc16c"/>
<rect x="292.7" y="292.8" width="5.0" height="2.4" fill="#33b37a"/>
<rect x="297.4" y="292.8" width="5.0" height="2.4" fill="#7dd24f"/>
<rect x="302.1" y="292.8" width="5.0" height="2.4" fill="#a2d937"/>
<rect x="306.9" y="292.8" width="5.0" height="2.4" fill="#8ad447"/>
<rect x="311.6" y="292.8" width="5.0" height="2.4" fill="#2fb17c"/>
<rect x="316.3" y="292.8" width="5.0" height="2.4" fill="#219a89"/>
<rect x="321.0" y="292.8" width="5.0" height="2.4" fill="#219c88"/>
<rect x="325.8" y="292.8" width="5.0" height="2.4" fill="#22a286"/>
<rect x="235.9" y="294.9" width="5.0" height="2.4" fill="#355f8d"/>
<rect x="240.6" y="294.9" width="5.0" height="2.4" fill="#2e6f8e"/>
<rect x="245.4" y="294.9" width="5.0" height="2.4" fill="#32658d"/>
<rect x="250.1" y="294.9" width="5.0" height="2.4" fill="#287e8e"/>
<rect x="254.8" y="294.9" width="5.0" height="2.4" fill="#2d718e"/>
<rect x="259.6" y="294.9" width="5.0" height="2.4" fill="#31688d"/>
<rect x="264.3" y="294.9" width="5.0" height="2.4" fill="#32658d"/>
<rect x="269.0" y="294.9" width="5.0" height="2.4" fill="#34618d"/>
<rect x="273.7" y="294.9" width="5.0" height="2.4" fill="#306b8d"/>
<rect x="278.5" y="294.9" width="5.0" height="2.4" fill="#2a798e"/>
<rect x="283.2" y="294.9" width="5.0" height="2.4" fill="#33b37a"/>
<rect x="287.9" y="294.9" width="5.0" height="2.4" fill="#41bd72"/>
<rect x="292.7" y="294.9" width="5.0" height="2.4" fill="#3dba74"/>
<rect x="297.4" y="294.9" width="5.0" height="2.4" fill="#73cf55"/>
<rect x="302.1" y="294.9" width="5.0" height="2.4" fill="#7ad151"/>
<rect x="306.9" y="294.9" width="5.0" height="2.4" fill="#83d34b"/>
<rect x="311.6" y="294.9" width="5.0" height="2.4" fill="#22a187"/>
<rect x="316.3" y="294.9" width="5.0" height="2.4" fill="#229e88"/>
<rect x="321.0" y="294.9" width="5.0" height="2.4" fill="#2aad7f"/>
<rect x="325.8" y="294.9" width="5.0" height="2.4" fill="#22a386"/>
<rect x="235.9" y="297.0" width="5.0" height="2.4" fill="#3a548a"/>
<rect x="240.6" y="297.0" width="5.0" height="2.4" fill="#414387"/>
<rect x="245.4" y="297.0" width="5.0" height="2.4" fill="#3c508a"/>
<rect x="250.1" y="297.0" width="5.0" height="2.4" fill="#33638d"/>
<rect x="254.8" y="297.0" width="5.0" height="2.4" fill="#39578b"/>
<rect x="259.6" y="297.0" width="5.0" height="2.4" fill="#39558b"/>
<rect x="264.3" y="297.0" width="5.0" height="2.4" fill="#306a8d"/>
<rect x="269.0" y="297.0" width="5.0" height="2.4" fill="#3c4f89"/>
<rect x="273.7" y="297.0" width="5.0" height="2.4" fill="#31688d"/>
<rect x="278.5" y="297.0" width="5.0" height="2.4" fill="#365e8d"/>
<rect x="283.2" y="297.0" width="5.0" height="2.4" fill="#22a485"/>
<rect x="287.9" y="297.0" width="5.0" height="2.4" fill="#43be71"/>
<rect x="292.7" y="297.0" width="5.0" height="2.4" fill="#28ac80"/>
<rect x="297.4" y="297.0" width="5.0" height="2.4" fill="#75cf54"/>
<rect x="302.1" y="297.0" width="5.0" height="2.4" fill="#7dd24f"/>
<rect x="306.9" y="297.0" width="5.0" height="2.4" fill="#4ec26a"/>
<rect x="311.6" y="297.0" width="5.0" height="2.4" fill="#27ab81"/>
<rect x="316.3" y="297.0" width="5.0" height="2.4" fill="#22a685"/>
<rect x="321.0" y="297.0" width="5.0" height="2.4" fill="#2db07d"/>
<rect x="325.8" y="297.0" width="5.0" height="2.4" fill="#26ab82"/>
<rect x="235.9" y="299.0" width="5.0" height="2.4" fill="#3e4b89"/>
<rect x="240.6" y="299.0" width="5.0" height="2.4" fill="#3b518a"/>
<rect x="245.4" y="299.0" width="5.0" height="2.4" fill="#39568b"/>
<rect x="250.1" y="299.0" width="5.0" height="2.4" fill="#3a538a"/>
<rect x="254.8" y="299.0" width="5.0" height="2.4" fill="#34618d"/>
<rect x="259.6" y="299.0" width="5.0" height="2.4" fill="#306a8d"/>
<rect x="264.3" y="299.0" width="5.0" height="2.4" fill="#365c8c"/>
<rect x="269.0" y="299.0" width="5.0" height="2.4" fill="#375b8c"/>
<rect x="273.7" y="299.0" width="5.0" height="2.4" fill="#3a548b"/>
<rect x="278.5" y="299.0" width="5.0" height="2.4" fill="#3b528a"/>
<rect x="283.2" y="299.0" width="5.0" height="2.4" fill="#5ac663"/>
<rect x="287.9" y="299.0" width="5.0" height="2.4" fill="#67cb5c"/>
<rect x="292.7" y="299.0" width="5.0" height="2.4" fill="#4bc16c"/>
<rect x="297.4" y="299.0" width="5.0" height="2.4" fill="#8bd546"/>
<rect x="302.1" y="299.0" width="5.0" height="2.4" fill="#90d643"/>
<rect x="306.9" y="299.0" width="5.0" height="2.4" fill="#addc30"/>
<rect x="311.6" y="299.0" width="5.0" height="2.4" fill="#26ab82"/>
<rect x="316.3" y="299.0" width="5.0" height="2.4" fill="#22a187"/>
<rect x="321.0" y="299.0" width="5.0" height="2.4" fill="#22a784"/>
<rect x="325.8" y="299.0" width="5.0" height="2.4" fill="#22a286"/>
<rect x="235.9" y="301.1" width="5.0" height="2.4" fill="#3e4a88"/>
<rect x="240.6" y="301.1" width="5.0" height="2.4" fill="#3b518a"/>
<rect x="245.4" y="301.1" width="5.0" height="2.4" fill="#38588b"/>
<rect x="250.1" y="301.1" width="5.0" height="2.4" fill="#38588c"/>
<rect x="254.8" y="301.1" width="5.0" height="2.4" fill="#3d4d89"/>
<rect x="259.6" y="301.1" width="5.0" height="2.4" fill="#34608d"/>
<rect x="264.3" y="301.1" width="5.0" height="2.4" fill="#45327d"/>
<rect x="269.0" y="301.1" width="5.0" height="2.4" fill="#3b508a"/>
<rect x="273.7" y="301.1" width="5.0" height="2.4" fill="#3b508a"/>
<rect x="278.5" y="301.1" width="5.0" height="2.4" fill="#3b518a"/>
<rect x="283.2" y="301.1" width="5.0" height="2.4" fill="#2caf7e"/>
<rect x="287.9" y="301.1" width="5.0" height="2.4" fill="#35b579"/>
<rect x="292.7" y="301.1" width="5.0" height="2.4" fill="#36b578"/>
<rect x="297.4" y="301.1" width="5.0" height="2.4" fill="#4ac16c"/>
<rect x="302.1" y="301.1" width="5.0" height="2.4" fill="#5ac664"/>
<rect x="306.9" y="301.1" width="5.0" height="2.4" fill="#7bd150"/>
<rect x="311.6" y="301.1" width="5.0" height="2.4" fill="#34b479"/>
<rect x="316.3" y="301.1" width="5.0" height="2.4" fill="#31b27b"/>
<rect x="321.0" y="301.1" width="5.0" height="2.4" fill="#2aad7f"/>
<rect x="325.8" y="301.1" width="5.0" height="2.4" fill="#2db07d"/>
<rect x="235.9" y="303.2" width="5.0" height="2.4" fill="#375a8c"/>
<rect x="240.6" y="303.2" width="5.0" height="2.4" fill="#37598c"/>
<rect x="245.4" y="303.2" width="5.0" height="2.4" fill="#3b538a"/>
<rect x="250.1" y="303.2" width="5.0" height="2.4" fill="#30698d"/>
<rect x="254.8" y="303.2" width="5.0" height="2.4" fill="#365d8d"/>
<rect x="259.6" y="303.2" width="5.0" height="2.4" fill="#297a8e"/>
<rect x="264.3" y="303.2" width="5.0" height="2.4" fill="#2f6d8e"/>
<rect x="269.0" y="303.2" width="5.0" height="2.4" fill="#2d708e"/>
<rect x="273.7" y="303.2" width="5.0" height="2.4" fill="#34618d"/>
<rect x="278.5" y="303.2" width="5.0" height="2.4" fill="#2a778e"/>
<rect x="283.2" y="303.2" width="5.0" height="2.4" fill="#29ad80"/>
<rect x="287.9" y="303.2" width="5.0" height="2.4" fill="#37b677"/>
<rect x="292.7" y="303.2" width="5.0" height="2.4" fill="#37b678"/>
<rect x="297.4" y="303.2" width="5.0" height="2.4" fill="#48c06e"/>
<rect x="302.1" y="303.2" width="5.0" height="2.4" fill="#66ca5c"/>
<rect x="306.9" y="303.2" width="5.0" height="2.4" fill="#7dd24f"/>
<rect x="311.6" y="303.2" width="5.0" height="2.4" fill="#27ab81"/>
<rect x="316.3" y="303.2" width="5.0" height="2.4" fill="#28ac80"/>
<rect x="321.0" y="303.2" width="5.0" height="2.4" fill="#42bd71"/>
<rect x="325.8" y="303.2" width="5.0" height="2.4" fill="#34b479"/>
<rect x="235.9" y="305.3" width="5.0" height="2.4" fill="#355f8d"/>
<rect x="240.6" y="305.3" width="5.0" height="2.4" fill="#33628d"/>
<rect x="245.4" y="305.3" width="5.0" height="2.4" fill="#39578b"/>
<rect x="250.1" y="305.3" width="5.0" height="2.4" fill="#3a548b"/>
<rect x="254.8" y="305.3" width="5.0" height="2.4" fill="#375b8c"/>
<rect x="259.6" y="305.3" width="5.0" height="2.4" fill="#3b518a"/>
<rect x="264.3" y="305.3" width="5.0" height="2.4" fill="#404788"/>
<rect x="269.0" y="305.3" width="5.0" height="2.4" fill="#423e83"/>
<rect x="273.7" y="305.3" width="5.0" height="2.4" fill="#424286"/>
<rect x="278.5" y="305.3" width="5.0" height="2.4" fill="#3e4b89"/>
<rect x="283.2" y="305.3" width="5.0" height="2.4" fill="#38b777"/>
<rect x="287.9" y="305.3" width="5.0" height="2.4" fill="#41bd72"/>
<rect x="292.7" y="305.3" width="5.0" height="2.4" fill="#52c468"/>
<rect x="297.4" y="305.3" width="5.0" height="2.4" fill="#79d152"/>
<rect x="302.1" y="305.3" width="5.0" height="2.4" fill="#92d642"/>
<rect x="306.9" y="305.3" width="5.0" height="2.4" fill="#8dd545"/>
<rect x="311.6" y="305.3" width="5.0" height="2.4" fill="#22a784"/>
<rect x="316.3" y="305.3" width="5.0" height="2.4" fill="#28ac81"/>
<rect x="321.0" y="305.3" width="5.0" height="2.4" fill="#22a286"/>
<rect x="325.8" y="305.3" width="5.0" height="2.4" fill="#26ab82"/>
<rect x="235.9" y="307.4" width="5.0" height="2.4" fill="#39568b"/>
<rect x="240.6" y="307.4" width="5.0" height="2.4" fill="#33638d"/>
<rect x="245.4" y="307.4" width="5.0" height="2.4" fill="#32668d"/>
<rect x="250.1" y="307.4" width="5.0" height="2.4" fill="#39578b"/>
<rect x="254.8" y="307.4" width="5.0" height="2.4" fill="#2e6f8e"/>
<rect x="259.6" y="307.4" width="5.0" height="2.4" fill="#423f84"/>
<rect x="264.3" y="307.4" width="5.0" height="2.4" fill="#471d6e"/>
<rect x="269.0" y="307.4" width="5.0" height="2.4" fill="#461668"/>
<rect x="273.7" y="307.4" width="5.0" height="2.4" fill="#482374"/>
<rect x="278.5" y="307.4" width="5.0" height="2.4" fill="#39578b"/>
<rect x="283.2" y="307.4" width="5.0" height="2.4" fill="#67cb5c"/>
<rect x="287.9" y="307.4" width="5.0" height="2.4" fill="#24aa83"/>
<rect x="292.7" y="307.4" width="5.0" height="2.4" fill="#2caf7e"/>
<rect x="297.4" y="307.4" width="5.0" height="2.4" fill="#98d73e"/>
<rect x="302.1" y="307.4" width="5.0" height="2.4" fill="#86d449"/>
<rect x="306.9" y="307.4" width="5.0" height="2.4" fill="#7ad151"/>
<rect x="311.6" y="307.4" width="5.0" height="2.4" fill="#33b47a"/>
<rect x="316.3" y="307.4" width="5.0" height="2.4" fill="#2daf7d"/>
<rect x="321.0" y="307.4" width="5.0" height="2.4" fill="#2fb17c"/>
<rect x="325.8" y="307.4" width="5.0" height="2.4" fill="#2fb17c"/>
<rect x="235.9" y="309.5" width="5.0" height="2.4" fill="#3a548b"/>
<rect x="240.6" y="309.5" width="5.0" height="2.4" fill="#39558b"/>
<rect x="245.4" y="309.5" width="5.0" height="2.4" fill="#3a538a"/>
<rect x="250.1" y="309.5" width="5.0" height="2.4" fill="#433d83"/>
<rect x="254.8" y="309.5" width="5.0" height="2.4" fill="#3c508a"/>
<rect x="259.6" y="309.5" width="5.0" height="2.4" fill="#2d718e"/>
<rect x="264.3" y="309.5" width="5.0" height="2.4" fill="#3d4c89"/>
<rect x="269.0" y="309.5" width="5.0" height="2.4" fill="#3d4e89"/>
<rect x="273.7" y="309.5" width="5.0" height="2.4" fill="#306b8d"/>
<rect x="278.5" y="309.5" width="5.0" height="2.4" fill="#2b758e"/>
<rect x="283.2" y="309.5" width="5.0" height="2.4" fill="#26ab81"/>
<rect x="287.9" y="309.5" width="5.0" height="2.4" fill="#3ebb74"/>
<rect x="292.7" y="309.5" width="5.0" height="2.4" fill="#38b777"/>
<rect x="297.4" y="309.5" width="5.0" height="2.4" fill="#8ed544"/>
<rect x="302.1" y="309.5" width="5.0" height="2.4" fill="#72ce56"/>
<rect x="306.9" y="309.5" width="5.0" height="2.4" fill="#74cf55"/>
<rect x="311.6" y="309.5" width="5.0" height="2.4" fill="#29ad80"/>
<rect x="316.3" y="309.5" width="5.0" height="2.4" fill="#34b47a"/>
<rect x="321.0" y="309.5" width="5.0" height="2.4" fill="#30b27c"/>
<rect x="325.8" y="309.5" width="5.0" height="2.4" fill="#2aad7f"/>
<rect x="235.9" y="311.6" width="5.0" height="2.4" fill="#3c508a"/>
<rect x="240.6" y="311.6" width="5.0" height="2.4" fill="#31688d"/>
<rect x="245.4" y="311.6" width="5.0" height="2.4" fill="#39558b"/>
<rect x="250.1" y="311.6" width="5.0" height="2.4" fill="#33638d"/>
<rect x="254.8" y="311.6" width="5.0" height="2.4" fill="#33648d"/>
<rect x="259.6" y="311.6" width="5.0" height="2.4" fill="#3b518a"/>
<rect x="264.3" y="311.6" width="5.0" height="2.4" fill="#3a538a"/>
<rect x="269.0" y="311.6" width="5.0" height="2.4" fill="#3c508a"/>
<rect x="273.7" y="311.6" width="5.0" height="2.4" fill="#3f4988"/>
<rect x="278.5" y="311.6" width="5.0" height="2.4" fill="#3c4f89"/>
<rect x="283.2" y="311.6" width="5.0" height="2.4" fill="#43bf70"/>
<rect x="287.9" y="311.6" width="5.0" height="2.4" fill="#35b579"/>
<rect x="292.7" y="311.6" width="5.0" height="2.4" fill="#41bd72"/>
<rect x="297.4" y="311.6" width="5.0" height="2.4" fill="#81d24d"/>
<rect x="302.1" y="311.6" width="5.0" height="2.4" fill="#98d73e"/>
<rect x="306.9" y="311.6" width="5.0" height="2.4" fill="#96d73f"/>
<rect x="311.6" y="311.6" width="5.0" height="2.4" fill="#229e88"/>
<rect x="316.3" y="311.6" width="5.0" height="2.4" fill="#25aa82"/>
<rect x="321.0" y="311.6" width="5.0" height="2.4" fill="#28ac80"/>
<rect x="325.8" y="311.6" width="5.0" height="2.4" fill="#22a386"/>
<rect x="235.9" y="313.7" width="5.0" height="2.4" fill="#2e6e8e"/>
<rect x="240.6" y="313.7" width="5.0" height="2.4" fill="#3c4e89"/>
<rect x="245.4" y="313.7" width="5.0" height="2.4" fill="#31698d"/>
<rect x="250.1" y="313.7" width="5.0" height="2.4" fill="#2d728e"/>
<rect x="254.8" y="313.7" width="5.0" height="2.4" fill="#2f6d8e"/>
<rect x="259.6" y="313.7" width="5.0" height="2.4" fill="#3f4888"/>
<rect x="264.3" y="313.7" width="5.0" height="2.4" fill="#33648d"/>
<rect x="269.0" y="313.7" width="5.0" height="2.4" fill="#38598c"/>
<rect x="273.7" y="313.7" width="5.0" height="2.4" fill="#33638d"/>
<rect x="278.5" y="313.7" width="5.0" height="2.4" fill="#34628d"/>
<rect x="283.2" y="313.7" width="5.0" height="2.4" fill="#22a485"/>
<rect x="287.9" y="313.7" width="5.0" height="2.4" fill="#22a784"/>
<rect x="292.7" y="313.7" width="5.0" height="2.4" fill="#35b579"/>
<rect x="297.4" y="313.7" width="5.0" height="2.4" fill="#66ca5d"/>
<rect x="302.1" y="313.7" width="5.0" height="2.4" fill="#51c369"/>
<rect x="306.9" y="313.7" width="5.0" height="2.4" fill="#5dc762"/>
<rect x="311.6" y="313.7" width="5.0" height="2.4" fill="#29ad80"/>
<rect x="316.3" y="313.7" width="5.0" height="2.4" fill="#26ab82"/>
<rect x="321.0" y="313.7" width="5.0" height="2.4" fill="#22a685"/>
<rect x="325.8" y="313.7" width="5.0" height="2.4" fill="#22a186"/>
<rect x="235.9" y="315.8" width="5.0" height="2.4" fill="#34628d"/>
<rect x="240.6" y="315.8" width="5.0" height="2.4" fill="#3e4a88"/>
<rect x="245.4" y="315.8" width="5.0" height="2.4" fill="#3f4788"/>
<rect x="250.1" y="315.8" width="5.0" height="2.4" fill="#39578b"/>
<rect x="254.8" y="315.8" width="5.0" height="2.4" fill="#31688d"/>
<rect x="259.6" y="315.8" width="5.0" height="2.4" fill="#31698d"/>
<rect x="264.3" y="315.8" width="5.0" height="2.4" fill="#3f4888"/>
<rect x="269.0" y="315.8" width="5.0" height="2.4" fill="#424085"/>
<rect x="273.7" y="315.8" width="5.0" height="2.4" fill="#404688"/>
<rect x="278.5" y="315.8" width="5.0" height="2.4" fill="#3c4f8a"/>
<rect x="283.2" y="315.8" width="5.0" height="2.4" fill="#31b27b"/>
<rect x="287.9" y="315.8" width="5.0" height="2.4" fill="#3dba74"/>
<rect x="292.7" y="315.8" width="5.0" height="2.4" fill="#2bae7f"/>
<rect x="297.4" y="315.8" width="5.0" height="2.4" fill="#67cb5c"/>
<rect x="302.1" y="315.8" width="5.0" height="2.4" fill="#71ce56"/>
<rect x="306.9" y="315.8" width="5.0" height="2.4" fill="#76d054"/>
<rect x="311.6" y="315.8" width="5.0" height="2.4" fill="#219989"/>
<rect x="316.3" y="315.8" width="5.0" height="2.4" fill="#219989"/>
<rect x="321.0" y="315.8" width="5.0" height="2.4" fill="#21968a"/>
<rect x="325.8" y="315.8" width="5.0" height="2.4" fill="#219989"/>
<rect x="235.9" y="317.8" width="5.0" height="2.4" fill="#375a8c"/>
<rect x="240.6" y="317.8" width="5.0" height="2.4" fill="#34618d"/>
<rect x="245.4" y="317.8" width="5.0" height="2.4" fill="#423f84"/>
<rect x="250.1" y="317.8" width="5.0" height="2.4" fill="#3b518a"/>
<rect x="254.8" y="317.8" width="5.0" height="2.4" fill="#2d718e"/>
<rect x="259.6" y="317.8" width="5.0" height="2.4" fill="#2c758e"/>
<rect x="264.3" y="317.8" width="5.0" height="2.4" fill="#31698d"/>
<rect x="269.0" y="317.8" width="5.0" height="2.4" fill="#404687"/>
<rect x="273.7" y="317.8" width="5.0" height="2.4" fill="#3c4f8a"/>
<rect x="278.5" y="317.8" width="5.0" height="2.4" fill="#32658d"/>
<rect x="283.2" y="317.8" width="5.0" height="2.4" fill="#219a89"/>
<rect x="287.9" y="317.8" width="5.0" height="2.4" fill="#30b27c"/>
<rect x="292.7" y="317.8" width="5.0" height="2.4" fill="#229e88"/>
<rect x="297.4" y="317.8" width="5.0" height="2.4" fill="#51c369"/>
<rect x="302.1" y="317.8" width="5.0" height="2.4" fill="#3ab876"/>
<rect x="306.9" y="317.8" width="5.0" height="2.4" fill="#51c369"/>
<rect x="311.6" y="317.8" width="5.0" height="2.4" fill="#2caf7e"/>
<rect x="316.3" y="317.8" width="5.0" height="2.4" fill="#39b877"/>
<rect x="321.0" y="317.8" width="5.0" height="2.4" fill="#22a685"/>
<rect x="325.8" y="317.8" width="5.0" height="2.4" fill="#2caf7e"/>
<rect x="235.9" y="319.9" width="5.0" height="2.4" fill="#2e6e8e"/>
<rect x="240.6" y="319.9" width="5.0" height="2.4" fill="#27818d"/>
<rect x="245.4" y="319.9" width="5.0" height="2.4" fill="#287e8e"/>
<rect x="250.1" y="319.9" width="5.0" height="2.4" fill="#2a788e"/>
<rect x="254.8" y="319.9" width="5.0" height="2.4" fill="#2c748e"/>
<rect x="259.6" y="319.9" width="5.0" height="2.4" fill="#414487"/>
<rect x="264.3" y="319.9" width="5.0" height="2.4" fill="#404687"/>
<rect x="269.0" y="319.9" width="5.0" height="2.4" fill="#375a8c"/>
<rect x="273.7" y="319.9" width="5.0" height="2.4" fill="#3b518a"/>
<rect x="278.5" y="319.9" width="5.0" height="2.4" fill="#424185"/>
<rect x="283.2" y="319.9" width="5.0" height="2.4" fill="#28ac80"/>
<rect x="287.9" y="319.9" width="5.0" height="2.4" fill="#39b876"/>
<rect x="292.7" y="319.9" width="5.0" height="2.4" fill="#43be71"/>
<rect x="297.4" y="319.9" width="5.0" height="2.4" fill="#7bd150"/>
<rect x="302.1" y="319.9" width="5.0" height="2.4" fill="#81d24c"/>
<rect x="306.9" y="319.9" width="5.0" height="2.4" fill="#90d643"/>
<rect x="311.6" y="319.9" width="5.0" height="2.4" fill="#35b579"/>
<rect x="316.3" y="319.9" width="5.0" height="2.4" fill="#2daf7e"/>
<rect x="321.0" y="319.9" width="5.0" height="2.4" fill="#39b876"/>
<rect x="325.8" y="319.9" width="5.0" height="2.4" fill="#22a286"/>
<rect x="235.9" y="322.0" width="5.0" height="2.4" fill="#3b528a"/>
<rect x="240.6" y="322.0" width="5.0" height="2.4" fill="#26828d"/>
<rect x="245.4" y="322.0" width="5.0" height="2.4" fill="#2d728e"/>
<rect x="250.1" y="322.0" width="5.0" height="2.4" fill="#31688d"/>
<rect x="254.8" y="322.0" width="5.0" height="2.4" fill="#2c738e"/>
<rect x="259.6" y="322.0" width="5.0" height="2.4" fill="#2d708e"/>
<rect x="264.3" y="322.0" width="5.0" height="2.4" fill="#3f4888"/>
<rect x="269.0" y="322.0" width="5.0" height="2.4" fill="#365c8c"/>
<rect x="273.7" y="322.0" width="5.0" height="2.4" fill="#32678d"/>
<rect x="278.5" y="322.0" width="5.0" height="2.4" fill="#34618d"/>
<rect x="283.2" y="322.0" width="5.0" height="2.4" fill="#2eb07d"/>
<rect x="287.9" y="322.0" width="5.0" height="2.4" fill="#27ac81"/>
<rect x="292.7" y="322.0" width="5.0" height="2.4" fill="#36b578"/>
<rect x="297.4" y="322.0" width="5.0" height="2.4" fill="#5bc763"/>
<rect x="302.1" y="322.0" width="5.0" height="2.4" fill="#5bc763"/>
<rect x="306.9" y="322.0" width="5.0" height="2.4" fill="#4ec26a"/>
<rect x="311.6" y="322.0" width="5.0" height="2.4" fill="#28ac80"/>
<rect x="316.3" y="322.0" width="5.0" height="2.4" fill="#36b578"/>
<rect x="321.0" y="322.0" width="5.0" height="2.4" fill="#39b777"/>
<rect x="325.8" y="322.0" width="5.0" height="2.4" fill="#2eb07d"/>
<rect x="235.9" y="324.1" width="5.0" height="2.4" fill="#3c4f89"/>
<rect x="240.6" y="324.1" width="5.0" height="2.4" fill="#375a8c"/>
<rect x="245.4" y="324.1" width="5.0" height="2.4" fill="#32668d"/>
<rect x="250.1" y="324.1" width="5.0" height="2.4" fill="#3a538a"/>
<rect x="254.8" y="324.1" width="5.0" height="2.4" fill="#3a538a"/>
<rect x="259.6" y="324.1" width="5.0" height="2.4" fill="#38578b"/>
<rect x="264.3" y="324.1" width="5.0" height="2.4" fill="#3b518a"/>
<rect x="269.0" y="324.1" width="5.0" height="2.4" fill="#34618d"/>
<rect x="273.7" y="324.1" width="5.0" height="2.4" fill="#35608d"/>
<rect x="278.5" y="324.1" width="5.0" height="2.4" fill="#2e6f8e"/>
<rect x="283.2" y="324.1" width="5.0" height="2.4" fill="#2db07d"/>
<rect x="287.9" y="324.1" width="5.0" height="2.4" fill="#4fc369"/>
<rect x="292.7" y="324.1" width="5.0" height="2.4" fill="#36b678"/>
<rect x="297.4" y="324.1" width="5.0" height="2.4" fill="#96d73f"/>
<rect x="302.1" y="324.1" width="5.0" height="2.4" fill="#59c664"/>
<rect x="306.9" y="324.1" width="5.0" height="2.4" fill="#86d449"/>
<rect x="311.6" y="324.1" width="5.0" height="2.4" fill="#29ad80"/>
<rect x="316.3" y="324.1" width="5.0" height="2.4" fill="#43be71"/>
<rect x="321.0" y="324.1" width="5.0" height="2.4" fill="#35b579"/>
<rect x="325.8" y="324.1" width="5.0" height="2.4" fill="#43be71"/>
<rect x="235.9" y="326.2" width="5.0" height="2.4" fill="#3c4e89"/>
<rect x="240.6" y="326.2" width="5.0" height="2.4" fill="#32658d"/>
<rect x="245.4" y="326.2" width="5.0" height="2.4" fill="#39558b"/>
<rect x="250.1" y="326.2" width="5.0" height="2.4" fill="#375a8c"/>
<rect x="254.8" y="326.2" width="5.0" height="2.4" fill="#3e4a88"/>
<rect x="259.6" y="326.2" width="5.0" height="2.4" fill="#2e6f8e"/>
<rect x="264.3" y="326.2" width="5.0" height="2.4" fill="#31688d"/>
<rect x="269.0" y="326.2" width="5.0" height="2.4" fill="#355e8d"/>
<rect x="273.7" y="326.2" width="5.0" height="2.4" fill="#306b8d"/>
<rect x="278.5" y="326.2" width="5.0" height="2.4" fill="#38588c"/>
<rect x="283.2" y="326.2" width="5.0" height="2.4" fill="#43be71"/>
<rect x="287.9" y="326.2" width="5.0" height="2.4" fill="#33b47a"/>
<rect x="292.7" y="326.2" width="5.0" height="2.4" fill="#4ec26b"/>
<rect x="297.4" y="326.2" width="5.0" height="2.4" fill="#71ce56"/>
<rect x="302.1" y="326.2" width="5.0" height="2.4" fill="#6bcc5a"/>
<rect x="306.9" y="326.2" width="5.0" height="2.4" fill="#6fcd57"/>
<rect x="311.6" y="326.2" width="5.0" height="2.4" fill="#3ebb74"/>
<rect x="316.3" y="326.2" width="5.0" height="2.4" fill="#41bd72"/>
<rect x="321.0" y="326.2" width="5.0" height="2.4" fill="#35b579"/>
<rect x="325.8" y="326.2" width="5.0" height="2.4" fill="#31b27b"/>
<rect x="235.9" y="328.3" width="5.0" height="2.4" fill="#3e4b89"/>
<rect x="240.6" y="328.3" width="5.0" height="2.4" fill="#38588b"/>
<rect x="245.4" y="328.3" width="5.0" height="2.4" fill="#423f84"/>
<rect x="250.1" y="328.3" width="5.0" height="2.4" fill="#433a82"/>
<rect x="254.8" y="328.3" width="5.0" height="2.4" fill="#433981"/>
<rect x="259.6" y="328.3" width="5.0" height="2.4" fill="#24a983"/>
<rect x="264.3" y="328.3" width="5.0" height="2.4" fill="#219989"/>
<rect x="269.0" y="328.3" width="5.0" height="2.4" fill="#21958b"/>
<rect x="273.7" y="328.3" width="5.0" height="2.4" fill="#30b27c"/>
<rect x="278.5" y="328.3" width="5.0" height="2.4" fill="#228e8c"/>
<rect x="283.2" y="328.3" width="5.0" height="2.4" fill="#229e87"/>
<rect x="287.9" y="328.3" width="5.0" height="2.4" fill="#42bd71"/>
<rect x="292.7" y="328.3" width="5.0" height="2.4" fill="#25858d"/>
<rect x="297.4" y="328.3" width="5.0" height="2.4" fill="#21918c"/>
<rect x="302.1" y="328.3" width="5.0" height="2.4" fill="#25868d"/>
<rect x="306.9" y="328.3" width="5.0" height="2.4" fill="#21928c"/>
<rect x="311.6" y="328.3" width="5.0" height="2.4" fill="#22a386"/>
<rect x="316.3" y="328.3" width="5.0" height="2.4" fill="#229d88"/>
<rect x="321.0" y="328.3" width="5.0" height="2.4" fill="#53c468"/>
<rect x="325.8" y="328.3" width="5.0" height="2.4" fill="#22a485"/>
<rect x="235.9" y="330.4" width="5.0" height="2.4" fill="#45085b"/>
<rect x="240.6" y="330.4" width="5.0" height="2.4" fill="#375b8c"/>
<rect x="245.4" y="330.4" width="5.0" height="2.4" fill="#424185"/>
<rect x="250.1" y="330.4" width="5.0" height="2.4" fill="#472978"/>
<rect x="254.8" y="330.4" width="5.0" height="2.4" fill="#38598c"/>
<rect x="259.6" y="330.4" width="5.0" height="2.4" fill="#219b88"/>
<rect x="264.3" y="330.4" width="5.0" height="2.4" fill="#34b47a"/>
<rect x="269.0" y="330.4" width="5.0" height="2.4" fill="#21988a"/>
<rect x="273.7" y="330.4" width="5.0" height="2.4" fill="#229f87"/>
<rect x="278.5" y="330.4" width="5.0" height="2.4" fill="#219c88"/>
<rect x="283.2" y="330.4" width="5.0" height="2.4" fill="#24aa83"/>
<rect x="287.9" y="330.4" width="5.0" height="2.4" fill="#65ca5d"/>
<rect x="292.7" y="330.4" width="5.0" height="2.4" fill="#229d88"/>
<rect x="297.4" y="330.4" width="5.0" height="2.4" fill="#24a983"/>
<rect x="302.1" y="330.4" width="5.0" height="2.4" fill="#2caf7e"/>
<rect x="306.9" y="330.4" width="5.0" height="2.4" fill="#21958a"/>
<rect x="311.6" y="330.4" width="5.0" height="2.4" fill="#219c88"/>
<rect x="316.3" y="330.4" width="5.0" height="2.4" fill="#22a784"/>
<rect x="321.0" y="330.4" width="5.0" height="2.4" fill="#3ebb74"/>
<rect x="325.8" y="330.4" width="5.0" height="2.4" fill="#22a685"/>
<rect x="235.9" y="332.5" width="5.0" height="2.4" fill="#44347e"/>
<rect x="240.6" y="332.5" width="5.0" height="2.4" fill="#482475"/>
<rect x="245.4" y="332.5" width="5.0" height="2.4" fill="#482575"/>
<rect x="250.1" y="332.5" width="5.0" height="2.4" fill="#47196a"/>
<rect x="254.8" y="332.5" width="5.0" height="2.4" fill="#471c6d"/>
<rect x="259.6" y="332.5" width="5.0" height="2.4" fill="#219a89"/>
<rect x="264.3" y="332.5" width="5.0" height="2.4" fill="#27ab81"/>
<rect x="269.0" y="332.5" width="5.0" height="2.4" fill="#23a983"/>
<rect x="273.7" y="332.5" width="5.0" height="2.4" fill="#219989"/>
<rect x="278.5" y="332.5" width="5.0" height="2.4" fill="#23a983"/>
<rect x="283.2" y="332.5" width="5.0" height="2.4" fill="#27ac81"/>
<rect x="287.9" y="332.5" width="5.0" height="2.4" fill="#7ed24f"/>
<rect x="292.7" y="332.5" width="5.0" height="2.4" fill="#22a585"/>
<rect x="297.4" y="332.5" width="5.0" height="2.4" fill="#22a585"/>
<rect x="302.1" y="332.5" width="5.0" height="2.4" fill="#219a89"/>
<rect x="306.9" y="332.5" width="5.0" height="2.4" fill="#22a186"/>
<rect x="311.6" y="332.5" width="5.0" height="2.4" fill="#49c16d"/>
<rect x="316.3" y="332.5" width="5.0" height="2.4" fill="#3ab876"/>
<rect x="321.0" y="332.5" width="5.0" height="2.4" fill="#41bd72"/>
<rect x="325.8" y="332.5" width="5.0" height="2.4" fill="#4ac16d"/>
<rect x="235.9" y="334.5" width="5.0" height="2.4" fill="#462b79"/>
<rect x="240.6" y="334.5" width="5.0" height="2.4" fill="#3e4b88"/>
<rect x="245.4" y="334.5" width="5.0" height="2.4" fill="#472a78"/>
<rect x="250.1" y="334.5" width="5.0" height="2.4" fill="#424286"/>
<rect x="254.8" y="334.5" width="5.0" height="2.4" fill="#414487"/>
<rect x="259.6" y="334.5" width="5.0" height="2.4" fill="#21948b"/>
<rect x="264.3" y="334.5" width="5.0" height="2.4" fill="#22a784"/>
<rect x="269.0" y="334.5" width="5.0" height="2.4" fill="#2fb17c"/>
<rect x="273.7" y="334.5" width="5.0" height="2.4" fill="#238b8c"/>
<rect x="278.5" y="334.5" width="5.0" height="2.4" fill="#229e87"/>
<rect x="283.2" y="334.5" width="5.0" height="2.4" fill="#21968a"/>
<rect x="287.9" y="334.5" width="5.0" height="2.4" fill="#61c95f"/>
<rect x="292.7" y="334.5" width="5.0" height="2.4" fill="#22a585"/>
<rect x="297.4" y="334.5" width="5.0" height="2.4" fill="#21938b"/>
<rect x="302.1" y="334.5" width="5.0" height="2.4" fill="#26848d"/>
<rect x="306.9" y="334.5" width="5.0" height="2.4" fill="#219c88"/>
<rect x="311.6" y="334.5" width="5.0" height="2.4" fill="#3bb975"/>
<rect x="316.3" y="334.5" width="5.0" height="2.4" fill="#33b37a"/>
<rect x="321.0" y="334.5" width="5.0" height="2.4" fill="#2daf7e"/>
<rect x="325.8" y="334.5" width="5.0" height="2.4" fill="#22a685"/>
<rect x="235.9" y="336.6" width="5.0" height="2.4" fill="#3a548b"/>
<rect x="240.6" y="336.6" width="5.0" height="2.4" fill="#33638d"/>
<rect x="245.4" y="336.6" width="5.0" height="2.4" fill="#34608d"/>
<rect x="250.1" y="336.6" width="5.0" height="2.4" fill="#365d8d"/>
<rect x="254.8" y="336.6" width="5.0" height="2.4" fill="#38588b"/>
<rect x="259.6" y="336.6" width="5.0" height="2.4" fill="#21958b"/>
<rect x="264.3" y="336.6" width="5.0" height="2.4" fill="#287d8e"/>
<rect x="269.0" y="336.6" width="5.0" height="2.4" fill="#2b778e"/>
<rect x="273.7" y="336.6" width="5.0" height="2.4" fill="#21978a"/>
<rect x="278.5" y="336.6" width="5.0" height="2.4" fill="#25858d"/>
<rect x="283.2" y="336.6" width="5.0" height="2.4" fill="#2a798e"/>
<rect x="287.9" y="336.6" width="5.0" height="2.4" fill="#41bd72"/>
<rect x="292.7" y="336.6" width="5.0" height="2.4" fill="#248a8d"/>
<rect x="297.4" y="336.6" width="5.0" height="2.4" fill="#21978a"/>
<rect x="302.1" y="336.6" width="5.0" height="2.4" fill="#21918c"/>
<rect x="306.9" y="336.6" width="5.0" height="2.4" fill="#24898d"/>
<rect x="311.6" y="336.6" width="5.0" height="2.4" fill="#2fb17c"/>
<rect x="316.3" y="336.6" width="5.0" height="2.4" fill="#48c06e"/>
<rect x="321.0" y="336.6" width="5.0" height="2.4" fill="#2caf7e"/>
<rect x="325.8" y="336.6" width="5.0" height="2.4" fill="#3dba74"/>
<rect x="235.9" y="338.7" width="5.0" height="2.4" fill="#472877"/>
<rect x="240.6" y="338.7" width="5.0" height="2.4" fill="#472978"/>
<rect x="245.4" y="338.7" width="5.0" height="2.4" fill="#471c6d"/>
<rect x="250.1" y="338.7" width="5.0" height="2.4" fill="#482273"/>
<rect x="254.8" y="338.7" width="5.0" height="2.4" fill="#423e84"/>
<rect x="259.6" y="338.7" width="5.0" height="2.4" fill="#21948b"/>
<rect x="264.3" y="338.7" width="5.0" height="2.4" fill="#22a087"/>
<rect x="269.0" y="338.7" width="5.0" height="2.4" fill="#21928c"/>
<rect x="273.7" y="338.7" width="5.0" height="2.4" fill="#219b89"/>
<rect x="278.5" y="338.7" width="5.0" height="2.4" fill="#219a89"/>
<rect x="283.2" y="338.7" width="5.0" height="2.4" fill="#229e88"/>
<rect x="287.9" y="338.7" width="5.0" height="2.4" fill="#97d73e"/>
<rect x="292.7" y="338.7" width="5.0" height="2.4" fill="#26aa82"/>
<rect x="297.4" y="338.7" width="5.0" height="2.4" fill="#26ab81"/>
<rect x="302.1" y="338.7" width="5.0" height="2.4" fill="#24aa83"/>
<rect x="306.9" y="338.7" width="5.0" height="2.4" fill="#21948b"/>
<rect x="311.6" y="338.7" width="5.0" height="2.4" fill="#22a784"/>
<rect x="316.3" y="338.7" width="5.0" height="2.4" fill="#28ac80"/>
<rect x="321.0" y="338.7" width="5.0" height="2.4" fill="#46c06f"/>
<rect x="325.8" y="338.7" width="5.0" height="2.4" fill="#2db07d"/>
<rect x="235.9" y="340.8" width="5.0" height="2.4" fill="#471d6e"/>
<rect x="240.6" y="340.8" width="5.0" height="2.4" fill="#3f4988"/>
<rect x="245.4" y="340.8" width="5.0" height="2.4" fill="#433c82"/>
<rect x="250.1" y="340.8" width="5.0" height="2.4" fill="#443880"/>
<rect x="254.8" y="340.8" width="5.0" height="2.4" fill="#3e4b88"/>
<rect x="259.6" y="340.8" width="5.0" height="2.4" fill="#21948b"/>
<rect x="264.3" y="340.8" width="5.0" height="2.4" fill="#228f8c"/>
<rect x="269.0" y="340.8" width="5.0" height="2.4" fill="#27808d"/>
<rect x="273.7" y="340.8" width="5.0" height="2.4" fill="#21938b"/>
<rect x="278.5" y="340.8" width="5.0" height="2.4" fill="#26838d"/>
<rect x="283.2" y="340.8" width="5.0" height="2.4" fill="#21938b"/>
<rect x="287.9" y="340.8" width="5.0" height="2.4" fill="#6fcd57"/>
<rect x="292.7" y="340.8" width="5.0" height="2.4" fill="#2eb07d"/>
<rect x="297.4" y="340.8" width="5.0" height="2.4" fill="#22a685"/>
<rect x="302.1" y="340.8" width="5.0" height="2.4" fill="#219b89"/>
<rect x="306.9" y="340.8" width="5.0" height="2.4" fill="#228e8c"/>
<rect x="311.6" y="340.8" width="5.0" height="2.4" fill="#22a685"/>
<rect x="316.3" y="340.8" width="5.0" height="2.4" fill="#45bf70"/>
<rect x="321.0" y="340.8" width="5.0" height="2.4" fill="#30b17c"/>
<rect x="325.8" y="340.8" width="5.0" height="2.4" fill="#229f87"/>
<rect x="235.9" y="342.9" width="5.0" height="2.4" fill="#443780"/>
<rect x="240.6" y="342.9" width="5.0" height="2.4" fill="#3a548a"/>
<rect x="245.4" y="342.9" width="5.0" height="2.4" fill="#424085"/>
<rect x="250.1" y="342.9" width="5.0" height="2.4" fill="#39558b"/>
<rect x="254.8" y="342.9" width="5.0" height="2.4" fill="#3d4d89"/>
<rect x="259.6" y="342.9" width="5.0" height="2.4" fill="#219a89"/>
<rect x="264.3" y="342.9" width="5.0" height="2.4" fill="#219b89"/>
<rect x="269.0" y="342.9" width="5.0" height="2.4" fill="#219a89"/>
<rect x="273.7" y="342.9" width="5.0" height="2.4" fill="#21908c"/>
<rect x="278.5" y="342.9" width="5.0" height="2.4" fill="#228e8c"/>
<rect x="283.2" y="342.9" width="5.0" height="2.4" fill="#238b8c"/>
<rect x="287.9" y="342.9" width="5.0" height="2.4" fill="#79d152"/>
<rect x="292.7" y="342.9" width="5.0" height="2.4" fill="#22a485"/>
<rect x="297.4" y="342.9" width="5.0" height="2.4" fill="#23a984"/>
<rect x="302.1" y="342.9" width="5.0" height="2.4" fill="#219b88"/>
<rect x="306.9" y="342.9" width="5.0" height="2.4" fill="#22a685"/>
<rect x="311.6" y="342.9" width="5.0" height="2.4" fill="#25aa82"/>
<rect x="316.3" y="342.9" width="5.0" height="2.4" fill="#25aa82"/>
<rect x="321.0" y="342.9" width="5.0" height="2.4" fill="#39b876"/>
<rect x="325.8" y="342.9" width="5.0" height="2.4" fill="#3ebb74"/>
<rect x="235.9" y="345.0" width="5.0" height="2.4" fill="#462c7a"/>
<rect x="240.6" y="345.0" width="5.0" height="2.4" fill="#433c82"/>
<rect x="245.4" y="345.0" width="5.0" height="2.4" fill="#433b82"/>
<rect x="250.1" y="345.0" width="5.0" height="2.4" fill="#433a81"/>
<rect x="254.8" y="345.0" width="5.0" height="2.4" fill="#423e84"/>
<rect x="259.6" y="345.0" width="5.0" height="2.4" fill="#2aad80"/>
<rect x="264.3" y="345.0" width="5.0" height="2.4" fill="#287e8e"/>
<rect x="269.0" y="345.0" width="5.0" height="2.4" fill="#238c8c"/>
<rect x="273.7" y="345.0" width="5.0" height="2.4" fill="#21988a"/>
<rect x="278.5" y="345.0" width="5.0" height="2.4" fill="#22a087"/>
<rect x="283.2" y="345.0" width="5.0" height="2.4" fill="#25858d"/>
<rect x="287.9" y="345.0" width="5.0" height="2.4" fill="#48c06d"/>
<rect x="292.7" y="345.0" width="5.0" height="2.4" fill="#23a983"/>
<rect x="297.4" y="345.0" width="5.0" height="2.4" fill="#23a884"/>
<rect x="302.1" y="345.0" width="5.0" height="2.4" fill="#21978a"/>
<rect x="306.9" y="345.0" width="5.0" height="2.4" fill="#219a89"/>
<rect x="311.6" y="345.0" width="5.0" height="2.4" fill="#31b27b"/>
<rect x="316.3" y="345.0" width="5.0" height="2.4" fill="#46c06f"/>
<rect x="321.0" y="345.0" width="5.0" height="2.4" fill="#2fb17c"/>
<rect x="325.8" y="345.0" width="5.0" height="2.4" fill="#22a685"/>
<rect x="235.9" y="347.1" width="5.0" height="2.4" fill="#472978"/>
<rect x="240.6" y="347.1" width="5.0" height="2.4" fill="#433a81"/>
<rect x="245.4" y="347.1" width="5.0" height="2.4" fill="#472b79"/>
<rect x="250.1" y="347.1" width="5.0" height="2.4" fill="#471d6f"/>
<rect x="254.8" y="347.1" width="5.0" height="2.4" fill="#433d83"/>
<rect x="259.6" y="347.1" width="5.0" height="2.4" fill="#219b88"/>
<rect x="264.3" y="347.1" width="5.0" height="2.4" fill="#229e87"/>
<rect x="269.0" y="347.1" width="5.0" height="2.4" fill="#238b8c"/>
<rect x="273.7" y="347.1" width="5.0" height="2.4" fill="#228f8c"/>
<rect x="278.5" y="347.1" width="5.0" height="2.4" fill="#238b8c"/>
<rect x="283.2" y="347.1" width="5.0" height="2.4" fill="#219b88"/>
<rect x="287.9" y="347.1" width="5.0" height="2.4" fill="#4fc36a"/>
<rect x="292.7" y="347.1" width="5.0" height="2.4" fill="#248a8d"/>
<rect x="297.4" y="347.1" width="5.0" height="2.4" fill="#24888d"/>
<rect x="302.1" y="347.1" width="5.0" height="2.4" fill="#238c8c"/>
<rect x="306.9" y="347.1" width="5.0" height="2.4" fill="#219c88"/>
<rect x="311.6" y="347.1" width="5.0" height="2.4" fill="#3ab876"/>
<rect x="316.3" y="347.1" width="5.0" height="2.4" fill="#38b777"/>
<rect x="321.0" y="347.1" width="5.0" height="2.4" fill="#31b27b"/>
<rect x="325.8" y="347.1" width="5.0" height="2.4" fill="#3ab876"/>
<rect x="235.9" y="349.2" width="5.0" height="2.4" fill="#42bd71"/>
<rect x="240.6" y="349.2" width="5.0" height="2.4" fill="#c6e026"/>
<rect x="245.4" y="349.2" width="5.0" height="2.4" fill="#53c467"/>
<rect x="250.1" y="349.2" width="5.0" height="2.4" fill="#b6de2a"/>
<rect x="254.8" y="349.2" width="5.0" height="2.4" fill="#3ab876"/>
<rect x="259.6" y="349.2" width="5.0" height="2.4" fill="#22a784"/>
<rect x="264.3" y="349.2" width="5.0" height="2.4" fill="#3fbb73"/>
<rect x="269.0" y="349.2" width="5.0" height="2.4" fill="#27ac81"/>
<rect x="273.7" y="349.2" width="5.0" height="2.4" fill="#25aa82"/>
<rect x="278.5" y="349.2" width="5.0" height="2.4" fill="#31b27b"/>
<rect x="283.2" y="349.2" width="5.0" height="2.4" fill="#365c8c"/>
<rect x="287.9" y="349.2" width="5.0" height="2.4" fill="#39568b"/>
<rect x="292.7" y="349.2" width="5.0" height="2.4" fill="#3a548b"/>
<rect x="297.4" y="349.2" width="5.0" height="2.4" fill="#365c8c"/>
<rect x="302.1" y="349.2" width="5.0" height="2.4" fill="#38598c"/>
<rect x="306.9" y="349.2" width="5.0" height="2.4" fill="#35608d"/>
<rect x="311.6" y="349.2" width="5.0" height="2.4" fill="#2c748e"/>
<rect x="316.3" y="349.2" width="5.0" height="2.4" fill="#297b8e"/>
<rect x="321.0" y="349.2" width="5.0" height="2.4" fill="#287e8e"/>
<rect x="325.8" y="349.2" width="5.0" height="2.4" fill="#25868d"/>
<rect x="235.9" y="351.3" width="5.0" height="2.4" fill="#4cc26c"/>
<rect x="240.6" y="351.3" width="5.0" height="2.4" fill="#b1dd2e"/>
<rect x="245.4" y="351.3" width="5.0" height="2.4" fill="#93d641"/>
<rect x="250.1" y="351.3" width="5.0" height="2.4" fill="#9ad83d"/>
<rect x="254.8" y="351.3" width="5.0" height="2.4" fill="#6acc5a"/>
<rect x="259.6" y="351.3" width="5.0" height="2.4" fill="#35b579"/>
<rect x="264.3" y="351.3" width="5.0" height="2.4" fill="#22a685"/>
<rect x="269.0" y="351.3" width="5.0" height="2.4" fill="#55c566"/>
<rect x="273.7" y="351.3" width="5.0" height="2.4" fill="#22a585"/>
<rect x="278.5" y="351.3" width="5.0" height="2.4" fill="#2db07d"/>
<rect x="283.2" y="351.3" width="5.0" height="2.4" fill="#39568b"/>
<rect x="287.9" y="351.3" width="5.0" height="2.4" fill="#2d718e"/>
<rect x="292.7" y="351.3" width="5.0" height="2.4" fill="#375a8c"/>
<rect x="297.4" y="351.3" width="5.0" height="2.4" fill="#414587"/>
<rect x="302.1" y="351.3" width="5.0" height="2.4" fill="#34628d"/>
<rect x="306.9" y="351.3" width="5.0" height="2.4" fill="#355f8d"/>
<rect x="311.6" y="351.3" width="5.0" height="2.4" fill="#32678d"/>
<rect x="316.3" y="351.3" width="5.0" height="2.4" fill="#2e708e"/>
<rect x="321.0" y="351.3" width="5.0" height="2.4" fill="#2d728e"/>
<rect x="325.8" y="351.3" width="5.0" height="2.4" fill="#31678d"/>
<rect x="235.9" y="353.3" width="5.0" height="2.4" fill="#39b876"/>
<rect x="240.6" y="353.3" width="5.0" height="2.4" fill="#8ed544"/>
<rect x="245.4" y="353.3" width="5.0" height="2.4" fill="#46c06f"/>
<rect x="250.1" y="353.3" width="5.0" height="2.4" fill="#99d73d"/>
<rect x="254.8" y="353.3" width="5.0" height="2.4" fill="#55c566"/>
<rect x="259.6" y="353.3" width="5.0" height="2.4" fill="#31b27b"/>
<rect x="264.3" y="353.3" width="5.0" height="2.4" fill="#4ec26a"/>
<rect x="269.0" y="353.3" width="5.0" height="2.4" fill="#22a785"/>
<rect x="273.7" y="353.3" width="5.0" height="2.4" fill="#28ac80"/>
<rect x="278.5" y="353.3" width="5.0" height="2.4" fill="#2bae7f"/>
<rect x="283.2" y="353.3" width="5.0" height="2.4" fill="#33638d"/>
<rect x="287.9" y="353.3" width="5.0" height="2.4" fill="#39568b"/>
<rect x="292.7" y="353.3" width="5.0" height="2.4" fill="#39578b"/>
<rect x="297.4" y="353.3" width="5.0" height="2.4" fill="#44377f"/>
<rect x="302.1" y="353.3" width="5.0" height="2.4" fill="#3b518a"/>
<rect x="306.9" y="353.3" width="5.0" height="2.4" fill="#365c8c"/>
<rect x="311.6" y="353.3" width="5.0" height="2.4" fill="#21928c"/>
<rect x="316.3" y="353.3" width="5.0" height="2.4" fill="#26828d"/>
<rect x="321.0" y="353.3" width="5.0" height="2.4" fill="#2f6c8e"/>
<rect x="325.8" y="353.3" width="5.0" height="2.4" fill="#24888d"/>
<rect x="235.9" y="355.4" width="5.0" height="2.4" fill="#38b777"/>
<rect x="240.6" y="355.4" width="5.0" height="2.4" fill="#68cb5b"/>
<rect x="245.4" y="355.4" width="5.0" height="2.4" fill="#48c06e"/>
<rect x="250.1" y="355.4" width="5.0" height="2.4" fill="#85d34a"/>
<rect x="254.8" y="355.4" width="5.0" height="2.4" fill="#91d642"/>
<rect x="259.6" y="355.4" width="5.0" height="2.4" fill="#78d052"/>
<rect x="264.3" y="355.4" width="5.0" height="2.4" fill="#70ce57"/>
<rect x="269.0" y="355.4" width="5.0" height="2.4" fill="#46c06f"/>
<rect x="273.7" y="355.4" width="5.0" height="2.4" fill="#44bf70"/>
<rect x="278.5" y="355.4" width="5.0" height="2.4" fill="#55c566"/>
<rect x="283.2" y="355.4" width="5.0" height="2.4" fill="#3b528a"/>
<rect x="287.9" y="355.4" width="5.0" height="2.4" fill="#3c508a"/>
<rect x="292.7" y="355.4" width="5.0" height="2.4" fill="#3a538a"/>
<rect x="297.4" y="355.4" width="5.0" height="2.4" fill="#3e4a88"/>
<rect x="302.1" y="355.4" width="5.0" height="2.4" fill="#423e84"/>
<rect x="306.9" y="355.4" width="5.0" height="2.4" fill="#38588c"/>
<rect x="311.6" y="355.4" width="5.0" height="2.4" fill="#297a8e"/>
<rect x="316.3" y="355.4" width="5.0" height="2.4" fill="#297a8e"/>
<rect x="321.0" y="355.4" width="5.0" height="2.4" fill="#2a798e"/>
<rect x="325.8" y="355.4" width="5.0" height="2.4" fill="#238b8c"/>
<rect x="235.9" y="357.5" width="5.0" height="2.4" fill="#3ab976"/>
<rect x="240.6" y="357.5" width="5.0" height="2.4" fill="#7fd24e"/>
<rect x="245.4" y="357.5" width="5.0" height="2.4" fill="#45bf70"/>
<rect x="250.1" y="357.5" width="5.0" height="2.4" fill="#7dd24f"/>
<rect x="254.8" y="357.5" width="5.0" height="2.4" fill="#40bc72"/>
<rect x="259.6" y="357.5" width="5.0" height="2.4" fill="#51c369"/>
<rect x="264.3" y="357.5" width="5.0" height="2.4" fill="#44bf70"/>
<rect x="269.0" y="357.5" width="5.0" height="2.4" fill="#55c567"/>
<rect x="273.7" y="357.5" width="5.0" height="2.4" fill="#4dc26b"/>
<rect x="278.5" y="357.5" width="5.0" height="2.4" fill="#3fbc73"/>
<rect x="283.2" y="357.5" width="5.0" height="2.4" fill="#38598c"/>
<rect x="287.9" y="357.5" width="5.0" height="2.4" fill="#355e8d"/>
<rect x="292.7" y="357.5" width="5.0" height="2.4" fill="#3d4e89"/>
<rect x="297.4" y="357.5" width="5.0" height="2.4" fill="#3f4988"/>
<rect x="302.1" y="357.5" width="5.0" height="2.4" fill="#38578b"/>
<rect x="306.9" y="357.5" width="5.0" height="2.4" fill="#375b8c"/>
<rect x="311.6" y="357.5" width="5.0" height="2.4" fill="#26828d"/>
<rect x="316.3" y="357.5" width="5.0" height="2.4" fill="#26838d"/>
<rect x="321.0" y="357.5" width="5.0" height="2.4" fill="#2c738e"/>
<rect x="325.8" y="357.5" width="5.0" height="2.4" fill="#238b8d"/>
<rect x="235.9" y="359.6" width="5.0" height="2.4" fill="#44bf70"/>
<rect x="240.6" y="359.6" width="5.0" height="2.4" fill="#dfe325"/>
<rect x="245.4" y="359.6" width="5.0" height="2.4" fill="#8dd545"/>
<rect x="250.1" y="359.6" width="5.0" height="2.4" fill="#97d73e"/>
<rect x="254.8" y="359.6" width="5.0" height="2.4" fill="#72ce56"/>
<rect x="259.6" y="359.6" width="5.0" height="2.4" fill="#22a485"/>
<rect x="264.3" y="359.6" width="5.0" height="2.4" fill="#22a585"/>
<rect x="269.0" y="359.6" width="5.0" height="2.4" fill="#32b37b"/>
<rect x="273.7" y="359.6" width="5.0" height="2.4" fill="#29ad80"/>
<rect x="278.5" y="359.6" width="5.0" height="2.4" fill="#21958b"/>
<rect x="283.2" y="359.6" width="5.0" height="2.4" fill="#2f6d8e"/>
<rect x="287.9" y="359.6" width="5.0" height="2.4" fill="#2b768e"/>
<rect x="292.7" y="359.6" width="5.0" height="2.4" fill="#2d718e"/>
<rect x="297.4" y="359.6" width="5.0" height="2.4" fill="#2e708e"/>
<rect x="302.1" y="359.6" width="5.0" height="2.4" fill="#404687"/>
<rect x="306.9" y="359.6" width="5.0" height="2.4" fill="#2c738e"/>
<rect x="311.6" y="359.6" width="5.0" height="2.4" fill="#2e6e8e"/>
<rect x="316.3" y="359.6" width="5.0" height="2.4" fill="#2b768e"/>
<rect x="321.0" y="359.6" width="5.0" height="2.4" fill="#355e8d"/>
<rect x="325.8" y="359.6" width="5.0" height="2.4" fill="#355f8d"/>
<rect x="235.9" y="361.7" width="5.0" height="2.4" fill="#48c06e"/>
<rect x="240.6" y="361.7" width="5.0" height="2.4" fill="#3cb975"/>
<rect x="245.4" y="361.7" width="5.0" height="2.4" fill="#58c665"/>
<rect x="250.1" y="361.7" width="5.0" height="2.4" fill="#61c95f"/>
<rect x="254.8" y="361.7" width="5.0" height="2.4" fill="#41bd72"/>
<rect x="259.6" y="361.7" width="5.0" height="2.4" fill="#49c16d"/>
<rect x="264.3" y="361.7" width="5.0" height="2.4" fill="#5fc860"/>
<rect x="269.0" y="361.7" width="5.0" height="2.4" fill="#3dbb74"/>
<rect x="273.7" y="361.7" width="5.0" height="2.4" fill="#39b876"/>
<rect x="278.5" y="361.7" width="5.0" height="2.4" fill="#56c566"/>
<rect x="283.2" y="361.7" width="5.0" height="2.4" fill="#414487"/>
<rect x="287.9" y="361.7" width="5.0" height="2.4" fill="#3d4e89"/>
<rect x="292.7" y="361.7" width="5.0" height="2.4" fill="#3f4988"/>
<rect x="297.4" y="361.7" width="5.0" height="2.4" fill="#472a78"/>
<rect x="302.1" y="361.7" width="5.0" height="2.4" fill="#433b82"/>
<rect x="306.9" y="361.7" width="5.0" height="2.4" fill="#31688d"/>
<rect x="311.6" y="361.7" width="5.0" height="2.4" fill="#2a798e"/>
<rect x="316.3" y="361.7" width="5.0" height="2.4" fill="#297c8e"/>
<rect x="321.0" y="361.7" width="5.0" height="2.4" fill="#2b768e"/>
<rect x="325.8" y="361.7" width="5.0" height="2.4" fill="#26838d"/>
<rect x="235.9" y="363.8" width="5.0" height="2.4" fill="#5bc763"/>
<rect x="240.6" y="363.8" width="5.0" height="2.4" fill="#7dd24f"/>
<rect x="245.4" y="363.8" width="5.0" height="2.4" fill="#87d449"/>
<rect x="250.1" y="363.8" width="5.0" height="2.4" fill="#88d448"/>
<rect x="254.8" y="363.8" width="5.0" height="2.4" fill="#63c95e"/>
<rect x="259.6" y="363.8" width="5.0" height="2.4" fill="#29ad80"/>
<rect x="264.3" y="363.8" width="5.0" height="2.4" fill="#3bb975"/>
<rect x="269.0" y="363.8" width="5.0" height="2.4" fill="#2aae7f"/>
<rect x="273.7" y="363.8" width="5.0" height="2.4" fill="#22a187"/>
<rect x="278.5" y="363.8" width="5.0" height="2.4" fill="#33b37a"/>
<rect x="283.2" y="363.8" width="5.0" height="2.4" fill="#3b518a"/>
<rect x="287.9" y="363.8" width="5.0" height="2.4" fill="#2d718e"/>
<rect x="292.7" y="363.8" width="5.0" height="2.4" fill="#31698d"/>
<rect x="297.4" y="363.8" width="5.0" height="2.4" fill="#3e4b88"/>
<rect x="302.1" y="363.8" width="5.0" height="2.4" fill="#3a538a"/>
<rect x="306.9" y="363.8" width="5.0" height="2.4" fill="#424085"/>
<rect x="311.6" y="363.8" width="5.0" height="2.4" fill="#21908c"/>
<rect x="316.3" y="363.8" width="5.0" height="2.4" fill="#2a778e"/>
<rect x="321.0" y="363.8" width="5.0" height="2.4" fill="#25868d"/>
<rect x="325.8" y="363.8" width="5.0" height="2.4" fill="#219b89"/>
<rect x="235.9" y="365.9" width="5.0" height="2.4" fill="#22a286"/>
<rect x="240.6" y="365.9" width="5.0" height="2.4" fill="#7cd150"/>
<rect x="245.4" y="365.9" width="5.0" height="2.4" fill="#2caf7e"/>
<rect x="250.1" y="365.9" width="5.0" height="2.4" fill="#65ca5d"/>
<rect x="254.8" y="365.9" width="5.0" height="2.4" fill="#22a785"/>
<rect x="259.6" y="365.9" width="5.0" height="2.4" fill="#26ab81"/>
<rect x="264.3" y="365.9" width="5.0" height="2.4" fill="#22a186"/>
<rect x="269.0" y="365.9" width="5.0" height="2.4" fill="#38b777"/>
<rect x="273.7" y="365.9" width="5.0" height="2.4" fill="#47c06e"/>
<rect x="278.5" y="365.9" width="5.0" height="2.4" fill="#36b578"/>
<rect x="283.2" y="365.9" width="5.0" height="2.4" fill="#355f8d"/>
<rect x="287.9" y="365.9" width="5.0" height="2.4" fill="#33658d"/>
<rect x="292.7" y="365.9" width="5.0" height="2.4" fill="#31678d"/>
<rect x="297.4" y="365.9" width="5.0" height="2.4" fill="#3f4988"/>
<rect x="302.1" y="365.9" width="5.0" height="2.4" fill="#3a538a"/>
<rect x="306.9" y="365.9" width="5.0" height="2.4" fill="#2a788e"/>
<rect x="311.6" y="365.9" width="5.0" height="2.4" fill="#21908c"/>
<rect x="316.3" y="365.9" width="5.0" height="2.4" fill="#2e708e"/>
<rect x="321.0" y="365.9" width="5.0" height="2.4" fill="#31688d"/>
<rect x="325.8" y="365.9" width="5.0" height="2.4" fill="#238c8c"/>
<rect x="235.9" y="368.0" width="5.0" height="2.4" fill="#6acc5a"/>
<rect x="240.6" y="368.0" width="5.0" height="2.4" fill="#b9de29"/>
<rect x="245.4" y="368.0" width="5.0" height="2.4" fill="#4ac16d"/>
<rect x="250.1" y="368.0" width="5.0" height="2.4" fill="#b4dd2c"/>
<rect x="254.8" y="368.0" width="5.0" height="2.4" fill="#5cc762"/>
<rect x="259.6" y="368.0" width="5.0" height="2.4" fill="#46c06f"/>
<rect x="264.3" y="368.0" width="5.0" height="2.4" fill="#57c565"/>
<rect x="269.0" y="368.0" width="5.0" height="2.4" fill="#46c06f"/>
<rect x="273.7" y="368.0" width="5.0" height="2.4" fill="#8ad446"/>
<rect x="278.5" y="368.0" width="5.0" height="2.4" fill="#5cc762"/>
<rect x="283.2" y="368.0" width="5.0" height="2.4" fill="#31678d"/>
<rect x="287.9" y="368.0" width="5.0" height="2.4" fill="#34628d"/>
<rect x="292.7" y="368.0" width="5.0" height="2.4" fill="#32678d"/>
<rect x="297.4" y="368.0" width="5.0" height="2.4" fill="#3d4c89"/>
<rect x="302.1" y="368.0" width="5.0" height="2.4" fill="#39568b"/>
<rect x="306.9" y="368.0" width="5.0" height="2.4" fill="#2e6e8e"/>
<rect x="311.6" y="368.0" width="5.0" height="2.4" fill="#297b8e"/>
<rect x="316.3" y="368.0" width="5.0" height="2.4" fill="#33638d"/>
<rect x="321.0" y="368.0" width="5.0" height="2.4" fill="#2f6e8e"/>
<rect x="325.8" y="368.0" width="5.0" height="2.4" fill="#2d728e"/>
<rect x="235.9" y="370.0" width="5.0" height="2.4" fill="#23a983"/>
<rect x="240.6" y="370.0" width="5.0" height="2.4" fill="#89d448"/>
<rect x="245.4" y="370.0" width="5.0" height="2.4" fill="#4ec26a"/>
<rect x="250.1" y="370.0" width="5.0" height="2.4" fill="#52c468"/>
<rect x="254.8" y="370.0" width="5.0" height="2.4" fill="#42bd71"/>
<rect x="259.6" y="370.0" width="5.0" height="2.4" fill="#4fc36a"/>
<rect x="264.3" y="370.0" width="5.0" height="2.4" fill="#33b47a"/>
<rect x="269.0" y="370.0" width="5.0" height="2.4" fill="#3ab876"/>
<rect x="273.7" y="370.0" width="5.0" height="2.4" fill="#4ec26b"/>
<rect x="278.5" y="370.0" width="5.0" height="2.4" fill="#22a186"/>
<rect x="283.2" y="370.0" width="5.0" height="2.4" fill="#3d4e89"/>
<rect x="287.9" y="370.0" width="5.0" height="2.4" fill="#34628d"/>
<rect x="292.7" y="370.0" width="5.0" height="2.4" fill="#32658d"/>
<rect x="297.4" y="370.0" width="5.0" height="2.4" fill="#433c82"/>
<rect x="302.1" y="370.0" width="5.0" height="2.4" fill="#3a538a"/>
<rect x="306.9" y="370.0" width="5.0" height="2.4" fill="#2a778e"/>
<rect x="311.6" y="370.0" width="5.0" height="2.4" fill="#2b768e"/>
<rect x="316.3" y="370.0" width="5.0" height="2.4" fill="#2c738e"/>
<rect x="321.0" y="370.0" width="5.0" height="2.4" fill="#2c748e"/>
<rect x="325.8" y="370.0" width="5.0" height="2.4" fill="#31688d"/>
<rect x="235.9" y="372.1" width="5.0" height="2.4" fill="#4ac16d"/>
<rect x="240.6" y="372.1" width="5.0" height="2.4" fill="#93d641"/>
<rect x="245.4" y="372.1" width="5.0" height="2.4" fill="#89d448"/>
<rect x="250.1" y="372.1" width="5.0" height="2.4" fill="#63c95e"/>
<rect x="254.8" y="372.1" width="5.0" height="2.4" fill="#5bc763"/>
<rect x="259.6" y="372.1" width="5.0" height="2.4" fill="#33b37a"/>
<rect x="264.3" y="372.1" width="5.0" height="2.4" fill="#3fbb73"/>
<rect x="269.0" y="372.1" width="5.0" height="2.4" fill="#4dc26b"/>
<rect x="273.7" y="372.1" width="5.0" height="2.4" fill="#3ebb74"/>
<rect x="278.5" y="372.1" width="5.0" height="2.4" fill="#4ac16c"/>
<rect x="283.2" y="372.1" width="5.0" height="2.4" fill="#31678d"/>
<rect x="287.9" y="372.1" width="5.0" height="2.4" fill="#365d8d"/>
<rect x="292.7" y="372.1" width="5.0" height="2.4" fill="#365e8d"/>
<rect x="297.4" y="372.1" width="5.0" height="2.4" fill="#423e84"/>
<rect x="302.1" y="372.1" width="5.0" height="2.4" fill="#3a538a"/>
<rect x="306.9" y="372.1" width="5.0" height="2.4" fill="#34618d"/>
<rect x="311.6" y="372.1" width="5.0" height="2.4" fill="#24888d"/>
<rect x="316.3" y="372.1" width="5.0" height="2.4" fill="#248a8d"/>
<rect x="321.0" y="372.1" width="5.0" height="2.4" fill="#2b758e"/>
<rect x="325.8" y="372.1" width="5.0" height="2.4" fill="#2c728e"/>
<rect x="235.9" y="374.2" width="5.0" height="2.4" fill="#72ce55"/>
<rect x="240.6" y="374.2" width="5.0" height="2.4" fill="#75cf54"/>
<rect x="245.4" y="374.2" width="5.0" height="2.4" fill="#67cb5c"/>
<rect x="250.1" y="374.2" width="5.0" height="2.4" fill="#7fd24e"/>
<rect x="254.8" y="374.2" width="5.0" height="2.4" fill="#27ab81"/>
<rect x="259.6" y="374.2" width="5.0" height="2.4" fill="#2bae7e"/>
<rect x="264.3" y="374.2" width="5.0" height="2.4" fill="#2caf7e"/>
<rect x="269.0" y="374.2" width="5.0" height="2.4" fill="#37b678"/>
<rect x="273.7" y="374.2" width="5.0" height="2.4" fill="#2caf7e"/>
<rect x="278.5" y="374.2" width="5.0" height="2.4" fill="#23a983"/>
<rect x="283.2" y="374.2" width="5.0" height="2.4" fill="#375b8c"/>
<rect x="287.9" y="374.2" width="5.0" height="2.4" fill="#365d8d"/>
<rect x="292.7" y="374.2" width="5.0" height="2.4" fill="#30698d"/>
<rect x="297.4" y="374.2" width="5.0" height="2.4" fill="#365e8d"/>
<rect x="302.1" y="374.2" width="5.0" height="2.4" fill="#2e6f8e"/>
<rect x="306.9" y="374.2" width="5.0" height="2.4" fill="#306b8d"/>
<rect x="311.6" y="374.2" width="5.0" height="2.4" fill="#26848d"/>
<rect x="316.3" y="374.2" width="5.0" height="2.4" fill="#21978a"/>
<rect x="321.0" y="374.2" width="5.0" height="2.4" fill="#2c738e"/>
<rect x="325.8" y="374.2" width="5.0" height="2.4" fill="#238c8c"/>
<rect x="235.9" y="376.3" width="5.0" height="2.4" fill="#44bf70"/>
<rect x="240.6" y="376.3" width="5.0" height="2.4" fill="#53c468"/>
<rect x="245.4" y="376.3" width="5.0" height="2.4" fill="#31b27b"/>
<rect x="250.1" y="376.3" width="5.0" height="2.4" fill="#7ed24f"/>
<rect x="254.8" y="376.3" width="5.0" height="2.4" fill="#49c16d"/>
<rect x="259.6" y="376.3" width="5.0" height="2.4" fill="#23a983"/>
<rect x="264.3" y="376.3" width="5.0" height="2.4" fill="#3bb975"/>
<rect x="269.0" y="376.3" width="5.0" height="2.4" fill="#45bf6f"/>
<rect x="273.7" y="376.3" width="5.0" height="2.4" fill="#36b678"/>
<rect x="278.5" y="376.3" width="5.0" height="2.4" fill="#33b37a"/>
<rect x="283.2" y="376.3" width="5.0" height="2.4" fill="#306a8d"/>
<rect x="287.9" y="376.3" width="5.0" height="2.4" fill="#306b8d"/>
<rect x="292.7" y="376.3" width="5.0" height="2.4" fill="#34618d"/>
<rect x="297.4" y="376.3" width="5.0" height="2.4" fill="#2d728e"/>
<rect x="302.1" y="376.3" width="5.0" height="2.4" fill="#39568b"/>
<rect x="306.9" y="376.3" width="5.0" height="2.4" fill="#31688d"/>
<rect x="311.6" y="376.3" width="5.0" height="2.4" fill="#229e87"/>
<rect x="316.3" y="376.3" width="5.0" height="2.4" fill="#297b8e"/>
<rect x="321.0" y="376.3" width="5.0" height="2.4" fill="#25878d"/>
<rect x="325.8" y="376.3" width="5.0" height="2.4" fill="#2f6e8e"/>
<rect x="235.9" y="378.4" width="5.0" height="2.4" fill="#24a983"/>
<rect x="240.6" y="378.4" width="5.0" height="2.4" fill="#68cb5b"/>
<rect x="245.4" y="378.4" width="5.0" height="2.4" fill="#43be70"/>
<rect x="250.1" y="378.4" width="5.0" height="2.4" fill="#78d052"/>
<rect x="254.8" y="378.4" width="5.0" height="2.4" fill="#53c467"/>
<rect x="259.6" y="378.4" width="5.0" height="2.4" fill="#229d88"/>
<rect x="264.3" y="378.4" width="5.0" height="2.4" fill="#51c369"/>
<rect x="269.0" y="378.4" width="5.0" height="2.4" fill="#26aa82"/>
<rect x="273.7" y="378.4" width="5.0" height="2.4" fill="#22a685"/>
<rect x="278.5" y="378.4" width="5.0" height="2.4" fill="#229d88"/>
<rect x="283.2" y="378.4" width="5.0" height="2.4" fill="#375a8c"/>
<rect x="287.9" y="378.4" width="5.0" height="2.4" fill="#3e4a88"/>
<rect x="292.7" y="378.4" width="5.0" height="2.4" fill="#34628d"/>
<rect x="297.4" y="378.4" width="5.0" height="2.4" fill="#38588c"/>
<rect x="302.1" y="378.4" width="5.0" height="2.4" fill="#33638d"/>
<rect x="306.9" y="378.4" width="5.0" height="2.4" fill="#39568b"/>
<rect x="311.6" y="378.4" width="5.0" height="2.4" fill="#26848d"/>
<rect x="316.3" y="378.4" width="5.0" height="2.4" fill="#219b88"/>
<rect x="321.0" y="378.4" width="5.0" height="2.4" fill="#21908c"/>
<rect x="325.8" y="378.4" width="5.0" height="2.4" fill="#25858d"/>
<rect x="235.9" y="380.5" width="5.0" height="2.4" fill="#27ab81"/>
<rect x="240.6" y="380.5" width="5.0" height="2.4" fill="#89d447"/>
<rect x="245.4" y="380.5" width="5.0" height="2.4" fill="#48c06e"/>
<rect x="250.1" y="380.5" width="5.0" height="2.4" fill="#a2d937"/>
<rect x="254.8" y="380.5" width="5.0" height="2.4" fill="#65ca5d"/>
<rect x="259.6" y="380.5" width="5.0" height="2.4" fill="#21928c"/>
<rect x="264.3" y="380.5" width="5.0" height="2.4" fill="#25858d"/>
<rect x="269.0" y="380.5" width="5.0" height="2.4" fill="#21928c"/>
<rect x="273.7" y="380.5" width="5.0" height="2.4" fill="#219b89"/>
<rect x="278.5" y="380.5" width="5.0" height="2.4" fill="#228d8c"/>
<rect x="283.2" y="380.5" width="5.0" height="2.4" fill="#472978"/>
<rect x="287.9" y="380.5" width="5.0" height="2.4" fill="#3d4c89"/>
<rect x="292.7" y="380.5" width="5.0" height="2.4" fill="#3d4c89"/>
<rect x="297.4" y="380.5" width="5.0" height="2.4" fill="#3c508a"/>
<rect x="302.1" y="380.5" width="5.0" height="2.4" fill="#3d4c89"/>
<rect x="306.9" y="380.5" width="5.0" height="2.4" fill="#355e8d"/>
<rect x="311.6" y="380.5" width="5.0" height="2.4" fill="#2f6e8e"/>
<rect x="316.3" y="380.5" width="5.0" height="2.4" fill="#27818d"/>
<rect x="321.0" y="380.5" width="5.0" height="2.4" fill="#32658d"/>
<rect x="325.8" y="380.5" width="5.0" height="2.4" fill="#33638d"/>
<rect x="235.9" y="382.6" width="5.0" height="2.4" fill="#38b777"/>
<rect x="240.6" y="382.6" width="5.0" height="2.4" fill="#66ca5c"/>
<rect x="245.4" y="382.6" width="5.0" height="2.4" fill="#40bc72"/>
<rect x="250.1" y="382.6" width="5.0" height="2.4" fill="#53c467"/>
<rect x="254.8" y="382.6" width="5.0" height="2.4" fill="#2eb07d"/>
<rect x="259.6" y="382.6" width="5.0" height="2.4" fill="#32668d"/>
<rect x="264.3" y="382.6" width="5.0" height="2.4" fill="#2d718e"/>
<rect x="269.0" y="382.6" width="5.0" height="2.4" fill="#31698d"/>
<rect x="273.7" y="382.6" width="5.0" height="2.4" fill="#2d728e"/>
<rect x="278.5" y="382.6" width="5.0" height="2.4" fill="#287e8e"/>
<rect x="283.2" y="382.6" width="5.0" height="2.4" fill="#355e8d"/>
<rect x="287.9" y="382.6" width="5.0" height="2.4" fill="#32678d"/>
<rect x="292.7" y="382.6" width="5.0" height="2.4" fill="#3d4c89"/>
<rect x="297.4" y="382.6" width="5.0" height="2.4" fill="#433b82"/>
<rect x="302.1" y="382.6" width="5.0" height="2.4" fill="#3e4a88"/>
<rect x="306.9" y="382.6" width="5.0" height="2.4" fill="#2e6e8e"/>
<rect x="311.6" y="382.6" width="5.0" height="2.4" fill="#24898d"/>
<rect x="316.3" y="382.6" width="5.0" height="2.4" fill="#287c8e"/>
<rect x="321.0" y="382.6" width="5.0" height="2.4" fill="#21908c"/>
<rect x="325.8" y="382.6" width="5.0" height="2.4" fill="#287d8e"/>
<rect x="235.9" y="384.7" width="5.0" height="2.4" fill="#59c664"/>
<rect x="240.6" y="384.7" width="5.0" height="2.4" fill="#e0e325"/>
<rect x="245.4" y="384.7" width="5.0" height="2.4" fill="#7fd24e"/>
<rect x="250.1" y="384.7" width="5.0" height="2.4" fill="#86d34a"/>
<rect x="254.8" y="384.7" width="5.0" height="2.4" fill="#6dcd58"/>
<rect x="259.6" y="384.7" width="5.0" height="2.4" fill="#2a798e"/>
<rect x="264.3" y="384.7" width="5.0" height="2.4" fill="#2d708e"/>
<rect x="269.0" y="384.7" width="5.0" height="2.4" fill="#287e8e"/>
<rect x="273.7" y="384.7" width="5.0" height="2.4" fill="#25878d"/>
<rect x="278.5" y="384.7" width="5.0" height="2.4" fill="#297a8e"/>
<rect x="283.2" y="384.7" width="5.0" height="2.4" fill="#32668d"/>
<rect x="287.9" y="384.7" width="5.0" height="2.4" fill="#355f8d"/>
<rect x="292.7" y="384.7" width="5.0" height="2.4" fill="#365d8d"/>
<rect x="297.4" y="384.7" width="5.0" height="2.4" fill="#3b528a"/>
<rect x="302.1" y="384.7" width="5.0" height="2.4" fill="#32678d"/>
<rect x="306.9" y="384.7" width="5.0" height="2.4" fill="#306b8d"/>
<rect x="311.6" y="384.7" width="5.0" height="2.4" fill="#24888d"/>
<rect x="316.3" y="384.7" width="5.0" height="2.4" fill="#26838d"/>
<rect x="321.0" y="384.7" width="5.0" height="2.4" fill="#21928c"/>
<rect x="325.8" y="384.7" width="5.0" height="2.4" fill="#228e8c"/>
<rect x="235.9" y="386.8" width="5.0" height="2.4" fill="#54c467"/>
<rect x="240.6" y="386.8" width="5.0" height="2.4" fill="#74cf55"/>
<rect x="245.4" y="386.8" width="5.0" height="2.4" fill="#43bf70"/>
<rect x="250.1" y="386.8" width="5.0" height="2.4" fill="#66ca5d"/>
<rect x="254.8" y="386.8" width="5.0" height="2.4" fill="#76d053"/>
<rect x="259.6" y="386.8" width="5.0" height="2.4" fill="#287d8e"/>
<rect x="264.3" y="386.8" width="5.0" height="2.4" fill="#365c8c"/>
<rect x="269.0" y="386.8" width="5.0" height="2.4" fill="#2a788e"/>
<rect x="273.7" y="386.8" width="5.0" height="2.4" fill="#297b8e"/>
<rect x="278.5" y="386.8" width="5.0" height="2.4" fill="#27818d"/>
<rect x="283.2" y="386.8" width="5.0" height="2.4" fill="#355e8d"/>
<rect x="287.9" y="386.8" width="5.0" height="2.4" fill="#375a8c"/>
<rect x="292.7" y="386.8" width="5.0" height="2.4" fill="#32668d"/>
<rect x="297.4" y="386.8" width="5.0" height="2.4" fill="#306a8d"/>
<rect x="302.1" y="386.8" width="5.0" height="2.4" fill="#375b8c"/>
<rect x="306.9" y="386.8" width="5.0" height="2.4" fill="#2e708e"/>
<rect x="311.6" y="386.8" width="5.0" height="2.4" fill="#297a8e"/>
<rect x="316.3" y="386.8" width="5.0" height="2.4" fill="#2d728e"/>
<rect x="321.0" y="386.8" width="5.0" height="2.4" fill="#287e8e"/>
<rect x="325.8" y="386.8" width="5.0" height="2.4" fill="#2f6c8e"/>
<rect x="235.9" y="388.8" width="5.0" height="2.4" fill="#3fbc73"/>
<rect x="240.6" y="388.8" width="5.0" height="2.4" fill="#7ad151"/>
<rect x="245.4" y="388.8" width="5.0" height="2.4" fill="#43bf70"/>
<rect x="250.1" y="388.8" width="5.0" height="2.4" fill="#87d448"/>
<rect x="254.8" y="388.8" width="5.0" height="2.4" fill="#51c369"/>
<rect x="259.6" y="388.8" width="5.0" height="2.4" fill="#2e6e8e"/>
<rect x="264.3" y="388.8" width="5.0" height="2.4" fill="#31678d"/>
<rect x="269.0" y="388.8" width="5.0" height="2.4" fill="#297b8e"/>
<rect x="273.7" y="388.8" width="5.0" height="2.4" fill="#297b8e"/>
<rect x="278.5" y="388.8" width="5.0" height="2.4" fill="#34628d"/>
<rect x="283.2" y="388.8" width="5.0" height="2.4" fill="#3b528a"/>
<rect x="287.9" y="388.8" width="5.0" height="2.4" fill="#3d4d89"/>
<rect x="292.7" y="388.8" width="5.0" height="2.4" fill="#32658d"/>
<rect x="297.4" y="388.8" width="5.0" height="2.4" fill="#3a548b"/>
<rect x="302.1" y="388.8" width="5.0" height="2.4" fill="#3d4c89"/>
<rect x="306.9" y="388.8" width="5.0" height="2.4" fill="#2f6d8e"/>
<rect x="311.6" y="388.8" width="5.0" height="2.4" fill="#228e8c"/>
<rect x="316.3" y="388.8" width="5.0" height="2.4" fill="#238b8c"/>
<rect x="321.0" y="388.8" width="5.0" height="2.4" fill="#238b8c"/>
<rect x="325.8" y="388.8" width="5.0" height="2.4" fill="#25878d"/>
<rect x="235.9" y="390.9" width="5.0" height="2.4" fill="#67cb5c"/>
<rect x="240.6" y="390.9" width="5.0" height="2.4" fill="#6dcd58"/>
<rect x="245.4" y="390.9" width="5.0" height="2.4" fill="#37b678"/>
<rect x="250.1" y="390.9" width="5.0" height="2.4" fill="#7ed24e"/>
<rect x="254.8" y="390.9" width="5.0" height="2.4" fill="#3ab876"/>
<rect x="259.6" y="390.9" width="5.0" height="2.4" fill="#22a286"/>
<rect x="264.3" y="390.9" width="5.0" height="2.4" fill="#228d8c"/>
<rect x="269.0" y="390.9" width="5.0" height="2.4" fill="#238c8c"/>
<rect x="273.7" y="390.9" width="5.0" height="2.4" fill="#248a8d"/>
<rect x="278.5" y="390.9" width="5.0" height="2.4" fill="#219b88"/>
<rect x="283.2" y="390.9" width="5.0" height="2.4" fill="#39568b"/>
<rect x="287.9" y="390.9" width="5.0" height="2.4" fill="#34628d"/>
<rect x="292.7" y="390.9" width="5.0" height="2.4" fill="#3c4e89"/>
<rect x="297.4" y="390.9" width="5.0" height="2.4" fill="#2d708e"/>
<rect x="302.1" y="390.9" width="5.0" height="2.4" fill="#34628d"/>
<rect x="306.9" y="390.9" width="5.0" height="2.4" fill="#2b768e"/>
<rect x="311.6" y="390.9" width="5.0" height="2.4" fill="#27808d"/>
<rect x="316.3" y="390.9" width="5.0" height="2.4" fill="#2a778e"/>
<rect x="321.0" y="390.9" width="5.0" height="2.4" fill="#297b8e"/>
<rect x="325.8" y="390.9" width="5.0" height="2.4" fill="#238c8c"/>
<rect x="235.9" y="393.0" width="5.0" height="2.4" fill="#4fc36a"/>
<rect x="240.6" y="393.0" width="5.0" height="2.4" fill="#4ec26b"/>
<rect x="245.4" y="393.0" width="5.0" height="2.4" fill="#44bf70"/>
<rect x="250.1" y="393.0" width="5.0" height="2.4" fill="#7cd150"/>
<rect x="254.8" y="393.0" width="5.0" height="2.4" fill="#34b479"/>
<rect x="259.6" y="393.0" width="5.0" height="2.4" fill="#2e6e8e"/>
<rect x="264.3" y="393.0" width="5.0" height="2.4" fill="#21908c"/>
<rect x="269.0" y="393.0" width="5.0" height="2.4" fill="#21938b"/>
<rect x="273.7" y="393.0" width="5.0" height="2.4" fill="#287d8e"/>
<rect x="278.5" y="393.0" width="5.0" height="2.4" fill="#2d728e"/>
<rect x="283.2" y="393.0" width="5.0" height="2.4" fill="#33638d"/>
<rect x="287.9" y="393.0" width="5.0" height="2.4" fill="#38588b"/>
<rect x="292.7" y="393.0" width="5.0" height="2.4" fill="#3c4e89"/>
<rect x="297.4" y="393.0" width="5.0" height="2.4" fill="#3a548b"/>
<rect x="302.1" y="393.0" width="5.0" height="2.4" fill="#433a81"/>
<rect x="306.9" y="393.0" width="5.0" height="2.4" fill="#3c4f89"/>
<rect x="311.6" y="393.0" width="5.0" height="2.4" fill="#2c738e"/>
<rect x="316.3" y="393.0" width="5.0" height="2.4" fill="#2d728e"/>
<rect x="321.0" y="393.0" width="5.0" height="2.4" fill="#24888d"/>
<rect x="325.8" y="393.0" width="5.0" height="2.4" fill="#26848d"/>
<rect x="235.9" y="395.1" width="5.0" height="2.4" fill="#77d053"/>
<rect x="240.6" y="395.1" width="5.0" height="2.4" fill="#abdb32"/>
<rect x="245.4" y="395.1" width="5.0" height="2.4" fill="#75cf54"/>
<rect x="250.1" y="395.1" width="5.0" height="2.4" fill="#90d643"/>
<rect x="254.8" y="395.1" width="5.0" height="2.4" fill="#66ca5c"/>
<rect x="259.6" y="395.1" width="5.0" height="2.4" fill="#365c8c"/>
<rect x="264.3" y="395.1" width="5.0" height="2.4" fill="#414386"/>
<rect x="269.0" y="395.1" width="5.0" height="2.4" fill="#2a778e"/>
<rect x="273.7" y="395.1" width="5.0" height="2.4" fill="#306a8d"/>
<rect x="278.5" y="395.1" width="5.0" height="2.4" fill="#2a798e"/>
<rect x="283.2" y="395.1" width="5.0" height="2.4" fill="#31678d"/>
<rect x="287.9" y="395.1" width="5.0" height="2.4" fill="#355f8d"/>
<rect x="292.7" y="395.1" width="5.0" height="2.4" fill="#33638d"/>
<rect x="297.4" y="395.1" width="5.0" height="2.4" fill="#414487"/>
<rect x="302.1" y="395.1" width="5.0" height="2.4" fill="#3d4d89"/>
<rect x="306.9" y="395.1" width="5.0" height="2.4" fill="#33638d"/>
<rect x="311.6" y="395.1" width="5.0" height="2.4" fill="#297c8e"/>
<rect x="316.3" y="395.1" width="5.0" height="2.4" fill="#2f6e8e"/>
<rect x="321.0" y="395.1" width="5.0" height="2.4" fill="#27808d"/>
<rect x="325.8" y="395.1" width="5.0" height="2.4" fill="#2d718e"/>
</g>
<path d="M228.2 180.2H232.4M230.1 180.6H232.4M230.1 181.0H232.4M230.1 180.6V181.0M229.7 180.8H230.1M231.3 181.4H232.4M231.3 181.7H232.4M231.3 181.4V181.7M231.1 181.6H231.3M231.1 182.1H232.4M231.1 181.6V182.1M230.5 181.8H231.1M231.4 182.5H232.4M231.4 182.9H232.4M231.4 182.5V182.9M230.9 182.7H231.4M230.9 183.3H232.4M230.9 182.7V183.3M230.5 183.0H230.9M230.5 181.8V183.0M229.7 182.4H230.5M229.7 180.8V182.4M228.2 181.6H229.7M228.2 180.2V181.6M226.0 180.9H228.2M229.4 183.7H232.4M230.4 184.1H232.4M230.4 184.5H232.4M230.4 184.1V184.5M229.4 184.3H230.4M229.4 183.7V184.3M228.8 184.0H229.4M228.8 184.8H232.4M228.8 184.0V184.8M227.4 184.4H228.8M230.8 185.2H232.4M230.8 185.6H232.4M230.8 185.2V185.6M230.2 185.4H230.8M230.2 186.0H232.4M230.2 185.4V186.0M230.0 185.7H230.2M230.0 186.4H232.4M230.0 185.7V186.4M228.7 186.1H230.0M229.3 186.8H232.4M229.3 187.2H232.4M229.3 186.8V187.2M228.7 187.0H229.3M228.7 186.1V187.0M227.4 186.5H228.7M227.4 184.4V186.5M226.0 185.5H227.4M226.0 180.9V185.5M223.9 183.2H226.0M228.8 187.6H232.4M229.9 188.0H232.4M229.9 188.3H232.4M229.9 188.0V188.3M228.8 188.1H229.9M228.8 187.6V188.1M227.5 187.9H228.8M227.9 188.7H232.4M229.3 189.1H232.4M230.0 189.5H232.4M230.0 189.9H232.4M230.0 189.5V189.9M229.3 189.7H230.0M229.3 189.1V189.7M228.6 189.4H229.3M229.4 190.3H232.4M229.4 190.7H232.4M229.4 190.3V190.7M228.6 190.5H229.4M228.6 189.4V190.5M227.9 189.9H228.6M227.9 188.7V189.9M227.5 189.3H227.9M227.5 187.9V189.3M224.9 188.6H227.5M226.0 191.1H232.4M227.2 191.4H232.4M227.2 191.8H232.4M227.2 191.4V191.8M226.0 191.6H227.2M226.0 191.1V191.6M224.9 191.3H226.0M224.9 188.6V191.3M223.9 190.0H224.9M223.9 183.2V190.0M221.2 186.6H223.9M228.7 192.2H232.4M228.7 192.6H232.4M228.7 192.2V192.6M227.9 192.4H228.7M228.7 193.0H232.4M228.7 193.4H232.4M228.7 193.0V193.4M227.9 193.2H228.7M227.9 192.4V193.2M227.2 192.8H227.9M227.2 193.8H232.4M227.2 192.8V193.8M224.6 193.3H227.2M231.2 194.2H232.4M231.2 194.5H232.4M231.2 194.2V194.5M230.9 194.4H231.2M231.4 194.9H232.4M231.7 195.3H232.4M231.7 195.7H232.4M231.7 195.3V195.7M231.4 195.5H231.7M231.4 194.9V195.5M230.9 195.2H231.4M230.9 194.4V195.2M230.4 194.8H230.9M230.9 196.1H232.4M231.6 196.5H232.4M231.6 196.9H232.4M231.6 196.5V196.9M231.3 196.7H231.6M231.3 197.3H232.4M231.3 196.7V197.3M231.1 197.0H231.3M231.1 197.6H232.4M231.1 197.0V197.6M230.9 197.3H231.1M230.9 196.1V197.3M230.4 196.7H230.9M230.4 194.8V196.7M230.0 195.7H230.4M230.9 198.0H232.4M230.9 198.4H232.4M230.9 198.0V198.4M230.4 198.2H230.9M230.8 198.8H232.4M231.2 199.2H232.4M231.2 199.6H232.4M231.2 199.2V199.6M230.8 199.4H231.2M230.8 198.8V199.4M230.4 199.1H230.8M230.4 198.2V199.1M230.2 198.7H230.4M231.3 200.0H232.4M231.3 200.4H232.4M231.3 200.0V200.4M230.8 200.2H231.3M231.3 200.8H232.4M231.3 201.1H232.4M231.3 200.8V201.1M230.8 200.9H231.3M230.8 200.2V200.9M230.5 200.6H230.8M230.5 201.5H232.4M230.5 200.6V201.5M230.2 201.0H230.5M230.2 198.7V201.0M230.0 199.9H230.2M230.0 195.7V199.9M229.8 197.8H230.0M231.4 201.9H232.4M231.4 202.3H232.4M231.4 201.9V202.3M230.9 202.1H231.4M231.7 202.7H232.4M231.7 203.1H232.4M231.7 202.7V203.1M231.6 202.9H231.7M231.7 203.5H232.4M231.7 203.9H232.4M231.7 203.5V203.9M231.6 203.7H231.7M231.6 202.9V203.7M231.4 203.3H231.6M231.6 204.2H232.4M231.6 204.6H232.4M231.6 204.2V204.6M231.4 204.4H231.6M231.4 203.3V204.4M230.9 203.9H231.4M230.9 202.1V203.9M230.6 203.0H230.9M230.6 205.0H232.4M230.6 203.0V205.0M229.8 204.0H230.6M229.8 197.8V204.0M228.9 200.9H229.8M228.9 205.4H232.4M228.9 200.9V205.4M227.3 203.2H228.9M228.5 205.8H232.4M231.4 206.2H232.4M231.4 206.6H232.4M231.4 206.2V206.6M231.2 206.4H231.4M231.6 207.0H232.4M231.6 207.3H232.4M231.6 207.0V207.3M231.2 207.1H231.6M231.2 206.4V207.1M230.6 206.8H231.2M230.9 207.7H232.4M230.9 208.1H232.4M230.9 207.7V208.1M230.6 207.9H230.9M230.6 206.8V207.9M230.1 207.3H230.6M230.1 208.5H232.4M230.1 207.3V208.5M229.3 207.9H230.1M230.0 208.9H232.4M230.7 209.3H232.4M230.7 209.7H232.4M230.7 209.3V209.7M230.0 209.5H230.7M230.0 208.9V209.5M229.3 209.2H230.0M229.3 207.9V209.2M228.5 208.6H229.3M228.5 205.8V208.6M227.3 207.2H228.5M227.3 203.2V207.2M226.4 205.2H227.3M230.7 210.1H232.4M231.2 210.4H232.4M231.2 210.8H232.4M231.2 210.4V210.8M230.7 210.6H231.2M230.7 210.1V210.6M230.0 210.3H230.7M230.0 211.2H232.4M230.0 210.3V211.2M229.3 210.8H230.0M229.7 211.6H232.4M229.7 212.0H232.4M229.7 211.6V212.0M229.3 211.8H229.7M229.3 210.8V211.8M229.0 211.3H229.3M229.7 212.4H232.4M230.2 212.8H232.4M230.8 213.2H232.4M230.8 213.5H232.4M230.8 213.2V213.5M230.6 213.4H230.8M230.9 213.9H232.4M230.9 214.3H232.4M230.9 213.9V214.3M230.6 214.1H230.9M230.6 213.4V214.1M230.2 213.7H230.6M230.2 212.8V213.7M229.7 213.3H230.2M229.7 212.4V213.3M229.0 212.8H229.7M229.0 211.3V212.8M227.6 212.1H229.0M230.5 214.7H232.4M231.1 215.1H232.4M231.1 215.5H232.4M231.1 215.1V215.5M230.5 215.3H231.1M230.5 214.7V215.3M230.1 215.0H230.5M230.1 215.9H232.4M230.1 215.0V215.9M228.8 215.4H230.1M229.6 216.3H232.4M229.6 216.7H232.4M229.6 216.3V216.7M228.8 216.5H229.6M228.8 215.4V216.5M227.6 215.9H228.8M227.6 212.1V215.9M226.4 214.0H227.6M226.4 205.2V214.0M224.6 209.6H226.4M224.6 193.3V209.6M221.2 201.4H224.6M221.2 186.6V201.4M219.2 194.0H221.2M224.5 217.0H232.4M224.5 217.4H232.4M224.5 217.0V217.4M222.8 217.2H224.5M227.3 217.8H232.4M227.3 218.2H232.4M227.3 217.8V218.2M225.4 218.0H227.3M231.4 218.6H232.4M231.4 219.0H232.4M231.4 218.6V219.0M231.2 218.8H231.4M231.2 219.4H232.4M231.2 218.8V219.4M230.6 219.1H231.2M230.6 219.8H232.4M230.6 219.1V219.8M229.7 219.4H230.6M229.7 220.1H232.4M229.7 219.4V220.1M228.4 219.8H229.7M228.4 220.5H232.4M228.4 219.8V220.5M226.7 220.2H228.4M227.2 220.9H232.4M227.2 221.3H232.4M227.2 220.9V221.3M226.7 221.1H227.2M226.7 220.2V221.1M225.4 220.6H226.7M225.4 218.0V220.6M222.8 219.3H225.4M222.8 217.2V219.3M220.8 218.3H222.8M229.7 221.7H232.4M230.5 222.1H232.4M230.5 222.5H232.4M230.5 222.1V222.5M229.7 222.3H230.5M229.7 221.7V222.3M229.1 222.0H229.7M229.1 222.9H232.4M229.1 222.0V222.9M227.6 222.4H229.1M230.2 223.2H232.4M230.6 223.6H232.4M230.6 224.0H232.4M230.6 223.6V224.0M230.2 223.8H230.6M230.2 223.2V223.8M229.2 223.5H230.2M229.2 224.4H232.4M229.2 223.5V224.4M228.9 224.0H229.2M228.9 224.8H232.4M228.9 224.0V224.8M227.6 224.4H228.9M227.6 222.4V224.4M225.5 223.4H227.6M227.8 225.2H232.4M230.5 225.6H232.4M231.2 226.0H232.4M231.2 226.3H232.4M231.2 226.0V226.3M230.5 226.2H231.2M230.5 225.6V226.2M229.6 225.9H230.5M231.0 226.7H232.4M231.2 227.1H232.4M231.2 227.5H232.4M231.2 227.1V227.5M231.0 227.3H231.2M231.0 226.7V227.3M230.6 227.0H231.0M231.6 227.9H232.4M231.6 228.3H232.4M231.6 227.9V228.3M231.2 228.1H231.6M231.2 228.7H232.4M231.2 228.1V228.7M230.6 228.4H231.2M230.6 227.0V228.4M230.2 227.7H230.6M231.1 229.1H232.4M231.4 229.5H232.4M231.4 229.8H232.4M231.4 229.5V229.8M231.1 229.6H231.4M231.1 229.1V229.6M230.6 229.4H231.1M230.6 230.2H232.4M230.6 229.4V230.2M230.2 229.8H230.6M230.2 227.7V229.8M229.6 228.7H230.2M229.6 225.9V228.7M228.6 227.3H229.6M229.5 230.6H232.4M230.5 231.0H232.4M231.0 231.4H232.4M231.0 231.8H232.4M231.0 231.4V231.8M230.5 231.6H231.0M230.5 231.0V231.6M229.5 231.3H230.5M229.5 230.6V231.3M228.6 231.0H229.5M228.6 227.3V231.0M227.8 229.1H228.6M227.8 225.2V229.1M225.5 227.2H227.8M225.5 223.4V227.2M223.0 225.3H225.5M227.8 232.2H232.4M228.4 232.6H232.4M228.4 232.9H232.4M228.4 232.6V232.9M227.8 232.7H228.4M227.8 232.2V232.7M227.1 232.5H227.8M227.1 233.3H232.4M227.1 232.5V233.3M224.6 232.9H227.1M228.2 233.7H232.4M228.2 234.1H232.4M228.2 233.7V234.1M227.0 233.9H228.2M229.8 234.5H232.4M229.8 234.9H232.4M229.8 234.5V234.9M228.9 234.7H229.8M228.9 235.3H232.4M228.9 234.7V235.3M227.0 235.0H228.9M227.0 233.9V235.0M226.2 234.4H227.0M226.2 235.7H232.4M226.2 234.4V235.7M224.6 235.1H226.2M224.6 232.9V235.1M223.0 234.0H224.6M223.0 225.3V234.0M220.8 229.6H223.0M220.8 218.3V229.6M219.2 224.0H220.8M219.2 194.0V224.0M227.4 236.0H232.4M229.8 236.4H232.4M229.8 236.8H232.4M229.8 236.4V236.8M227.4 236.6H229.8M227.4 236.0V236.6M223.6 236.3H227.4M230.9 237.2H232.4M230.9 237.6H232.4M230.9 237.2V237.6M229.5 237.4H230.9M229.5 238.0H232.4M229.5 237.4V238.0M226.8 237.7H229.5M226.8 238.4H232.4M226.8 237.7V238.4M223.6 238.0H226.8M223.6 236.3V238.0M223.0 237.2H223.6M227.7 238.8H232.4M227.7 239.1H232.4M227.7 238.8V239.1M225.8 239.0H227.7M231.2 239.5H232.4M231.5 239.9H232.4M231.5 240.3H232.4M231.5 239.9V240.3M231.2 240.1H231.5M231.2 239.5V240.1M230.4 239.8H231.2M231.6 240.7H232.4M231.6 241.1H232.4M231.6 240.7V241.1M231.4 240.9H231.6M231.4 241.5H232.4M231.4 240.9V241.5M230.4 241.2H231.4M230.4 239.8V241.2M228.9 240.5H230.4M228.9 241.9H232.4M228.9 240.5V241.9M227.7 241.2H228.9M227.7 242.3H232.4M227.7 241.2V242.3M225.8 241.7H227.7M225.8 239.0V241.7M223.3 240.3H225.8M227.0 242.6H232.4M229.6 243.0H232.4M230.3 243.4H232.4M230.3 243.8H232.4M230.3 243.4V243.8M229.6 243.6H230.3M229.6 243.0V243.6M227.0 243.3H229.6M227.0 242.6V243.3M223.3 243.0H227.0M223.3 240.3V243.0M223.0 241.7H223.3M223.0 237.2V241.7M222.4 239.4H223.0M225.2 244.2H232.4M228.6 244.6H232.4M228.6 245.0H232.4M228.6 244.6V245.0M226.6 244.8H228.6M226.6 245.4H232.4M226.6 244.8V245.4M225.2 245.1H226.6M225.2 244.2V245.1M223.5 244.6H225.2M230.3 245.7H232.4M230.3 246.1H232.4M230.3 245.7V246.1M229.9 245.9H230.3M231.4 246.5H232.4M231.4 246.9H232.4M231.4 246.5V246.9M230.4 246.7H231.4M231.8 247.3H232.4M231.8 247.7H232.4M231.8 247.3V247.7M231.3 247.5H231.8M231.3 248.1H232.4M231.3 247.5V248.1M231.0 247.8H231.3M231.5 248.5H232.4M231.5 248.8H232.4M231.5 248.5V248.8M231.0 248.7H231.5M231.0 247.8V248.7M230.4 248.2H231.0M230.4 246.7V248.2M229.9 247.5H230.4M229.9 245.9V247.5M229.2 246.7H229.9M230.8 249.2H232.4M232.0 249.6H232.4M232.0 250.0H232.4M232.0 249.6V250.0M231.9 249.8H232.0M231.9 250.4H232.4M231.9 249.8V250.4M231.4 250.1H231.9M231.4 250.8H232.4M231.4 250.1V250.8M230.8 250.4H231.4M230.8 249.2V250.4M229.2 249.8H230.8M229.2 246.7V249.8M228.4 248.3H229.2M230.6 251.2H232.4M230.6 251.6H232.4M230.6 251.2V251.6M229.4 251.4H230.6M230.3 251.9H232.4M230.3 252.3H232.4M230.3 251.9V252.3M229.4 252.1H230.3M229.4 251.4V252.1M228.4 251.8H229.4M228.4 248.3V251.8M225.8 250.0H228.4M229.9 252.7H232.4M229.9 253.1H232.4M229.9 252.7V253.1M229.3 252.9H229.9M230.7 253.5H232.4M231.4 253.9H232.4M231.8 254.3H232.4M231.8 254.7H232.4M231.8 254.3V254.7M231.4 254.5H231.8M231.4 253.9V254.5M230.7 254.2H231.4M230.7 253.5V254.2M229.3 253.8H230.7M229.3 252.9V253.8M227.6 253.4H229.3M228.4 255.1H232.4M228.4 255.4H232.4M228.4 255.1V255.4M227.6 255.2H228.4M227.6 253.4V255.2M225.8 254.3H227.6M225.8 250.0V254.3M223.5 252.2H225.8M223.5 244.6V252.2M223.2 248.4H223.5M229.2 255.8H232.4M229.2 256.2H232.4M229.2 255.8V256.2M228.3 256.0H229.2M229.8 256.6H232.4M229.8 257.0H232.4M229.8 256.6V257.0M228.3 256.8H229.8M228.3 256.0V256.8M227.3 256.4H228.3M230.3 257.4H232.4M230.3 257.8H232.4M230.3 257.4V257.8M229.1 257.6H230.3M230.2 258.2H232.4M230.2 258.5H232.4M230.2 258.2V258.5M229.1 258.3H230.2M229.1 257.6V258.3M227.3 258.0H229.1M227.3 256.4V258.0M223.4 257.2H227.3M226.5 258.9H232.4M226.5 259.3H232.4M226.5 258.9V259.3M223.4 259.1H226.5M223.4 257.2V259.1M223.2 258.2H223.4M223.2 248.4V258.2M222.4 253.3H223.2M222.4 239.4V253.3M221.4 246.3H222.4M226.2 259.7H232.4M228.4 260.1H232.4M228.4 260.5H232.4M228.4 260.1V260.5M226.2 260.3H228.4M226.2 259.7V260.3M224.0 260.0H226.2M230.8 260.9H232.4M231.4 261.3H232.4M231.4 261.6H232.4M231.4 261.3V261.6M230.8 261.4H231.4M230.8 260.9V261.4M229.5 261.2H230.8M229.5 262.0H232.4M229.5 261.2V262.0M227.7 261.6H229.5M230.2 262.4H232.4M230.2 262.8H232.4M230.2 262.4V262.8M228.5 262.6H230.2M228.5 263.2H232.4M228.5 262.6V263.2M227.7 262.9H228.5M227.7 261.6V262.9M224.0 262.2H227.7M224.0 260.0V262.2M223.4 261.1H224.0M230.0 263.6H232.4M230.0 264.0H232.4M230.0 263.6V264.0M228.1 263.8H230.0M228.1 264.4H232.4M228.1 263.8V264.4M226.6 264.1H228.1M229.1 264.7H232.4M229.1 265.1H232.4M229.1 264.7V265.1M226.6 264.9H229.1M226.6 264.1V264.9M223.8 264.5H226.6M230.8 265.5H232.4M231.7 265.9H232.4M231.7 266.3H232.4M231.7 265.9V266.3M231.6 266.1H231.7M231.6 266.7H232.4M231.6 266.1V266.7M231.1 266.4H231.6M231.1 267.1H232.4M231.1 266.4V267.1M230.8 266.7H231.1M230.8 265.5V266.7M230.0 266.1H230.8M230.5 267.5H232.4M230.5 267.8H232.4M230.5 267.5V267.8M230.0 267.7H230.5M230.0 266.1V267.7M229.0 266.9H230.0M230.7 268.2H232.4M230.7 268.6H232.4M230.7 268.2V268.6M229.0 268.4H230.7M229.0 266.9V268.4M226.3 267.7H229.0M227.8 269.0H232.4M231.0 269.4H232.4M231.0 269.8H232.4M231.0 269.4V269.8M230.1 269.6H231.0M230.1 270.2H232.4M230.1 269.6V270.2M229.0 269.9H230.1M229.0 270.6H232.4M229.0 269.9V270.6M227.8 270.2H229.0M227.8 269.0V270.2M226.3 269.6H227.8M226.3 267.7V269.6M223.8 268.6H226.3M223.8 264.5V268.6M223.4 266.6H223.8M223.4 261.1V266.6M222.5 263.8H223.4M230.7 271.0H232.4M230.7 271.3H232.4M230.7 271.0V271.3M230.4 271.1H230.7M230.4 271.7H232.4M230.4 271.1V271.7M228.4 271.4H230.4M228.4 272.1H232.4M228.4 271.4V272.1M226.8 271.8H228.4M226.8 272.5H232.4M226.8 271.8V272.5M223.4 272.1H226.8M231.8 272.9H232.4M231.8 273.3H232.4M231.8 272.9V273.3M231.6 273.1H231.8M231.9 273.7H232.4M231.9 274.1H232.4M231.9 273.7V274.1M231.6 273.9H231.9M231.6 273.1V273.9M230.9 273.5H231.6M231.3 274.4H232.4M231.3 274.8H232.4M231.3 274.4V274.8M230.9 274.6H231.3M230.9 273.5V274.6M229.7 274.1H230.9M230.8 275.2H232.4M230.8 275.6H232.4M230.8 275.2V275.6M229.7 275.4H230.8M229.7 274.1V275.4M229.0 274.7H229.7M231.8 276.0H232.4M232.1 276.4H232.4M232.1 276.8H232.4M232.1 276.4V276.8M231.8 276.6H232.1M231.8 276.0V276.6M231.4 276.3H231.8M231.8 277.2H232.4M232.0 277.5H232.4M232.0 277.9H232.4M232.0 277.5V277.9M231.8 277.7H232.0M231.8 277.2V277.7M231.4 277.4H231.8M231.4 276.3V277.4M230.4 276.9H231.4M230.9 278.3H232.4M230.9 278.7H232.4M230.9 278.3V278.7M230.4 278.5H230.9M230.4 276.9V278.5M229.7 277.7H230.4M231.7 279.1H232.4M231.7 279.5H232.4M231.7 279.1V279.5M231.5 279.3H231.7M231.7 279.9H232.4M232.0 280.3H232.4M232.0 280.6H232.4M232.0 280.3V280.6M231.7 280.5H232.0M231.7 279.9V280.5M231.5 280.2H231.7M231.5 279.3V280.2M231.1 279.7H231.5M231.8 281.0H232.4M231.8 281.4H232.4M231.8 281.0V281.4M231.5 281.2H231.8M231.5 281.8H232.4M231.5 281.2V281.8M231.1 281.5H231.5M231.1 279.7V281.5M230.4 280.6H231.1M231.2 282.2H232.4M231.4 282.6H232.4M232.1 283.0H232.4M232.1 283.4H232.4M232.1 283.8H232.4M232.1 283.4V283.8M232.1 283.6H232.1M232.1 283.0V283.6M231.8 283.3H232.1M231.8 284.1H232.4M231.8 283.3V284.1M231.6 283.7H231.8M231.6 284.5H232.4M231.6 283.7V284.5M231.4 284.1H231.6M231.4 282.6V284.1M231.2 283.4H231.4M231.2 282.2V283.4M230.4 282.8H231.2M230.4 280.6V282.8M229.7 281.7H230.4M229.7 277.7V281.7M229.0 279.7H229.7M229.0 274.7V279.7M225.9 277.2H229.0M231.2 284.9H232.4M231.2 285.3H232.4M231.2 284.9V285.3M230.7 285.1H231.2M230.7 285.7H232.4M230.7 285.1V285.7M229.2 285.4H230.7M231.8 286.1H232.4M232.0 286.5H232.4M232.0 286.9H232.4M232.0 286.5V286.9M231.8 286.7H232.0M231.8 286.1V286.7M231.6 286.4H231.8M231.9 287.2H232.4M231.9 287.6H232.4M231.9 287.2V287.6M231.7 287.4H231.9M231.9 288.0H232.4M231.9 288.4H232.4M231.9 288.0V288.4M231.7 288.2H231.9M231.7 287.4V288.2M231.6 287.8H231.7M231.6 286.4V287.8M230.9 287.1H231.6M231.5 288.8H232.4M231.5 289.2H232.4M231.5 288.8V289.2M230.9 289.0H231.5M230.9 287.1V289.0M230.6 288.0H230.9M232.1 289.6H232.4M232.2 290.0H232.4M232.2 290.3H232.4M232.2 290.0V290.3M232.1 290.2H232.2M232.1 289.6V290.2M232.0 289.9H232.1M232.0 290.7H232.4M232.0 291.1H232.4M232.0 290.7V291.1M232.0 290.9H232.0M232.0 289.9V290.9M231.7 290.4H232.0M231.7 291.5H232.4M231.7 290.4V291.5M231.5 291.0H231.7M231.9 291.9H232.4M232.1 292.3H232.4M232.1 292.7H232.4M232.1 292.3V292.7M231.9 292.5H232.1M231.9 291.9V292.5M231.5 292.2H231.9M231.5 291.0V292.2M230.6 291.6H231.5M230.6 288.0V291.6M230.2 289.8H230.6M231.6 293.1H232.4M231.6 293.4H232.4M231.6 293.1V293.4M231.3 293.3H231.6M231.5 293.8H232.4M231.5 294.2H232.4M231.5 293.8V294.2M231.3 294.0H231.5M231.3 293.3V294.0M231.1 293.6H231.3M231.8 294.6H232.4M232.0 295.0H232.4M232.0 295.4H232.4M232.0 295.0V295.4M231.8 295.2H232.0M231.8 294.6V295.2M231.5 294.9H231.8M231.5 295.8H232.4M231.5 294.9V295.8M231.1 295.3H231.5M231.1 293.6V295.3M230.2 294.5H231.1M230.2 289.8V294.5M229.2 292.1H230.2M229.2 285.4V292.1M227.9 288.8H229.2M229.6 296.2H232.4M230.8 296.6H232.4M230.8 296.9H232.4M230.8 296.6V296.9M230.3 296.7H230.8M231.2 297.3H232.4M231.2 297.7H232.4M231.2 297.3V297.7M230.8 297.5H231.2M230.8 298.1H232.4M230.8 297.5V298.1M230.3 297.8H230.8M230.3 296.7V297.8M229.6 297.3H230.3M229.6 296.2V297.3M228.8 296.7H229.6M231.8 298.5H232.4M231.9 298.9H232.4M231.9 299.3H232.4M231.9 298.9V299.3M231.8 299.1H231.9M231.8 298.5V299.1M231.6 298.8H231.8M231.6 299.7H232.4M231.6 298.8V299.7M231.4 299.2H231.6M231.4 300.0H232.4M231.4 299.2V300.0M230.6 299.6H231.4M230.6 300.4H232.4M230.6 299.6V300.4M228.8 300.0H230.6M228.8 296.7V300.0M227.9 298.4H228.8M227.9 288.8V298.4M225.9 293.6H227.9M225.9 277.2V293.6M223.4 285.4H225.9M223.4 272.1V285.4M222.9 278.8H223.4M231.6 300.8H232.4M231.8 301.2H232.4M232.0 301.6H232.4M232.0 302.0H232.4M232.0 301.6V302.0M231.8 301.8H232.0M231.8 301.2V301.8M231.6 301.5H231.8M231.6 300.8V301.5M230.9 301.2H231.6M231.7 302.4H232.4M231.7 302.8H232.4M231.7 302.4V302.8M231.5 302.6H231.7M231.7 303.1H232.4M231.9 303.5H232.4M231.9 303.9H232.4M231.9 303.5V303.9M231.7 303.7H231.9M231.7 303.1V303.7M231.5 303.4H231.7M231.5 302.6V303.4M230.9 303.0H231.5M230.9 301.2V303.0M230.4 302.1H230.9M231.6 304.3H232.4M231.6 304.7H232.4M231.6 304.3V304.7M231.3 304.5H231.6M232.0 305.1H232.4M232.0 305.5H232.4M232.0 305.1V305.5M231.7 305.3H232.0M231.7 305.9H232.4M231.7 305.3V305.9M231.3 305.6H231.7M231.3 304.5V305.6M231.1 305.0H231.3M231.7 306.2H232.4M231.7 306.6H232.4M231.7 306.2V306.6M231.3 306.4H231.7M231.3 307.0H232.4M231.3 306.4V307.0M231.1 306.7H231.3M231.1 305.0V306.7M230.4 305.9H231.1M230.4 302.1V305.9M228.6 304.0H230.4M231.6 307.4H232.4M231.6 307.8H232.4M231.6 307.4V307.8M231.1 307.6H231.6M231.6 308.2H232.4M231.6 308.6H232.4M231.6 308.2V308.6M231.1 308.4H231.6M231.1 307.6V308.4M230.4 308.0H231.1M230.4 309.0H232.4M230.4 308.0V309.0M229.4 308.5H230.4M230.9 309.4H232.4M230.9 309.7H232.4M230.9 309.4V309.7M230.1 309.5H230.9M230.4 310.1H232.4M230.4 310.5H232.4M230.4 310.1V310.5M230.1 310.3H230.4M230.1 309.5V310.3M229.4 309.9H230.1M229.4 308.5V309.9M228.6 309.2H229.4M228.6 304.0V309.2M225.5 306.6H228.6M231.6 310.9H232.4M231.6 311.3H232.4M231.6 310.9V311.3M231.0 311.1H231.6M231.0 311.7H232.4M231.0 311.1V311.7M230.0 311.4H231.0M230.0 312.1H232.4M230.0 311.4V312.1M228.8 311.7H230.0M230.9 312.5H232.4M231.6 312.8H232.4M231.6 313.2H232.4M231.6 312.8V313.2M231.3 313.0H231.6M231.3 313.6H232.4M231.3 313.0V313.6M230.9 313.3H231.3M230.9 312.5V313.3M229.4 312.9H230.9M229.4 314.0H232.4M229.4 312.9V314.0M228.8 313.4H229.4M228.8 311.7V313.4M225.5 312.6H228.8M225.5 306.6V312.6M224.0 309.6H225.5M227.0 314.4H232.4M229.8 314.8H232.4M229.8 315.2H232.4M229.8 314.8V315.2M229.3 315.0H229.8M229.3 315.6H232.4M229.3 315.0V315.6M228.3 315.3H229.3M230.1 315.9H232.4M231.2 316.3H232.4M231.2 316.7H232.4M231.2 316.3V316.7M230.1 316.5H231.2M230.1 315.9V316.5M228.3 316.2H230.1M228.3 315.3V316.2M227.0 315.8H228.3M227.0 314.4V315.8M225.8 315.1H227.0M229.5 317.1H232.4M229.5 317.5H232.4M229.5 317.1V317.5M226.9 317.3H229.5M226.9 317.9H232.4M226.9 317.3V317.9M225.8 317.6H226.9M225.8 315.1V317.6M224.0 316.3H225.8M224.0 309.6V316.3M222.9 313.0H224.0M222.9 278.8V313.0M222.5 295.9H222.9M222.5 263.8V295.9M221.4 279.9H222.5M221.4 246.3V279.9M231.4 318.3H232.4M231.4 318.7H232.4M231.4 318.3V318.7M231.3 318.5H231.4M231.3 319.0H232.4M231.3 318.5V319.0M230.2 318.8H231.3M232.1 319.4H232.4M232.2 319.8H232.4M232.2 320.2H232.4M232.2 319.8V320.2M232.1 320.0H232.2M232.1 319.4V320.0M232.0 319.7H232.1M232.0 320.6H232.4M232.0 319.7V320.6M231.8 320.2H232.0M231.9 321.0H232.4M231.9 321.4H232.4M231.9 321.0V321.4M231.8 321.2H231.9M231.8 320.2V321.2M231.2 320.7H231.8M231.8 321.8H232.4M231.8 322.1H232.4M231.8 321.8V322.1M231.5 322.0H231.8M231.5 322.5H232.4M231.5 322.0V322.5M231.2 322.2H231.5M231.2 320.7V322.2M230.2 321.5H231.2M230.2 318.8V321.5M229.8 320.1H230.2M230.2 322.9H232.4M230.9 323.3H232.4M230.9 323.7H232.4M230.9 323.3V323.7M230.2 323.5H230.9M230.2 322.9V323.5M229.8 323.2H230.2M229.8 320.1V323.2M227.3 321.7H229.8M230.9 324.1H232.4M230.9 324.5H232.4M230.9 324.1V324.5M230.1 324.3H230.9M231.1 324.9H232.4M231.1 325.3H232.4M231.1 324.9V325.3M230.9 325.1H231.1M230.9 325.6H232.4M230.9 325.1V325.6M230.7 325.3H230.9M230.7 326.0H232.4M230.7 325.3V326.0M230.1 325.7H230.7M230.1 324.3V325.7M229.3 325.0H230.1M230.4 326.4H232.4M231.5 326.8H232.4M231.5 327.2H232.4M231.5 326.8V327.2M231.3 327.0H231.5M231.8 327.6H232.4M232.0 328.0H232.4M232.0 328.4H232.4M232.0 328.0V328.4M231.8 328.2H232.0M231.8 328.7H232.4M231.8 328.2V328.7M231.8 328.5H231.8M231.8 327.6V328.5M231.3 328.0H231.8M231.3 327.0V328.0M230.4 327.5H231.3M230.4 326.4V327.5M229.3 327.0H230.4M229.3 325.0V327.0M227.3 326.0H229.3M227.3 321.7V326.0M226.3 323.8H227.3M230.6 329.1H232.4M231.2 329.5H232.4M231.2 329.9H232.4M231.2 329.5V329.9M230.6 329.7H231.2M230.6 329.1V329.7M230.0 329.4H230.6M232.2 330.3H232.4M232.2 330.7H232.4M232.2 330.3V330.7M232.2 330.5H232.2M232.2 331.1H232.4M232.2 330.5V331.1M232.0 330.8H232.2M232.0 331.5H232.4M232.0 330.8V331.5M231.8 331.1H232.0M231.8 331.8H232.4M231.8 331.1V331.8M231.3 331.5H231.8M231.3 332.2H232.4M231.3 331.5V332.2M230.8 331.9H231.3M231.6 332.6H232.4M231.6 333.0H232.4M231.6 332.6V333.0M230.8 332.8H231.6M230.8 331.9V332.8M230.0 332.3H230.8M230.0 329.4V332.3M228.5 330.9H230.0M231.6 333.4H232.4M231.6 333.8H232.4M231.6 333.4V333.8M231.0 333.6H231.6M231.0 334.2H232.4M231.0 333.6V334.2M230.2 333.9H231.0M230.6 334.6H232.4M231.3 334.9H232.4M231.5 335.3H232.4M231.9 335.7H232.4M232.1 336.1H232.4M232.2 336.5H232.4M232.2 336.9H232.4M232.2 336.5V336.9M232.1 336.7H232.2M232.1 336.1V336.7M231.9 336.4H232.1M231.9 335.7V336.4M231.8 336.1H231.9M231.8 337.3H232.4M231.8 336.1V337.3M231.5 336.7H231.8M231.5 335.3V336.7M231.3 336.0H231.5M231.3 334.9V336.0M230.9 335.5H231.3M230.9 337.7H232.4M230.9 335.5V337.7M230.6 336.6H230.9M230.6 334.6V336.6M230.2 335.6H230.6M230.2 333.9V335.6M228.5 334.7H230.2M228.5 330.9V334.7M226.3 332.8H228.5M226.3 323.8V332.8M225.2 338.1H232.4M225.2 338.4H232.4M225.2 338.1V338.4M224.4 338.2H225.2M224.4 338.8H232.4M224.4 338.2V338.8M223.1 338.5H224.4M226.2 339.2H232.4M226.2 339.6H232.4M226.2 339.2V339.6M223.1 339.4H226.2M223.1 338.5V339.4M221.9 339.0H223.1M229.3 340.0H232.4M229.3 340.4H232.4M229.3 340.0V340.4M228.4 340.2H229.3M228.4 340.8H232.4M228.4 340.2V340.8M227.5 340.5H228.4M227.5 341.2H232.4M227.5 340.5V341.2M225.5 340.8H227.5M227.1 341.5H232.4M229.0 341.9H232.4M229.0 342.3H232.4M229.0 341.9V342.3M227.1 342.1H229.0M227.1 341.5V342.1M225.5 341.8H227.1M225.5 340.8V341.8M221.9 341.3H225.5M221.9 339.0V341.3M217.4 340.1H221.9M222.6 342.7H232.4M222.6 343.1H232.4M222.6 342.7V343.1M219.4 342.9H222.6M228.5 343.5H232.4M228.5 343.9H232.4M228.5 343.5V343.9M226.4 343.7H228.5M227.9 344.3H232.4M227.9 344.6H232.4M227.9 344.3V344.6M226.4 344.5H227.9M226.4 343.7V344.5M223.9 344.1H226.4M227.7 345.0H232.4M228.5 345.4H232.4M228.5 345.8H232.4M228.5 345.4V345.8M227.7 345.6H228.5M227.7 345.0V345.6M226.8 345.3H227.7M228.4 346.2H232.4M228.4 346.6H232.4M228.4 346.2V346.6M226.8 346.4H228.4M226.8 345.3V346.4M223.9 345.9H226.8M223.9 344.1V345.9M219.4 345.0H223.9M219.4 342.9V345.0M217.4 343.9H219.4M217.4 340.1V343.9M215.2 342.0H217.4M224.3 347.0H232.4M227.0 347.4H232.4M227.0 347.7H232.4M227.0 347.4V347.7M225.7 347.6H227.0M225.7 348.1H232.4M225.7 347.6V348.1M224.3 347.8H225.7M224.3 347.0V347.8M221.2 347.4H224.3M223.6 348.5H232.4M226.7 348.9H232.4M228.4 349.3H232.4M229.5 349.7H232.4M229.5 350.1H232.4M229.5 349.7V350.1M228.4 349.9H229.5M228.4 349.3V349.9M226.7 349.6H228.4M226.7 348.9V349.6M223.6 349.3H226.7M223.6 348.5V349.3M221.2 348.9H223.6M221.2 347.4V348.9M217.5 348.1H221.2M222.4 350.5H232.4M222.4 350.9H232.4M222.4 350.5V350.9M220.0 350.7H222.4M224.0 351.2H232.4M225.5 351.6H232.4M229.8 352.0H232.4M229.8 352.4H232.4M229.8 352.0V352.4M228.9 352.2H229.8M228.9 352.8H232.4M228.9 352.2V352.8M226.9 352.5H228.9M227.8 353.2H232.4M228.8 353.6H232.4M228.8 354.0H232.4M228.8 353.6V354.0M227.8 353.8H228.8M227.8 353.2V353.8M226.9 353.5H227.8M226.9 352.5V353.5M225.5 353.0H226.9M225.5 351.6V353.0M224.0 352.3H225.5M224.0 351.2V352.3M220.0 351.8H224.0M220.0 350.7V351.8M217.5 351.2H220.0M217.5 348.1V351.2M215.2 349.7H217.5M215.2 342.0V349.7M227.4 354.3H232.4M231.3 354.7H232.4M231.3 355.1H232.4M231.3 354.7V355.1M230.7 354.9H231.3M230.7 355.5H232.4M230.7 354.9V355.5M230.0 355.2H230.7M230.2 355.9H232.4M231.0 356.3H232.4M231.0 356.7H232.4M231.0 356.3V356.7M230.2 356.5H231.0M230.2 355.9V356.5M230.0 356.2H230.2M230.0 355.2V356.2M228.9 355.7H230.0M229.4 357.1H232.4M230.2 357.4H232.4M230.7 357.8H232.4M231.2 358.2H232.4M231.2 358.6H232.4M231.2 358.2V358.6M230.7 358.4H231.2M230.7 357.8V358.4M230.2 358.1H230.7M230.2 357.4V358.1M229.4 357.8H230.2M229.4 357.1V357.8M228.9 357.4H229.4M228.9 355.7V357.4M227.4 356.6H228.9M227.4 354.3V356.6M225.0 355.5H227.4M228.4 359.0H232.4M228.4 359.4H232.4M228.4 359.0V359.4M227.1 359.2H228.4M228.8 359.8H232.4M228.8 360.2H232.4M228.8 359.8V360.2M228.3 360.0H228.8M229.6 360.5H232.4M230.7 360.9H232.4M230.7 361.3H232.4M230.7 360.9V361.3M230.4 361.1H230.7M230.4 361.7H232.4M230.4 361.1V361.7M229.6 361.4H230.4M229.6 360.5V361.4M228.8 361.0H229.6M230.5 362.1H232.4M230.5 362.5H232.4M230.5 362.1V362.5M229.9 362.3H230.5M229.9 362.9H232.4M229.9 362.3V362.9M228.8 362.6H229.9M228.8 361.0V362.6M228.3 361.8H228.8M228.3 360.0V361.8M227.1 360.9H228.3M227.1 359.2V360.9M225.0 360.0H227.1M225.0 355.5V360.0M221.2 357.7H225.0M224.4 363.3H232.4M224.4 363.7H232.4M224.4 363.3V363.7M223.2 363.5H224.4M225.8 364.0H232.4M226.6 364.4H232.4M228.7 364.8H232.4M228.7 365.2H232.4M228.7 364.8V365.2M228.2 365.0H228.7M228.2 365.6H232.4M228.2 365.0V365.6M226.6 365.3H228.2M226.6 364.4V365.3M225.8 364.9H226.6M225.8 364.0V364.9M224.0 364.5H225.8M224.0 366.0H232.4M224.0 364.5V366.0M223.2 365.2H224.0M223.2 363.5V365.2M221.2 364.3H223.2M221.2 357.7V364.3M216.9 361.0H221.2M226.7 366.4H232.4M228.2 366.8H232.4M229.4 367.1H232.4M229.4 367.5H232.4M229.4 367.1V367.5M228.2 367.3H229.4M228.2 366.8V367.3M226.7 367.0H228.2M226.7 366.4V367.0M223.8 366.7H226.7M223.8 367.9H232.4M223.8 366.7V367.9M222.9 367.3H223.8M223.9 368.3H232.4M223.9 368.7H232.4M223.9 368.3V368.7M222.9 368.5H223.9M222.9 367.3V368.5M221.1 367.9H222.9M227.1 369.1H232.4M228.9 369.5H232.4M228.9 369.9H232.4M228.9 369.5V369.9M227.1 369.7H228.9M227.1 369.1V369.7M225.4 369.4H227.1M226.4 370.2H232.4M228.0 370.6H232.4M228.0 371.0H232.4M228.0 370.6V371.0M227.4 370.8H228.0M229.1 371.4H232.4M229.1 371.8H232.4M229.1 371.4V371.8M227.4 371.6H229.1M227.4 370.8V371.6M226.4 371.2H227.4M226.4 370.2V371.2M225.4 370.7H226.4M225.4 369.4V370.7M224.6 370.0H225.4M227.2 372.2H232.4M227.2 372.6H232.4M227.2 372.2V372.6M226.8 372.4H227.2M226.8 373.0H232.4M226.8 372.4V373.0M224.6 372.7H226.8M224.6 370.0V372.7M221.1 371.4H224.6M221.1 367.9V371.4M219.5 369.6H221.1M226.5 373.3H232.4M226.5 373.7H232.4M226.5 373.3V373.7M224.8 373.5H226.5M227.9 374.1H232.4M227.9 374.5H232.4M227.9 374.1V374.5M226.6 374.3H227.9M226.6 374.9H232.4M226.6 374.3V374.9M226.0 374.6H226.6M226.7 375.3H232.4M227.5 375.7H232.4M228.6 376.1H232.4M228.6 376.4H232.4M228.6 376.1V376.4M227.5 376.3H228.6M227.5 375.7V376.3M226.7 376.0H227.5M226.7 375.3V376.0M226.0 375.6H226.7M226.0 374.6V375.6M224.8 375.1H226.0M224.8 373.5V375.1M224.0 374.3H224.8M226.5 376.8H232.4M226.5 377.2H232.4M226.5 376.8V377.2M224.0 377.0H226.5M224.0 374.3V377.0M222.8 375.7H224.0M224.6 377.6H232.4M227.8 378.0H232.4M227.8 378.4H232.4M227.8 378.0V378.4M227.0 378.2H227.8M228.6 378.8H232.4M228.6 379.2H232.4M228.6 378.8V379.2M227.0 379.0H228.6M227.0 378.2V379.0M224.6 378.6H227.0M224.6 377.6V378.6M222.8 378.1H224.6M222.8 375.7V378.1M219.5 376.9H222.8M219.5 369.6V376.9M216.9 373.3H219.5M216.9 361.0V373.3M210.9 367.1H216.9M212.9 379.6H232.4M212.9 379.9H232.4M212.9 379.6V379.9M210.9 379.7H212.9M210.9 367.1V379.7M227.2 380.3H232.4M227.2 380.7H232.4M227.2 380.3V380.7M224.8 380.5H227.2M224.8 381.1H232.4M224.8 380.5V381.1M220.8 380.8H224.8M224.1 381.5H232.4M224.1 381.9H232.4M224.1 381.5V381.9M220.8 381.7H224.1M220.8 380.8V381.7M219.2 381.2H220.8M223.8 382.3H232.4M228.7 382.7H232.4M228.7 383.0H232.4M228.7 382.7V383.0M226.8 382.8H228.7M226.8 383.4H232.4M226.8 382.8V383.4M225.0 383.1H226.8M225.0 383.8H232.4M225.0 383.1V383.8M223.8 383.5H225.0M223.8 382.3V383.5M219.2 382.9H223.8M219.2 381.2V382.9M215.8 382.1H219.2M224.5 384.2H232.4M225.9 384.6H232.4M225.9 385.0H232.4M225.9 384.6V385.0M224.5 384.8H225.9M224.5 384.2V384.8M223.0 384.5H224.5M225.4 385.4H232.4M225.4 385.8H232.4M225.4 385.4V385.8M223.0 385.6H225.4M223.0 384.5V385.6M218.2 385.0H223.0M225.4 386.1H232.4M226.5 386.5H232.4M226.5 386.9H232.4M226.5 386.5V386.9M225.4 386.7H226.5M225.4 386.1V386.7M223.0 386.4H225.4M225.3 387.3H232.4M225.3 387.7H232.4M225.3 387.3V387.7M223.0 387.5H225.3M223.0 386.4V387.5M219.7 387.0H223.0M228.6 388.1H232.4M229.8 388.5H232.4M229.8 388.9H232.4M229.8 388.5V388.9M228.6 388.7H229.8M228.6 388.1V388.7M226.7 388.4H228.6M226.7 389.2H232.4M226.7 388.4V389.2M225.7 388.8H226.7M225.7 389.6H232.4M225.7 388.8V389.6M223.8 389.2H225.7M223.8 390.0H232.4M223.8 389.2V390.0M222.1 389.6H223.8M222.1 390.4H232.4M222.1 389.6V390.4M220.9 390.0H222.1M226.2 390.8H232.4M226.2 391.2H232.4M226.2 390.8V391.2M224.4 391.0H226.2M224.4 391.6H232.4M224.4 391.0V391.6M220.9 391.3H224.4M220.9 390.0V391.3M219.7 390.7H220.9M219.7 387.0V390.7M218.2 388.8H219.7M218.2 385.0V388.8M215.8 386.9H218.2M215.8 382.1V386.9M214.3 384.5H215.8M222.8 392.0H232.4M222.8 392.4H232.4M222.8 392.0V392.4M220.2 392.2H222.8M226.4 392.7H232.4M226.4 393.1H232.4M226.4 392.7V393.1M224.1 392.9H226.4M226.6 393.5H232.4M226.6 393.9H232.4M226.6 393.5V393.9M224.1 393.7H226.6M224.1 392.9V393.7M220.2 393.3H224.1M220.2 392.2V393.3M219.1 392.7H220.2M224.7 394.3H232.4M224.7 394.7H232.4M224.7 394.3V394.7M221.9 394.5H224.7M224.9 395.1H232.4M224.9 395.5H232.4M224.9 395.1V395.5M221.9 395.3H224.9M221.9 394.5V395.3M219.1 394.9H221.9M219.1 392.7V394.9M214.3 393.8H219.1M214.3 384.5V393.8M206.0 389.1H214.3M210.3 395.8H232.4M217.7 396.2H232.4M217.7 396.6H232.4M217.7 396.2V396.6M215.4 396.4H217.7M215.4 397.0H232.4M215.4 396.4V397.0M210.3 396.7H215.4M210.3 395.8V396.7M206.0 396.3H210.3M206.0 389.1V396.3M215.3 209.0L219.2 209.0M215.3 263.1L221.4 263.1M215.3 209.0L215.3 263.1M205.5 236.0L215.3 236.0M205.5 328.3L226.3 328.3M205.5 236.0L205.5 328.3M197.7 282.2L205.5 282.2M197.7 345.9L215.2 345.9M197.7 282.2L197.7 345.9M202.7 373.4L210.9 373.4M202.7 392.7L206.0 392.7M202.7 373.4L202.7 392.7M187.3 314.0L197.7 314.0M187.3 383.1L202.7 383.1M187.3 314.0L187.3 383.1" fill="none" stroke="#0a0a0a" stroke-width="0.65"/>
<g shape-rendering="crispEdges">
<rect x="348.50" y="165.40" width="2.53" height="17.10" fill="#45095c"/>
<rect x="350.73" y="165.40" width="2.53" height="17.10" fill="#47196a"/>
<rect x="352.96" y="165.40" width="2.53" height="17.10" fill="#472877"/>
<rect x="355.20" y="165.40" width="2.53" height="17.10" fill="#443780"/>
<rect x="357.43" y="165.40" width="2.53" height="17.10" fill="#404587"/>
<rect x="359.66" y="165.40" width="2.53" height="17.10" fill="#3b528a"/>
<rect x="361.89" y="165.40" width="2.53" height="17.10" fill="#365e8d"/>
<rect x="364.12" y="165.40" width="2.53" height="17.10" fill="#30698d"/>
<rect x="366.35" y="165.40" width="2.53" height="17.10" fill="#2c758e"/>
<rect x="368.59" y="165.40" width="2.53" height="17.10" fill="#27808d"/>
<rect x="370.82" y="165.40" width="2.53" height="17.10" fill="#238b8c"/>
<rect x="373.05" y="165.40" width="2.53" height="17.10" fill="#21968a"/>
<rect x="375.28" y="165.40" width="2.53" height="17.10" fill="#22a187"/>
<rect x="377.51" y="165.40" width="2.53" height="17.10" fill="#27ab81"/>
<rect x="379.75" y="165.40" width="2.53" height="17.10" fill="#36b678"/>
<rect x="381.98" y="165.40" width="2.53" height="17.10" fill="#46c06f"/>
<rect x="384.21" y="165.40" width="2.53" height="17.10" fill="#5fc860"/>
<rect x="386.44" y="165.40" width="2.53" height="17.10" fill="#78d052"/>
<rect x="388.67" y="165.40" width="2.53" height="17.10" fill="#95d73f"/>
<rect x="390.90" y="165.40" width="2.53" height="17.10" fill="#b4dd2c"/>
<rect x="393.14" y="165.40" width="2.53" height="17.10" fill="#d1e226"/>
<rect x="395.37" y="165.40" width="2.53" height="17.10" fill="#eee525"/>
</g>
<path d="M352.0 182.5L355.5 182.5L355.5 180.0L358.0 180.0L358.0 177.5L360.0 177.5L360.0 175.0L361.9 175.0L361.9 166.3L364.3 166.3L364.3 169.5L366.0 169.5L366.0 172.0L369.0 172.0L369.0 174.5L371.0 174.5L371.0 176.8L374.0 176.8L374.0 175.0L376.5 175.0L376.5 173.5L379.4 173.5L379.4 172.2L381.0 172.2L381.0 171.2L386.8 171.2L386.8 174.5L388.2 174.5L388.2 178.2L389.8 178.2L389.8 182.2L392.0 182.2" fill="none" stroke="#3fe0d0" stroke-width="0.7"/>
<line x1="353.20" y1="182.80" x2="353.20" y2="184.20" stroke="#555" stroke-width="0.3"/>
<text x="353.20" y="188.40" font-size="3.2" fill="#444" style="stroke:none" text-anchor="middle">-2</text>
<line x1="363.18" y1="182.80" x2="363.18" y2="184.20" stroke="#555" stroke-width="0.3"/>
<text x="363.18" y="188.40" font-size="3.2" fill="#444" style="stroke:none" text-anchor="middle">-1</text>
<line x1="373.16" y1="182.80" x2="373.16" y2="184.20" stroke="#555" stroke-width="0.3"/>
<text x="373.16" y="188.40" font-size="3.2" fill="#444" style="stroke:none" text-anchor="middle">0</text>
<line x1="383.14" y1="182.80" x2="383.14" y2="184.20" stroke="#555" stroke-width="0.3"/>
<text x="383.14" y="188.40" font-size="3.2" fill="#444" style="stroke:none" text-anchor="middle">1</text>
<line x1="393.12" y1="182.80" x2="393.12" y2="184.20" stroke="#555" stroke-width="0.3"/>
<text x="393.12" y="188.40" font-size="3.2" fill="#444" style="stroke:none" text-anchor="middle">2</text>
<text x="373.00" y="192.20" font-size="3.0" fill="#444" style="stroke:none" text-anchor="middle">Row Z-Score</text>
<text transform="translate(343.3,176) rotate(-90)" font-size="2.8" fill="#444" style="stroke:none" text-anchor="middle">Count</text>
<text transform="translate(346.6,182) rotate(-90)" font-size="2.8" fill="#444" style="stroke:none" text-anchor="middle">0</text>
<line x1="347.40" y1="182.00" x2="348.50" y2="182.00" stroke="#555" stroke-width="0.3"/>
<text transform="translate(346.6,176) rotate(-90)" font-size="2.8" fill="#444" style="stroke:none" text-anchor="middle">400</text>
<line x1="347.40" y1="176.00" x2="348.50" y2="176.00" stroke="#555" stroke-width="0.3"/>
<text transform="translate(346.6,168) rotate(-90)" font-size="2.8" fill="#444" style="stroke:none" text-anchor="middle">1000</text>
<line x1="347.40" y1="168.00" x2="348.50" y2="168.00" stroke="#555" stroke-width="0.3"/>
<rect x="349.80" y="196.40" width="7.90" height="7.40" fill="#ee5a2a"/>
<text x="360" y="202.5" font-size="7.4" fill="#231f20"><tspan textLength="17.9" lengthAdjust="spacingAndGlyphs">LGR5</tspan><tspan font-size="4.6" dy="-3.2">−</tspan></text>
<text x="360.00" y="210.50" font-size="7.4" fill="#231f20" textLength="12.90" lengthAdjust="spacingAndGlyphs">PBS</text>
<rect x="349.80" y="217.10" width="7.90" height="7.40" fill="#c0302a"/>
<text x="360" y="223.2" font-size="7.4" fill="#231f20"><tspan textLength="17.9" lengthAdjust="spacingAndGlyphs">LGR5</tspan><tspan font-size="4.6" dy="-3.2">+</tspan></text>
<text x="360.00" y="231.20" font-size="7.4" fill="#231f20" textLength="12.90" lengthAdjust="spacingAndGlyphs">PBS</text>
<rect x="349.80" y="238.30" width="7.90" height="7.40" fill="#c8389a"/>
<text x="360" y="244.4" font-size="7.4" fill="#231f20"><tspan textLength="17.9" lengthAdjust="spacingAndGlyphs">LGR5</tspan><tspan font-size="4.6" dy="-3.2">−</tspan></text>
<text x="360.00" y="252.40" font-size="7.4" fill="#231f20" textLength="38.40" lengthAdjust="spacingAndGlyphs">PEG–rIL–29</text>
<rect x="349.80" y="259.30" width="7.90" height="7.40" fill="#6a40a8"/>
<text x="360" y="265.4" font-size="7.4" fill="#231f20"><tspan textLength="17.9" lengthAdjust="spacingAndGlyphs">LGR5</tspan><tspan font-size="4.6" dy="-3.2">+</tspan></text>
<text x="360.00" y="273.40" font-size="7.4" fill="#231f20" textLength="38.40" lengthAdjust="spacingAndGlyphs">PEG–rIL–29</text>
<text x="418.70" y="158.40" font-size="12.3" fill="#000" font-weight="bold" textLength="5.60" lengthAdjust="spacingAndGlyphs">J</text>
<line x1="451.10" y1="175.60" x2="451.10" y2="256.40" stroke="#231f20" stroke-width="1.0"/>
<line x1="450.60" y1="255.90" x2="505.50" y2="255.90" stroke="#231f20" stroke-width="1.0"/>
<line x1="448.10" y1="255.90" x2="451.10" y2="255.90" stroke="#231f20" stroke-width="1.0"/>
<text x="445.80" y="258.80" font-size="8.2" fill="#231f20" text-anchor="end">0</text>
<line x1="448.10" y1="235.85" x2="451.10" y2="235.85" stroke="#231f20" stroke-width="1.0"/>
<text x="445.80" y="238.75" font-size="8.2" fill="#231f20" text-anchor="end">20</text>
<line x1="448.10" y1="215.80" x2="451.10" y2="215.80" stroke="#231f20" stroke-width="1.0"/>
<text x="445.80" y="218.70" font-size="8.2" fill="#231f20" text-anchor="end">40</text>
<line x1="448.10" y1="195.75" x2="451.10" y2="195.75" stroke="#231f20" stroke-width="1.0"/>
<text x="445.80" y="198.65" font-size="8.2" fill="#231f20" text-anchor="end">60</text>
<line x1="448.10" y1="175.70" x2="451.10" y2="175.70" stroke="#231f20" stroke-width="1.0"/>
<text x="445.80" y="178.60" font-size="8.2" fill="#231f20" text-anchor="end">80</text>
<text transform="translate(431.50,215.45) rotate(-90)" font-size="8.8" fill="#231f20" text-anchor="middle" textLength="61.1" lengthAdjust="spacingAndGlyphs">Normalised counts</text>
<circle cx="480.20" cy="175.60" r="1.20" fill="#d2163c"/>
<circle cx="480.20" cy="187.20" r="1.20" fill="#10518f"/>
<text x="490.20" y="178.60" font-size="8.4" fill="#231f20" textLength="15.50" lengthAdjust="spacingAndGlyphs">Lgr5–</text>
<text x="490.20" y="190.10" font-size="8.4" fill="#231f20" textLength="18.50" lengthAdjust="spacingAndGlyphs">Lgr5+</text>
<circle cx="453.50" cy="227.80" r="1.45" fill="#d2163c"/>
<circle cx="456.10" cy="237.40" r="1.45" fill="#d2163c"/>
<circle cx="454.80" cy="238.10" r="1.45" fill="#d2163c"/>
<circle cx="453.80" cy="239.60" r="1.45" fill="#d2163c"/>
<circle cx="455.80" cy="244.50" r="1.45" fill="#d2163c"/>
<line x1="454.80" y1="231.20" x2="454.80" y2="243.00" stroke="#231f20" stroke-width="0.8"/>
<line x1="453.20" y1="231.20" x2="456.40" y2="231.20" stroke="#231f20" stroke-width="0.8"/>
<line x1="453.20" y1="243.00" x2="456.40" y2="243.00" stroke="#231f20" stroke-width="0.8"/>
<line x1="452.20" y1="237.70" x2="457.40" y2="237.70" stroke="#231f20" stroke-width="0.9"/>
<circle cx="459.10" cy="237.70" r="1.45" fill="#10518f"/>
<circle cx="461.70" cy="244.50" r="1.45" fill="#10518f"/>
<circle cx="460.40" cy="245.50" r="1.45" fill="#10518f"/>
<circle cx="459.40" cy="247.70" r="1.45" fill="#10518f"/>
<circle cx="461.40" cy="249.90" r="1.45" fill="#10518f"/>
<line x1="460.40" y1="238.80" x2="460.40" y2="250.00" stroke="#231f20" stroke-width="0.8"/>
<line x1="458.80" y1="238.80" x2="462.00" y2="238.80" stroke="#231f20" stroke-width="0.8"/>
<line x1="458.80" y1="250.00" x2="462.00" y2="250.00" stroke="#231f20" stroke-width="0.8"/>
<line x1="457.80" y1="244.80" x2="463.00" y2="244.80" stroke="#231f20" stroke-width="0.9"/>
<circle cx="466.70" cy="198.20" r="1.45" fill="#d2163c"/>
<circle cx="469.30" cy="204.10" r="1.45" fill="#d2163c"/>
<circle cx="468.00" cy="205.70" r="1.45" fill="#d2163c"/>
<circle cx="467.00" cy="207.20" r="1.45" fill="#d2163c"/>
<circle cx="469.00" cy="208.50" r="1.45" fill="#d2163c"/>
<line x1="468.00" y1="200.40" x2="468.00" y2="210.00" stroke="#231f20" stroke-width="0.8"/>
<line x1="466.40" y1="200.40" x2="469.60" y2="200.40" stroke="#231f20" stroke-width="0.8"/>
<line x1="466.40" y1="210.00" x2="469.60" y2="210.00" stroke="#231f20" stroke-width="0.8"/>
<line x1="465.40" y1="205.70" x2="470.60" y2="205.70" stroke="#231f20" stroke-width="0.9"/>
<circle cx="473.00" cy="210.50" r="1.45" fill="#10518f"/>
<circle cx="475.60" cy="220.40" r="1.45" fill="#10518f"/>
<circle cx="474.30" cy="221.40" r="1.45" fill="#10518f"/>
<circle cx="473.30" cy="226.70" r="1.45" fill="#10518f"/>
<circle cx="475.30" cy="227.80" r="1.45" fill="#10518f"/>
<line x1="474.30" y1="213.70" x2="474.30" y2="227.70" stroke="#231f20" stroke-width="0.8"/>
<line x1="472.70" y1="213.70" x2="475.90" y2="213.70" stroke="#231f20" stroke-width="0.8"/>
<line x1="472.70" y1="227.70" x2="475.90" y2="227.70" stroke="#231f20" stroke-width="0.8"/>
<line x1="471.70" y1="220.70" x2="476.90" y2="220.70" stroke="#231f20" stroke-width="0.9"/>
<circle cx="480.80" cy="220.80" r="1.45" fill="#d2163c"/>
<circle cx="483.40" cy="221.90" r="1.45" fill="#d2163c"/>
<circle cx="482.10" cy="222.80" r="1.45" fill="#d2163c"/>
<circle cx="481.10" cy="224.00" r="1.45" fill="#d2163c"/>
<circle cx="483.10" cy="224.80" r="1.45" fill="#d2163c"/>
<line x1="482.10" y1="220.50" x2="482.10" y2="225.00" stroke="#231f20" stroke-width="0.8"/>
<line x1="480.50" y1="220.50" x2="483.70" y2="220.50" stroke="#231f20" stroke-width="0.8"/>
<line x1="480.50" y1="225.00" x2="483.70" y2="225.00" stroke="#231f20" stroke-width="0.8"/>
<line x1="479.50" y1="222.80" x2="484.70" y2="222.80" stroke="#231f20" stroke-width="0.9"/>
<circle cx="486.70" cy="216.00" r="1.45" fill="#10518f"/>
<circle cx="489.30" cy="217.00" r="1.45" fill="#10518f"/>
<circle cx="488.00" cy="218.50" r="1.45" fill="#10518f"/>
<circle cx="487.00" cy="219.70" r="1.45" fill="#10518f"/>
<circle cx="489.00" cy="222.30" r="1.45" fill="#10518f"/>
<line x1="488.00" y1="215.50" x2="488.00" y2="222.00" stroke="#231f20" stroke-width="0.8"/>
<line x1="486.40" y1="215.50" x2="489.60" y2="215.50" stroke="#231f20" stroke-width="0.8"/>
<line x1="486.40" y1="222.00" x2="489.60" y2="222.00" stroke="#231f20" stroke-width="0.8"/>
<line x1="485.40" y1="218.50" x2="490.60" y2="218.50" stroke="#231f20" stroke-width="0.9"/>
<circle cx="494.50" cy="246.20" r="1.45" fill="#d2163c"/>
<circle cx="497.10" cy="249.90" r="1.45" fill="#d2163c"/>
<circle cx="495.80" cy="250.50" r="1.45" fill="#d2163c"/>
<circle cx="494.80" cy="251.00" r="1.45" fill="#d2163c"/>
<circle cx="496.80" cy="251.30" r="1.45" fill="#d2163c"/>
<line x1="495.80" y1="247.00" x2="495.80" y2="252.50" stroke="#231f20" stroke-width="0.8"/>
<line x1="494.20" y1="247.00" x2="497.40" y2="247.00" stroke="#231f20" stroke-width="0.8"/>
<line x1="494.20" y1="252.50" x2="497.40" y2="252.50" stroke="#231f20" stroke-width="0.8"/>
<line x1="493.20" y1="249.80" x2="498.40" y2="249.80" stroke="#231f20" stroke-width="0.9"/>
<circle cx="500.00" cy="246.50" r="1.45" fill="#10518f"/>
<circle cx="502.60" cy="247.70" r="1.45" fill="#10518f"/>
<circle cx="501.30" cy="248.40" r="1.45" fill="#10518f"/>
<circle cx="500.30" cy="248.50" r="1.45" fill="#10518f"/>
<circle cx="502.30" cy="248.90" r="1.45" fill="#10518f"/>
<line x1="501.30" y1="246.50" x2="501.30" y2="249.50" stroke="#231f20" stroke-width="0.8"/>
<line x1="499.70" y1="246.50" x2="502.90" y2="246.50" stroke="#231f20" stroke-width="0.8"/>
<line x1="499.70" y1="249.50" x2="502.90" y2="249.50" stroke="#231f20" stroke-width="0.8"/>
<line x1="498.70" y1="248.00" x2="503.90" y2="248.00" stroke="#231f20" stroke-width="0.9"/>
<text transform="translate(458.3,266.5) rotate(-45)" font-size="8.7" font-style="italic" fill="#231f20" text-anchor="end" textLength="14.5" lengthAdjust="spacingAndGlyphs">Ifnlr1</text>
<text transform="translate(472.4,267.2) rotate(-45)" font-size="8.7" font-style="italic" fill="#231f20" text-anchor="end" textLength="17.5" lengthAdjust="spacingAndGlyphs">Il10rb</text>
<text transform="translate(485.7,266.5) rotate(-45)" font-size="8.7" font-style="italic" fill="#231f20" text-anchor="end" textLength="17" lengthAdjust="spacingAndGlyphs">Ifnar1</text>
<text transform="translate(499.4,266.9) rotate(-45)" font-size="8.7" font-style="italic" fill="#231f20" text-anchor="end" textLength="17" lengthAdjust="spacingAndGlyphs">Ifnar2</text>
<text x="364.00" y="303.20" font-size="12.3" fill="#000" font-weight="bold" textLength="7.20" lengthAdjust="spacingAndGlyphs">L</text>
<circle cx="412.6" cy="334.5" r="36.2" fill="none" stroke="#231f20" stroke-width="1.2"/>
<circle cx="447.4" cy="334.5" r="36.2" fill="none" stroke="#231f20" stroke-width="1.2"/>
<text x="393.70" y="338.10" font-size="10.8" fill="#231f20" textLength="10.80" lengthAdjust="spacingAndGlyphs">35</text>
<text x="423.40" y="338.10" font-size="10.8" fill="#231f20" textLength="16.00" lengthAdjust="spacingAndGlyphs">316</text>
<text x="457.60" y="338.10" font-size="10.8" fill="#231f20" textLength="15.60" lengthAdjust="spacingAndGlyphs">584</text>
<text x="397.2" y="381.8" font-size="9.2" fill="#231f20"><tspan textLength="17.4" lengthAdjust="spacingAndGlyphs">Lgr5</tspan><tspan font-size="6" dx="0.4" dy="-3.6">+</tspan></text>
<text x="441.8" y="381.8" font-size="9.2" fill="#231f20"><tspan textLength="17.4" lengthAdjust="spacingAndGlyphs">Lgr5</tspan><tspan font-size="6" dx="0.4" dy="-3.6">−</tspan></text>
<text x="408.60" y="393.60" font-size="9.0" fill="#231f20" textLength="46.20" lengthAdjust="spacingAndGlyphs">PEG-rIL-29</text>
<text x="15.20" y="426.70" font-size="12.3" fill="#000" font-weight="bold" textLength="8.50" lengthAdjust="spacingAndGlyphs">K</text>
<rect x="226.00" y="417.70" width="46.60" height="207.50" fill="none" stroke="#231f20" stroke-width="1.0"/>
<rect x="274.70" y="417.70" width="46.90" height="207.50" fill="none" stroke="#231f20" stroke-width="1.0"/>
<line x1="240.00" y1="417.70" x2="240.00" y2="627.70" stroke="#1a1a1a" stroke-width="1.1"/>
<line x1="260.50" y1="417.70" x2="260.50" y2="627.70" stroke="#1a1a1a" stroke-width="1.1"/>
<line x1="288.00" y1="417.70" x2="288.00" y2="627.70" stroke="#1a1a1a" stroke-width="1.1"/>
<line x1="308.10" y1="417.70" x2="308.10" y2="627.70" stroke="#1a1a1a" stroke-width="1.1"/>
<text x="222.20" y="429.35" font-size="8.2" fill="#231f20" text-anchor="end" textLength="67.50" lengthAdjust="spacingAndGlyphs">Interferon signaling</text>
<line x1="223.20" y1="426.75" x2="226.00" y2="426.75" stroke="#231f20" stroke-width="0.8"/>
<text x="222.20" y="443.10" font-size="8.2" fill="#231f20" text-anchor="end" textLength="117.50" lengthAdjust="spacingAndGlyphs">Activation of IRF by cytosolic PRR</text>
<line x1="223.20" y1="440.50" x2="226.00" y2="440.50" stroke="#231f20" stroke-width="0.8"/>
<text x="222.20" y="455.80" font-size="8.2" fill="#231f20" text-anchor="end" textLength="105.75" lengthAdjust="spacingAndGlyphs">Antigen presentation pathway</text>
<line x1="223.20" y1="453.20" x2="226.00" y2="453.20" stroke="#231f20" stroke-width="0.8"/>
<text x="222.20" y="471.10" font-size="8.2" fill="#231f20" text-anchor="end" textLength="107.50" lengthAdjust="spacingAndGlyphs">Protein ubiquitination pathway</text>
<line x1="223.20" y1="468.50" x2="226.00" y2="468.50" stroke="#231f20" stroke-width="0.8"/>
<text x="222.20" y="482.60" font-size="8.2" fill="#231f20" text-anchor="end" textLength="87.00" lengthAdjust="spacingAndGlyphs">Death receptor signaling</text>
<line x1="223.20" y1="480.00" x2="226.00" y2="480.00" stroke="#231f20" stroke-width="0.8"/>
<text x="222.20" y="496.90" font-size="8.2" fill="#231f20" text-anchor="end" textLength="137.00" lengthAdjust="spacingAndGlyphs">Role of RLR in antiviral innate immunity</text>
<line x1="223.20" y1="494.30" x2="226.00" y2="494.30" stroke="#231f20" stroke-width="0.8"/>
<text x="222.20" y="511.10" font-size="8.2" fill="#231f20" text-anchor="end" textLength="108.25" lengthAdjust="spacingAndGlyphs">SLE in B cell signaling pathway</text>
<line x1="223.20" y1="508.50" x2="226.00" y2="508.50" stroke="#231f20" stroke-width="0.8"/>
<text x="222.20" y="525.10" font-size="8.2" fill="#231f20" text-anchor="end" textLength="97.00" lengthAdjust="spacingAndGlyphs">Allograft rejection signaling</text>
<line x1="223.20" y1="522.50" x2="226.00" y2="522.50" stroke="#231f20" stroke-width="0.8"/>
<text x="222.20" y="538.40" font-size="8.2" fill="#231f20" text-anchor="end" textLength="85.00" lengthAdjust="spacingAndGlyphs">OX40 signaling pathway</text>
<line x1="223.20" y1="535.80" x2="226.00" y2="535.80" stroke="#231f20" stroke-width="0.8"/>
<text x="222.20" y="553.40" font-size="8.2" fill="#231f20" text-anchor="end" textLength="208.80" lengthAdjust="spacingAndGlyphs">Communication between innate and adaptive immune cells</text>
<line x1="223.20" y1="550.80" x2="226.00" y2="550.80" stroke="#231f20" stroke-width="0.8"/>
<text x="222.20" y="563.00" font-size="8.2" fill="#231f20" text-anchor="end" textLength="133.10" lengthAdjust="spacingAndGlyphs">Neuroinflammation signaling pathway</text>
<line x1="223.20" y1="560.40" x2="226.00" y2="560.40" stroke="#231f20" stroke-width="0.8"/>
<text x="222.20" y="578.20" font-size="8.2" fill="#231f20" text-anchor="end" textLength="179.30" lengthAdjust="spacingAndGlyphs">Role of PKR in IFN induction and antiviral response</text>
<line x1="223.20" y1="575.60" x2="226.00" y2="575.60" stroke="#231f20" stroke-width="0.8"/>
<text x="222.20" y="591.90" font-size="8.2" fill="#231f20" text-anchor="end" textLength="174.00" lengthAdjust="spacingAndGlyphs">Role of PRR in recognition of bacteria and viruses</text>
<line x1="223.20" y1="589.30" x2="226.00" y2="589.30" stroke="#231f20" stroke-width="0.8"/>
<text x="222.20" y="604.00" font-size="8.2" fill="#231f20" text-anchor="end" textLength="89.30" lengthAdjust="spacingAndGlyphs">FAT 10 signaling pathway</text>
<line x1="223.20" y1="601.40" x2="226.00" y2="601.40" stroke="#231f20" stroke-width="0.8"/>
<text x="222.20" y="619.60" font-size="8.2" fill="#231f20" text-anchor="end" textLength="158.50" lengthAdjust="spacingAndGlyphs">PD-1, PD-L1 cancer immunotherapy pathway</text>
<line x1="223.20" y1="617.00" x2="226.00" y2="617.00" stroke="#231f20" stroke-width="0.8"/>
<text x="325.20" y="430.50" font-size="8.2" fill="#231f20" textLength="64.80" lengthAdjust="spacingAndGlyphs">GADD45 signaling</text>
<line x1="321.60" y1="427.90" x2="324.40" y2="427.90" stroke="#231f20" stroke-width="0.8"/>
<text x="325.20" y="443.50" font-size="8.2" fill="#231f20" textLength="140.80" lengthAdjust="spacingAndGlyphs">DNA damage-induced 14-3-3s signaling</text>
<line x1="321.60" y1="440.90" x2="324.40" y2="440.90" stroke="#231f20" stroke-width="0.8"/>
<text x="325.20" y="457.50" font-size="8.2" fill="#231f20" textLength="111.30" lengthAdjust="spacingAndGlyphs">Cyclins and cell cycle regulation</text>
<line x1="321.60" y1="454.90" x2="324.40" y2="454.90" stroke="#231f20" stroke-width="0.8"/>
<text x="325.20" y="471.40" font-size="8.2" fill="#231f20" textLength="151.30" lengthAdjust="spacingAndGlyphs">Retinoic acid mediated apoptosis signaling</text>
<line x1="321.60" y1="468.80" x2="324.40" y2="468.80" stroke="#231f20" stroke-width="0.8"/>
<text x="325.20" y="484.80" font-size="8.2" fill="#231f20" textLength="162.80" lengthAdjust="spacingAndGlyphs">Antiproliferative role of TOB in T cell signaling</text>
<line x1="321.60" y1="482.20" x2="324.40" y2="482.20" stroke="#231f20" stroke-width="0.8"/>
<text x="325.20" y="496.60" font-size="8.2" fill="#231f20" textLength="136.80" lengthAdjust="spacingAndGlyphs">CTL-mediated apoptosis of target cells</text>
<line x1="321.60" y1="494.00" x2="324.40" y2="494.00" stroke="#231f20" stroke-width="0.8"/>
<text x="325.20" y="510.80" font-size="8.2" fill="#231f20" textLength="109.40" lengthAdjust="spacingAndGlyphs">Mitotic roles of polo-like kinase</text>
<line x1="321.60" y1="508.20" x2="324.40" y2="508.20" stroke="#231f20" stroke-width="0.8"/>
<text x="325.20" y="526.80" font-size="8.2" fill="#231f20" textLength="153.60" lengthAdjust="spacingAndGlyphs">Cell cycle regulation by BTG family proteins</text>
<line x1="321.60" y1="524.20" x2="324.40" y2="524.20" stroke="#231f20" stroke-width="0.8"/>
<text x="325.20" y="540.60" font-size="8.2" fill="#231f20" textLength="134.00" lengthAdjust="spacingAndGlyphs">Cell cycle: G1/S checkpoint regulation</text>
<line x1="321.60" y1="538.00" x2="324.40" y2="538.00" stroke="#231f20" stroke-width="0.8"/>
<text x="325.20" y="551.00" font-size="8.2" fill="#231f20" textLength="188.30" lengthAdjust="spacingAndGlyphs">Cell cycle: G2/M DNA damage checkpoint regulation</text>
<line x1="321.60" y1="548.40" x2="324.40" y2="548.40" stroke="#231f20" stroke-width="0.8"/>
<text x="325.20" y="565.20" font-size="8.2" fill="#231f20" textLength="185.20" lengthAdjust="spacingAndGlyphs">Role of CHK proteins in cell cycle checkpoint control</text>
<line x1="321.60" y1="562.60" x2="324.40" y2="562.60" stroke="#231f20" stroke-width="0.8"/>
<text x="325.20" y="578.00" font-size="8.2" fill="#231f20" textLength="159.00" lengthAdjust="spacingAndGlyphs">Cell cycle control of chromosomal replication</text>
<line x1="321.60" y1="575.40" x2="324.40" y2="575.40" stroke="#231f20" stroke-width="0.8"/>
<text x="325.20" y="592.20" font-size="8.2" fill="#231f20" textLength="78.60" lengthAdjust="spacingAndGlyphs">Role of BRCA1 in DDR</text>
<line x1="321.60" y1="589.60" x2="324.40" y2="589.60" stroke="#231f20" stroke-width="0.8"/>
<text x="325.20" y="605.60" font-size="8.2" fill="#231f20" textLength="49.40" lengthAdjust="spacingAndGlyphs">ATM signaling</text>
<line x1="321.60" y1="603.00" x2="324.40" y2="603.00" stroke="#231f20" stroke-width="0.8"/>
<text x="325.20" y="619.00" font-size="8.2" fill="#231f20" textLength="45.80" lengthAdjust="spacingAndGlyphs">BER pathway</text>
<line x1="321.60" y1="616.40" x2="324.40" y2="616.40" stroke="#231f20" stroke-width="0.8"/>
<circle cx="240.00" cy="427.00" r="6.45" fill="#c87060" stroke="#1a1a1a" stroke-width="1.1"/>
<circle cx="260.50" cy="427.00" r="6.35" fill="#cf7e6e" stroke="#1a1a1a" stroke-width="1.1"/>
<circle cx="288.00" cy="427.00" r="5.25" fill="#ffffff" stroke="#1a1a1a" stroke-width="1.1"/>
<circle cx="308.10" cy="427.00" r="5.05" fill="#ffffff" stroke="#1a1a1a" stroke-width="1.1"/>
<circle cx="240.00" cy="440.50" r="6.85" fill="#f0d4ce" stroke="#1a1a1a" stroke-width="1.1"/>
<circle cx="260.50" cy="440.50" r="4.95" fill="#e6b4a8" stroke="#1a1a1a" stroke-width="1.1"/>
<circle cx="288.00" cy="440.50" r="5.25" fill="#ffffff" stroke="#1a1a1a" stroke-width="1.1"/>
<circle cx="308.10" cy="440.50" r="6.15" fill="#ffffff" stroke="#1a1a1a" stroke-width="1.1"/>
<circle cx="240.00" cy="454.00" r="6.15" fill="#ffffff" stroke="#1a1a1a" stroke-width="1.1"/>
<circle cx="260.50" cy="454.00" r="5.35" fill="#ffffff" stroke="#1a1a1a" stroke-width="1.1"/>
<circle cx="288.00" cy="454.00" r="5.05" fill="#d88a7a" stroke="#1a1a1a" stroke-width="1.1"/>
<circle cx="308.10" cy="454.00" r="5.85" fill="#c86a5a" stroke="#1a1a1a" stroke-width="1.1"/>
<circle cx="240.00" cy="467.50" r="5.75" fill="#ffffff" stroke="#1a1a1a" stroke-width="1.1"/>
<circle cx="260.50" cy="467.50" r="5.25" fill="#ffffff" stroke="#1a1a1a" stroke-width="1.1"/>
<circle cx="288.00" cy="467.50" r="4.65" fill="#d88a7a" stroke="#1a1a1a" stroke-width="1.1"/>
<circle cx="308.10" cy="467.50" r="3.55" fill="#d88a7a" stroke="#1a1a1a" stroke-width="1.1"/>
<circle cx="240.00" cy="481.00" r="4.45" fill="#d08070" stroke="#1a1a1a" stroke-width="1.1"/>
<circle cx="260.50" cy="481.00" r="3.65" fill="#d08070" stroke="#1a1a1a" stroke-width="1.1"/>
<circle cx="288.00" cy="481.00" r="4.25" fill="#ffffff" stroke="#1a1a1a" stroke-width="1.1"/>
<circle cx="308.10" cy="481.00" r="3.85" fill="#ffffff" stroke="#1a1a1a" stroke-width="1.1"/>
<circle cx="240.00" cy="494.50" r="4.40" fill="#f5d8d0" stroke="#1a1a1a" stroke-width="1.1"/>
<circle cx="260.50" cy="494.50" r="3.65" fill="#efc5bb" stroke="#1a1a1a" stroke-width="1.1"/>
<circle cx="288.00" cy="494.50" r="4.25" fill="#ffffff" stroke="#1a1a1a" stroke-width="1.1"/>
<circle cx="308.10" cy="494.50" r="3.45" fill="#ffffff" stroke="#1a1a1a" stroke-width="1.1"/>
<circle cx="240.00" cy="508.00" r="4.45" fill="#d07868" stroke="#1a1a1a" stroke-width="1.1"/>
<circle cx="260.50" cy="508.00" r="3.65" fill="#d07868" stroke="#1a1a1a" stroke-width="1.1"/>
<circle cx="288.00" cy="508.00" r="4.25" fill="#ffffff" stroke="#1a1a1a" stroke-width="1.1"/>
<circle cx="308.10" cy="508.00" r="6.35" fill="#e0a090" stroke="#1a1a1a" stroke-width="1.1"/>
<circle cx="240.00" cy="521.50" r="3.45" fill="#ffffff" stroke="#1a1a1a" stroke-width="1.1"/>
<circle cx="260.50" cy="521.50" r="2.95" fill="#ffffff" stroke="#1a1a1a" stroke-width="1.1"/>
<circle cx="288.00" cy="521.50" r="4.25" fill="#ffffff" stroke="#1a1a1a" stroke-width="1.1"/>
<circle cx="308.10" cy="521.50" r="4.75" fill="#d08070" stroke="#1a1a1a" stroke-width="1.1"/>
<circle cx="240.00" cy="535.00" r="3.55" fill="#ffffff" stroke="#1a1a1a" stroke-width="1.1"/>
<circle cx="260.50" cy="535.00" r="3.30" fill="#ffffff" stroke="#1a1a1a" stroke-width="1.1"/>
<circle cx="288.00" cy="535.00" r="4.15" fill="#dcdcf0" stroke="#1a1a1a" stroke-width="1.1"/>
<circle cx="308.10" cy="535.00" r="5.35" fill="#b0a8d8" stroke="#1a1a1a" stroke-width="1.1"/>
<circle cx="240.00" cy="548.50" r="3.45" fill="#ffffff" stroke="#1a1a1a" stroke-width="1.1"/>
<circle cx="260.50" cy="548.50" r="2.85" fill="#ffffff" stroke="#1a1a1a" stroke-width="1.1"/>
<circle cx="288.00" cy="548.50" r="4.25" fill="#ffffff" stroke="#1a1a1a" stroke-width="1.1"/>
<circle cx="308.10" cy="548.50" r="5.70" fill="#b0a8d8" stroke="#1a1a1a" stroke-width="1.1"/>
<circle cx="240.00" cy="562.00" r="4.25" fill="#e8b0a4" stroke="#1a1a1a" stroke-width="1.1"/>
<circle cx="260.50" cy="562.00" r="2.55" fill="#f5d0c8" stroke="#1a1a1a" stroke-width="1.1"/>
<circle cx="288.00" cy="562.00" r="3.05" fill="#ffffff" stroke="#1a1a1a" stroke-width="1.1"/>
<circle cx="308.10" cy="562.00" r="6.45" fill="#d8d4ee" stroke="#1a1a1a" stroke-width="1.1"/>
<circle cx="240.00" cy="575.50" r="3.45" fill="#ffffff" stroke="#1a1a1a" stroke-width="1.1"/>
<circle cx="260.50" cy="575.50" r="3.20" fill="#ffffff" stroke="#1a1a1a" stroke-width="1.1"/>
<circle cx="288.00" cy="575.50" r="3.05" fill="#ffffff" stroke="#1a1a1a" stroke-width="1.1"/>
<circle cx="308.10" cy="575.50" r="5.85" fill="#ffffff" stroke="#1a1a1a" stroke-width="1.1"/>
<circle cx="240.00" cy="589.00" r="4.40" fill="#e0907e" stroke="#1a1a1a" stroke-width="1.1"/>
<circle cx="260.50" cy="589.00" r="1.55" fill="#e09080" stroke="#1a1a1a" stroke-width="1.1"/>
<circle cx="288.00" cy="589.00" r="2.95" fill="#ffffff" stroke="#1a1a1a" stroke-width="1.1"/>
<circle cx="308.10" cy="589.00" r="5.05" fill="#f8e8e6" stroke="#1a1a1a" stroke-width="1.1"/>
<circle cx="240.00" cy="602.50" r="3.65" fill="#ffffff" stroke="#1a1a1a" stroke-width="1.1"/>
<circle cx="260.50" cy="602.50" r="3.45" fill="#ffffff" stroke="#1a1a1a" stroke-width="1.1"/>
<circle cx="288.00" cy="602.50" r="2.95" fill="#ffffff" stroke="#1a1a1a" stroke-width="1.1"/>
<circle cx="308.10" cy="602.50" r="4.75" fill="#ecc0b4" stroke="#1a1a1a" stroke-width="1.1"/>
<circle cx="240.00" cy="616.00" r="2.35" fill="#ffffff" stroke="#1a1a1a" stroke-width="1.1"/>
<circle cx="260.50" cy="616.00" r="3.65" fill="#d0d0ee" stroke="#1a1a1a" stroke-width="1.1"/>
<path d="M286.0 614.0L290.0 614.0L286.0 618.0L290.0 618.0Z" fill="#111" stroke="#111" stroke-width="0.6"/>
<circle cx="308.10" cy="616.00" r="3.95" fill="#ffffff" stroke="#1a1a1a" stroke-width="1.1"/>
<text x="225.8" y="637.4" font-size="9.3" fill="#231f20"><tspan textLength="17.9" lengthAdjust="spacingAndGlyphs">Lgr5</tspan><tspan font-size="6" dx="0.4" dy="-3.6">+</tspan></text>
<text x="251.9" y="637.4" font-size="9.3" fill="#231f20"><tspan textLength="17.9" lengthAdjust="spacingAndGlyphs">Lgr5</tspan><tspan font-size="6" dx="0.4" dy="-3.6">−</tspan></text>
<text x="277.5" y="637.4" font-size="9.3" fill="#231f20"><tspan textLength="17.9" lengthAdjust="spacingAndGlyphs">Lgr5</tspan><tspan font-size="6" dx="0.4" dy="-3.6">+</tspan></text>
<text x="303.8" y="637.4" font-size="9.3" fill="#231f20"><tspan textLength="17.9" lengthAdjust="spacingAndGlyphs">Lgr5</tspan><tspan font-size="6" dx="0.4" dy="-3.6">−</tspan></text>
<circle cx="218.30" cy="651.80" r="4.15" fill="#000"/>
<text x="218.30" y="665.80" font-size="7.4" fill="#231f20" text-anchor="middle">2</text>
<circle cx="230.00" cy="651.80" r="5.30" fill="#000"/>
<text x="230.00" y="665.80" font-size="7.4" fill="#231f20" text-anchor="middle">4</text>
<circle cx="243.80" cy="651.80" r="6.20" fill="#000"/>
<text x="243.80" y="665.80" font-size="7.4" fill="#231f20" text-anchor="middle">6</text>
<circle cx="259.90" cy="651.80" r="6.80" fill="#000"/>
<text x="259.90" y="665.80" font-size="7.4" fill="#231f20" text-anchor="middle">8</text>
<text x="209.30" y="671.40" font-size="7.4" fill="#231f20" textLength="56.00" lengthAdjust="spacingAndGlyphs">−log10 (p value)</text>
<defs><linearGradient id="zg" x1="0" x2="1" y1="0" y2="0"><stop offset="0" stop-color="#3a3a94"/><stop offset="0.3" stop-color="#4a4aa0"/><stop offset="0.42" stop-color="#b8b8dc"/><stop offset="0.5" stop-color="#ffffff"/><stop offset="0.6" stop-color="#e8b0a0"/><stop offset="0.72" stop-color="#b82a20"/><stop offset="1" stop-color="#9c0a0a"/></linearGradient></defs>
<rect x="283.2" y="647.1" width="47" height="9" fill="url(#zg)" stroke="#111" stroke-width="0.8"/>
<text x="274.00" y="665.40" font-size="7.4" fill="#231f20" textLength="13.00" lengthAdjust="spacingAndGlyphs">−10</text>
<text x="289.50" y="665.40" font-size="7.4" fill="#231f20" textLength="9.10" lengthAdjust="spacingAndGlyphs">−5</text>
<text x="303.90" y="665.40" font-size="7.4" fill="#231f20" textLength="3.90" lengthAdjust="spacingAndGlyphs">0</text>
<text x="315.50" y="665.40" font-size="7.4" fill="#231f20" textLength="3.30" lengthAdjust="spacingAndGlyphs">5</text>
<text x="324.10" y="665.40" font-size="7.4" fill="#231f20" textLength="8.70" lengthAdjust="spacingAndGlyphs">10</text>
<text x="274.00" y="672.00" font-size="7.4" fill="#231f20" textLength="64.50" lengthAdjust="spacingAndGlyphs">Activation Z−score</text>
<rect x="0.6" y="0.55" width="518.8" height="675.8" fill="none" stroke="#000" stroke-width="1.3"/>
</svg></body></html>
